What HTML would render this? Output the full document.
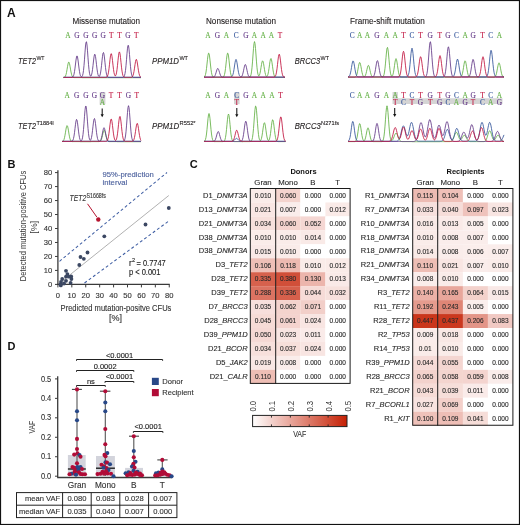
<!DOCTYPE html>
<html><head><meta charset="utf-8"><style>
html,body{margin:0;padding:0;background:#fff;}
svg{display:block;will-change:transform;}
</style></head><body>
<svg width="520" height="525" viewBox="0 0 520 525">
<rect width="520" height="525" fill="#fff"/>
<text x="7.00" y="16.80" font-size="12" font-family='"Liberation Sans", sans-serif' fill="#111" font-weight="bold">A</text>
<text x="72.50" y="24.40" font-size="8.3" font-family='"Liberation Sans", sans-serif' fill="#231f20" textLength="67.5" lengthAdjust="spacingAndGlyphs" stroke="#231f20" stroke-width="0.12">Missense mutation</text>
<text x="206.00" y="24.40" font-size="8.3" font-family='"Liberation Sans", sans-serif' fill="#231f20" textLength="70" lengthAdjust="spacingAndGlyphs" stroke="#231f20" stroke-width="0.12">Nonsense mutation</text>
<text x="350.00" y="24.40" font-size="8.3" font-family='"Liberation Sans", sans-serif' fill="#231f20" textLength="74.8" lengthAdjust="spacingAndGlyphs" stroke="#231f20" stroke-width="0.12">Frame-shift mutation</text>
<text x="18.00" y="63.80" font-size="8.6" font-family='"Liberation Sans", sans-serif' fill="#231f20" font-style="italic" textLength="18" lengthAdjust="spacingAndGlyphs" stroke="#231f20" stroke-width="0.12">TET2</text>
<text x="36.40" y="60.20" font-size="6.0" font-family='"Liberation Sans", sans-serif' fill="#231f20" textLength="8.2" lengthAdjust="spacingAndGlyphs" stroke="#231f20" stroke-width="0.12">WT</text>
<text x="18.00" y="128.80" font-size="8.6" font-family='"Liberation Sans", sans-serif' fill="#231f20" font-style="italic" textLength="18" lengthAdjust="spacingAndGlyphs" stroke="#231f20" stroke-width="0.12">TET2</text>
<text x="36.40" y="125.20" font-size="6.0" font-family='"Liberation Sans", sans-serif' fill="#231f20" textLength="17.5" lengthAdjust="spacingAndGlyphs" stroke="#231f20" stroke-width="0.12">T1884I</text>
<text x="152.00" y="63.80" font-size="8.6" font-family='"Liberation Sans", sans-serif' fill="#231f20" font-style="italic" textLength="27" lengthAdjust="spacingAndGlyphs" stroke="#231f20" stroke-width="0.12">PPM1D</text>
<text x="179.40" y="60.20" font-size="6.0" font-family='"Liberation Sans", sans-serif' fill="#231f20" textLength="8.6" lengthAdjust="spacingAndGlyphs" stroke="#231f20" stroke-width="0.12">WT</text>
<text x="152.00" y="128.70" font-size="8.6" font-family='"Liberation Sans", sans-serif' fill="#231f20" font-style="italic" textLength="27.2" lengthAdjust="spacingAndGlyphs" stroke="#231f20" stroke-width="0.12">PPM1D</text>
<text x="179.60" y="125.10" font-size="6.0" font-family='"Liberation Sans", sans-serif' fill="#231f20" textLength="16" lengthAdjust="spacingAndGlyphs" stroke="#231f20" stroke-width="0.12">R552*</text>
<text x="294.80" y="63.80" font-size="8.6" font-family='"Liberation Sans", sans-serif' fill="#231f20" font-style="italic" textLength="25.4" lengthAdjust="spacingAndGlyphs" stroke="#231f20" stroke-width="0.12">BRCC3</text>
<text x="320.60" y="60.20" font-size="6.0" font-family='"Liberation Sans", sans-serif' fill="#231f20" textLength="8.4" lengthAdjust="spacingAndGlyphs" stroke="#231f20" stroke-width="0.12">WT</text>
<text x="294.70" y="128.80" font-size="8.6" font-family='"Liberation Sans", sans-serif' fill="#231f20" font-style="italic" textLength="26" lengthAdjust="spacingAndGlyphs" stroke="#231f20" stroke-width="0.12">BRCC3</text>
<text x="321.10" y="125.20" font-size="6.0" font-family='"Liberation Sans", sans-serif' fill="#231f20" textLength="18" lengthAdjust="spacingAndGlyphs" stroke="#231f20" stroke-width="0.12">N271fs</text>
<text x="68.00" y="37.90" font-size="7.35" font-family='"Liberation Serif", serif' fill="#62b043" text-anchor="middle" stroke="#62b043" stroke-width="0.1">A</text>
<text x="76.80" y="37.90" font-size="7.35" font-family='"Liberation Serif", serif' fill="#623786" text-anchor="middle" stroke="#623786" stroke-width="0.1">G</text>
<text x="86.00" y="37.90" font-size="7.35" font-family='"Liberation Serif", serif' fill="#623786" text-anchor="middle" stroke="#623786" stroke-width="0.1">G</text>
<text x="94.60" y="37.90" font-size="7.35" font-family='"Liberation Serif", serif' fill="#623786" text-anchor="middle" stroke="#623786" stroke-width="0.1">G</text>
<text x="103.20" y="37.90" font-size="7.35" font-family='"Liberation Serif", serif' fill="#623786" text-anchor="middle" stroke="#623786" stroke-width="0.1">G</text>
<text x="111.20" y="37.90" font-size="7.35" font-family='"Liberation Serif", serif' fill="#c0143f" text-anchor="middle" stroke="#c0143f" stroke-width="0.1">T</text>
<text x="119.40" y="37.90" font-size="7.35" font-family='"Liberation Serif", serif' fill="#c0143f" text-anchor="middle" stroke="#c0143f" stroke-width="0.1">T</text>
<text x="128.00" y="37.90" font-size="7.35" font-family='"Liberation Serif", serif' fill="#623786" text-anchor="middle" stroke="#623786" stroke-width="0.1">G</text>
<text x="136.30" y="37.90" font-size="7.35" font-family='"Liberation Serif", serif' fill="#c0143f" text-anchor="middle" stroke="#c0143f" stroke-width="0.1">T</text>
<polyline points="63.5,77.6 64.0,77.5 64.5,77.3 65.0,76.9 65.5,76.0 66.0,74.6 66.5,72.5 67.0,69.7 67.5,66.7 68.0,64.0 68.5,62.3 69.0,62.2 69.5,63.6 70.0,66.1 70.5,69.1 71.0,72.0 71.5,74.2 72.0,75.8 72.5,76.7 73.0,77.3 73.5,77.5 74.0,77.6 74.5,77.6 75.0,77.6 75.5,77.6 76.0,77.6 76.5,77.6 77.0,77.6 77.5,77.6 78.0,77.6 78.5,77.6 79.0,77.6 79.5,77.6 80.0,77.6 80.5,77.6 81.0,77.6 81.5,77.6 82.0,77.7 82.5,77.7 83.0,77.7 83.5,77.7 84.0,77.7 84.5,77.7 85.0,77.7 85.5,77.7 86.0,77.7 86.5,77.7 87.0,77.7 87.5,77.7 88.0,77.7 88.5,77.7 89.0,77.7 89.5,77.7 90.0,77.7 90.5,77.7 91.0,77.7 91.5,77.7 92.0,77.7 92.5,77.7 93.0,77.7 93.5,77.7 94.0,77.7 94.5,77.7 95.0,77.7 95.5,77.7 96.0,77.7 96.5,77.7 97.0,77.7 97.5,77.7 98.0,77.7 98.5,77.7 99.0,77.7 99.5,77.7 100.0,77.7 100.5,77.7 101.0,77.7 101.5,77.7 102.0,77.7 102.5,77.7 103.0,77.7 103.5,77.7 104.0,77.7 104.5,77.7 105.0,77.7 105.5,77.7 106.0,77.7 106.5,77.7 107.0,77.7 107.5,77.7 108.0,77.7 108.5,77.7 109.0,77.7 109.5,77.7 110.0,77.7 110.5,77.7 111.0,77.7 111.5,77.7 112.0,77.7 112.5,77.7 113.0,77.7 113.5,77.7 114.0,77.7 114.5,77.7 115.0,77.7 115.5,77.7 116.0,77.7 116.5,77.7 117.0,77.7 117.5,77.7 118.0,77.7 118.5,77.7 119.0,77.7 119.5,77.7 120.0,77.7 120.5,77.7 121.0,77.7 121.5,77.7 122.0,77.7 122.5,77.7 123.0,77.7 123.5,77.7 124.0,77.7 124.5,77.7 125.0,77.7 125.5,77.7 126.0,77.7 126.5,77.7 127.0,77.7 127.5,77.7 128.0,77.7 128.5,77.7 129.0,77.7 129.5,77.7 130.0,77.7 130.5,77.7 131.0,77.7 131.5,77.7 132.0,77.7 132.5,77.7 133.0,77.7 133.5,77.7 134.0,77.7 134.5,77.7 135.0,77.7 135.5,77.7 136.0,77.7 136.5,77.7 137.0,77.7 137.5,77.7 138.0,77.7 138.5,77.7 139.0,77.7 139.5,77.7 140.0,77.7 140.5,77.7 141.0,77.7" fill="none" stroke="#62b043" stroke-width="0.85" stroke-linejoin="round"/>
<polyline points="63.5,77.2 64.0,77.2 64.5,77.2 65.0,77.2 65.5,77.2 66.0,77.2 66.5,77.2 67.0,77.2 67.5,77.2 68.0,77.2 68.5,77.2 69.0,77.2 69.5,77.2 70.0,77.2 70.5,77.2 71.0,77.2 71.5,77.2 72.0,77.2 72.5,77.2 73.0,77.2 73.5,77.2 74.0,77.2 74.5,77.2 75.0,77.2 75.5,77.2 76.0,77.2 76.5,77.2 77.0,77.2 77.5,77.2 78.0,77.2 78.5,77.2 79.0,77.2 79.5,77.2 80.0,77.2 80.5,77.2 81.0,77.2 81.5,77.2 82.0,77.2 82.5,77.2 83.0,77.2 83.5,77.2 84.0,77.2 84.5,77.2 85.0,77.2 85.5,77.2 86.0,77.2 86.5,77.2 87.0,77.2 87.5,77.2 88.0,77.2 88.5,77.2 89.0,77.2 89.5,77.2 90.0,77.2 90.5,77.2 91.0,77.2 91.5,77.2 92.0,77.2 92.5,77.2 93.0,77.2 93.5,77.2 94.0,77.2 94.5,77.2 95.0,77.2 95.5,77.2 96.0,77.2 96.5,77.2 97.0,77.2 97.5,77.2 98.0,77.2 98.5,77.2 99.0,77.2 99.5,77.2 100.0,77.2 100.5,77.2 101.0,77.2 101.5,77.2 102.0,77.2 102.5,77.2 103.0,77.2 103.5,77.2 104.0,77.2 104.5,77.2 105.0,77.2 105.5,77.2 106.0,77.2 106.5,77.2 107.0,77.2 107.5,77.2 108.0,77.2 108.5,77.2 109.0,77.2 109.5,77.2 110.0,77.2 110.5,77.2 111.0,77.2 111.5,77.2 112.0,77.2 112.5,77.2 113.0,77.2 113.5,77.2 114.0,77.2 114.5,77.2 115.0,77.2 115.5,77.2 116.0,77.2 116.5,77.2 117.0,77.2 117.5,77.2 118.0,77.2 118.5,77.2 119.0,77.2 119.5,77.2 120.0,77.2 120.5,77.2 121.0,77.2 121.5,77.2 122.0,77.2 122.5,77.2 123.0,77.2 123.5,77.2 124.0,77.2 124.5,77.2 125.0,77.2 125.5,77.2 126.0,77.2 126.5,77.2 127.0,77.2 127.5,77.2 128.0,77.2 128.5,77.2 129.0,77.2 129.5,77.2 130.0,77.2 130.5,77.2 131.0,77.2 131.5,77.2 132.0,77.2 132.5,77.2 133.0,77.2 133.5,77.2 134.0,77.2 134.5,77.2 135.0,77.2 135.5,77.2 136.0,77.2 136.5,77.2 137.0,77.2 137.5,77.2 138.0,77.2 138.5,77.2 139.0,77.2 139.5,77.2 140.0,77.2 140.5,77.2 141.0,77.2" fill="none" stroke="#33549a" stroke-width="0.85" stroke-linejoin="round"/>
<polyline points="63.5,77.5 64.0,77.5 64.5,77.5 65.0,77.5 65.5,77.5 66.0,77.5 66.5,77.5 67.0,77.5 67.5,77.5 68.0,77.5 68.5,77.5 69.0,77.5 69.5,77.5 70.0,77.5 70.5,77.5 71.0,77.5 71.5,77.5 72.0,77.4 72.5,77.2 73.0,76.7 73.5,75.8 74.0,74.2 74.5,71.6 75.0,68.1 75.5,64.0 76.0,60.0 76.5,57.0 77.0,55.9 77.5,57.0 78.0,60.0 78.5,64.0 79.0,68.1 79.5,71.6 80.0,74.2 80.5,75.8 81.0,76.6 81.5,76.9 82.0,76.6 82.5,75.7 83.0,73.8 83.5,70.5 84.0,65.5 84.5,59.2 85.0,52.2 85.5,46.0 86.0,42.2 86.5,41.8 87.0,45.0 87.5,50.8 88.0,57.8 88.5,64.3 89.0,69.6 89.5,73.2 90.0,75.2 90.5,76.1 91.0,76.0 91.5,74.9 92.0,72.9 92.5,69.7 93.0,65.6 93.5,61.0 94.0,57.0 94.5,54.5 95.0,54.3 95.5,56.4 96.0,60.2 96.5,64.7 97.0,68.9 97.5,72.3 98.0,74.7 98.5,76.0 99.0,76.5 99.5,76.2 100.0,75.2 100.5,73.1 101.0,69.9 101.5,65.7 102.0,60.8 102.5,56.3 103.0,53.2 103.5,52.5 104.0,54.2 104.5,58.0 105.0,62.8 105.5,67.5 106.0,71.4 106.5,74.1 107.0,75.8 107.5,76.7 108.0,77.2 108.5,77.4 109.0,77.5 109.5,77.5 110.0,77.5 110.5,77.5 111.0,77.5 111.5,77.5 112.0,77.5 112.5,77.5 113.0,77.5 113.5,77.5 114.0,77.5 114.5,77.5 115.0,77.5 115.5,77.5 116.0,77.5 116.5,77.5 117.0,77.5 117.5,77.5 118.0,77.5 118.5,77.5 119.0,77.5 119.5,77.5 120.0,77.5 120.5,77.5 121.0,77.5 121.5,77.5 122.0,77.5 122.5,77.5 123.0,77.4 123.5,77.2 124.0,76.7 124.5,75.6 125.0,73.6 125.5,70.4 126.0,65.6 126.5,59.7 127.0,53.4 127.5,48.2 128.0,45.3 128.5,45.6 129.0,49.1 129.5,54.6 130.0,60.9 130.5,66.7 131.0,71.1 131.5,74.1 132.0,75.9 132.5,76.8 133.0,77.2 133.5,77.4 134.0,77.5 134.5,77.5 135.0,77.5 135.5,77.5 136.0,77.5 136.5,77.5 137.0,77.5 137.5,77.5 138.0,77.5 138.5,77.5 139.0,77.5 139.5,77.5 140.0,77.5 140.5,77.5 141.0,77.5" fill="none" stroke="#623786" stroke-width="0.85" stroke-linejoin="round"/>
<polyline points="63.5,77.4 64.0,77.4 64.5,77.4 65.0,77.4 65.5,77.4 66.0,77.4 66.5,77.4 67.0,77.4 67.5,77.4 68.0,77.4 68.5,77.4 69.0,77.4 69.5,77.4 70.0,77.4 70.5,77.4 71.0,77.4 71.5,77.4 72.0,77.4 72.5,77.4 73.0,77.4 73.5,77.4 74.0,77.4 74.5,77.4 75.0,77.4 75.5,77.4 76.0,77.4 76.5,77.4 77.0,77.4 77.5,77.4 78.0,77.4 78.5,77.4 79.0,77.4 79.5,77.4 80.0,77.4 80.5,77.4 81.0,77.4 81.5,77.4 82.0,77.4 82.5,77.4 83.0,77.4 83.5,77.4 84.0,77.4 84.5,77.4 85.0,77.4 85.5,77.4 86.0,77.4 86.5,77.4 87.0,77.4 87.5,77.4 88.0,77.4 88.5,77.4 89.0,77.4 89.5,77.4 90.0,77.4 90.5,77.4 91.0,77.4 91.5,77.4 92.0,77.4 92.5,77.4 93.0,77.4 93.5,77.4 94.0,77.4 94.5,77.4 95.0,77.4 95.5,77.4 96.0,77.4 96.5,77.4 97.0,77.4 97.5,77.4 98.0,77.4 98.5,77.4 99.0,77.4 99.5,77.4 100.0,77.4 100.5,77.4 101.0,77.4 101.5,77.4 102.0,77.4 102.5,77.4 103.0,77.4 103.5,77.4 104.0,77.4 104.5,77.4 105.0,77.4 105.5,77.4 106.0,77.3 106.5,77.2 107.0,76.8 107.5,76.0 108.0,74.6 108.5,72.2 109.0,68.7 109.5,64.3 110.0,59.7 110.5,55.8 111.0,53.7 111.5,53.9 112.0,56.5 112.5,60.6 113.0,65.2 113.5,69.4 114.0,72.7 114.5,74.7 115.0,75.8 115.5,75.8 116.0,74.9 116.5,72.9 117.0,69.7 117.5,65.3 118.0,60.4 118.5,55.8 119.0,52.6 119.5,51.9 120.0,53.6 120.5,57.5 121.0,62.4 121.5,67.2 122.0,71.1 122.5,73.9 123.0,75.7 123.5,76.6 124.0,77.1 124.5,77.3 125.0,77.4 125.5,77.4 126.0,77.4 126.5,77.4 127.0,77.4 127.5,77.4 128.0,77.4 128.5,77.4 129.0,77.4 129.5,77.4 130.0,77.4 130.5,77.4 131.0,77.3 131.5,77.3 132.0,77.0 132.5,76.5 133.0,75.5 133.5,73.9 134.0,71.4 134.5,68.2 135.0,64.7 135.5,61.6 136.0,59.6 136.5,59.5 137.0,61.1 137.5,64.0 138.0,67.5 138.5,70.8 139.0,73.4 139.5,75.3 140.0,76.4 140.5,76.9 141.0,77.2" fill="none" stroke="#c0143f" stroke-width="0.85" stroke-linejoin="round"/>
<rect x="99.6" y="92.3" width="5.8" height="11.9" fill="#d5d5d5"/>
<text x="67.10" y="97.80" font-size="7.35" font-family='"Liberation Serif", serif' fill="#62b043" text-anchor="middle" stroke="#62b043" stroke-width="0.1">A</text>
<text x="76.60" y="97.80" font-size="7.35" font-family='"Liberation Serif", serif' fill="#623786" text-anchor="middle" stroke="#623786" stroke-width="0.1">G</text>
<text x="85.80" y="97.80" font-size="7.35" font-family='"Liberation Serif", serif' fill="#623786" text-anchor="middle" stroke="#623786" stroke-width="0.1">G</text>
<text x="94.40" y="97.80" font-size="7.35" font-family='"Liberation Serif", serif' fill="#623786" text-anchor="middle" stroke="#623786" stroke-width="0.1">G</text>
<text x="102.50" y="97.80" font-size="7.35" font-family='"Liberation Serif", serif' fill="#623786" text-anchor="middle" stroke="#623786" stroke-width="0.1">G</text>
<text x="110.90" y="97.80" font-size="7.35" font-family='"Liberation Serif", serif' fill="#c0143f" text-anchor="middle" stroke="#c0143f" stroke-width="0.1">T</text>
<text x="119.40" y="97.80" font-size="7.35" font-family='"Liberation Serif", serif' fill="#c0143f" text-anchor="middle" stroke="#c0143f" stroke-width="0.1">T</text>
<text x="128.50" y="97.80" font-size="7.35" font-family='"Liberation Serif", serif' fill="#623786" text-anchor="middle" stroke="#623786" stroke-width="0.1">G</text>
<text x="136.70" y="97.80" font-size="7.35" font-family='"Liberation Serif", serif' fill="#c0143f" text-anchor="middle" stroke="#c0143f" stroke-width="0.1">T</text>
<text x="102.50" y="104.60" font-size="7.35" font-family='"Liberation Serif", serif' fill="#62b043" text-anchor="middle" stroke="#62b043" stroke-width="0.1">A</text>
<line x1="102.2" y1="108.4" x2="102.2" y2="114.8" stroke="#111" stroke-width="1.05"/>
<path d="M100.60000000000001,114.3 L102.2,117.3 L103.8,114.3 Z" fill="#111"/>
<polyline points="62.0,141.6 62.5,141.5 63.0,141.2 63.5,140.6 64.0,139.5 64.5,137.7 65.0,135.2 65.5,132.2 66.0,129.1 66.5,126.7 67.0,125.6 67.5,126.1 68.0,128.0 68.5,130.9 69.0,134.1 69.5,136.8 70.0,138.9 70.5,140.2 71.0,141.0 71.5,141.4 72.0,141.5 72.5,141.6 73.0,141.6 73.5,141.6 74.0,141.6 74.5,141.6 75.0,141.6 75.5,141.6 76.0,141.6 76.5,141.6 77.0,141.6 77.5,141.6 78.0,141.6 78.5,141.6 79.0,141.6 79.5,141.6 80.0,141.6 80.5,141.7 81.0,141.7 81.5,141.7 82.0,141.7 82.5,141.7 83.0,141.7 83.5,141.7 84.0,141.7 84.5,141.7 85.0,141.7 85.5,141.7 86.0,141.7 86.5,141.7 87.0,141.7 87.5,141.7 88.0,141.7 88.5,141.7 89.0,141.7 89.5,141.7 90.0,141.7 90.5,141.7 91.0,141.7 91.5,141.6 92.0,141.6 92.5,141.6 93.0,141.6 93.5,141.6 94.0,141.6 94.5,141.6 95.0,141.6 95.5,141.6 96.0,141.6 96.5,141.6 97.0,141.6 97.5,141.6 98.0,141.6 98.5,141.6 99.0,141.6 99.5,141.5 100.0,141.4 100.5,141.0 101.0,140.3 101.5,139.1 102.0,137.5 102.5,135.4 103.0,133.2 103.5,131.4 104.0,130.3 104.5,130.5 105.0,131.7 105.5,133.6 106.0,135.8 106.5,137.9 107.0,139.4 107.5,140.5 108.0,141.1 108.5,141.4 109.0,141.6 109.5,141.6 110.0,141.6 110.5,141.6 111.0,141.6 111.5,141.6 112.0,141.6 112.5,141.6 113.0,141.6 113.5,141.6 114.0,141.6 114.5,141.6 115.0,141.6 115.5,141.6 116.0,141.6 116.5,141.6 117.0,141.6 117.5,141.7 118.0,141.7 118.5,141.7 119.0,141.7 119.5,141.7 120.0,141.7 120.5,141.7 121.0,141.7 121.5,141.7 122.0,141.7 122.5,141.7 123.0,141.7 123.5,141.7 124.0,141.7 124.5,141.7 125.0,141.7 125.5,141.7 126.0,141.7 126.5,141.7 127.0,141.7 127.5,141.7 128.0,141.7 128.5,141.7 129.0,141.7 129.5,141.7 130.0,141.7 130.5,141.7 131.0,141.7 131.5,141.7 132.0,141.7 132.5,141.7 133.0,141.7 133.5,141.7 134.0,141.7 134.5,141.7 135.0,141.7 135.5,141.7 136.0,141.7 136.5,141.7 137.0,141.7 137.5,141.7 138.0,141.7 138.5,141.7 139.0,141.7 139.5,141.7 140.0,141.7 140.5,141.7 141.0,141.7" fill="none" stroke="#62b043" stroke-width="0.85" stroke-linejoin="round"/>
<polyline points="62.0,141.2 62.5,141.2 63.0,141.2 63.5,141.2 64.0,141.2 64.5,141.2 65.0,141.2 65.5,141.2 66.0,141.2 66.5,141.2 67.0,141.2 67.5,141.2 68.0,141.2 68.5,141.2 69.0,141.2 69.5,141.2 70.0,141.2 70.5,141.2 71.0,141.2 71.5,141.2 72.0,141.2 72.5,141.2 73.0,141.2 73.5,141.2 74.0,141.2 74.5,141.2 75.0,141.2 75.5,141.2 76.0,141.2 76.5,141.2 77.0,141.2 77.5,141.2 78.0,141.2 78.5,141.2 79.0,141.2 79.5,141.2 80.0,141.2 80.5,141.2 81.0,141.2 81.5,141.2 82.0,141.2 82.5,141.2 83.0,141.2 83.5,141.2 84.0,141.2 84.5,141.2 85.0,141.2 85.5,141.2 86.0,141.2 86.5,141.2 87.0,141.2 87.5,141.2 88.0,141.2 88.5,141.2 89.0,141.2 89.5,141.2 90.0,141.2 90.5,141.2 91.0,141.2 91.5,141.2 92.0,141.2 92.5,141.2 93.0,141.2 93.5,141.2 94.0,141.2 94.5,141.2 95.0,141.2 95.5,141.2 96.0,141.2 96.5,141.2 97.0,141.2 97.5,141.2 98.0,141.2 98.5,141.2 99.0,141.2 99.5,141.2 100.0,141.2 100.5,141.2 101.0,141.2 101.5,141.2 102.0,141.2 102.5,141.2 103.0,141.2 103.5,141.2 104.0,141.2 104.5,141.2 105.0,141.2 105.5,141.2 106.0,141.2 106.5,141.2 107.0,141.2 107.5,141.2 108.0,141.2 108.5,141.2 109.0,141.2 109.5,141.2 110.0,141.2 110.5,141.2 111.0,141.2 111.5,141.2 112.0,141.2 112.5,141.2 113.0,141.2 113.5,141.2 114.0,141.2 114.5,141.2 115.0,141.2 115.5,141.2 116.0,141.2 116.5,141.2 117.0,141.2 117.5,141.2 118.0,141.2 118.5,141.2 119.0,141.2 119.5,141.2 120.0,141.2 120.5,141.2 121.0,141.2 121.5,141.2 122.0,141.2 122.5,141.2 123.0,141.2 123.5,141.2 124.0,141.2 124.5,141.2 125.0,141.2 125.5,141.2 126.0,141.2 126.5,141.2 127.0,141.2 127.5,141.2 128.0,141.2 128.5,141.2 129.0,141.2 129.5,141.2 130.0,141.2 130.5,141.2 131.0,141.2 131.5,141.2 132.0,141.2 132.5,141.2 133.0,141.2 133.5,141.2 134.0,141.2 134.5,141.2 135.0,141.2 135.5,141.2 136.0,141.2 136.5,141.2 137.0,141.2 137.5,141.2 138.0,141.2 138.5,141.2 139.0,141.2 139.5,141.2 140.0,141.2 140.5,141.2 141.0,141.2" fill="none" stroke="#33549a" stroke-width="0.85" stroke-linejoin="round"/>
<polyline points="62.0,141.5 62.5,141.5 63.0,141.5 63.5,141.5 64.0,141.5 64.5,141.5 65.0,141.5 65.5,141.5 66.0,141.5 66.5,141.5 67.0,141.5 67.5,141.5 68.0,141.5 68.5,141.5 69.0,141.5 69.5,141.5 70.0,141.5 70.5,141.5 71.0,141.5 71.5,141.4 72.0,141.2 72.5,140.8 73.0,140.0 73.5,138.5 74.0,136.1 74.5,132.7 75.0,128.5 75.5,124.3 76.0,121.0 76.5,119.4 77.0,120.1 77.5,122.8 78.0,126.8 78.5,131.1 79.0,134.8 79.5,137.7 80.0,139.5 80.5,140.5 81.0,140.8 81.5,140.6 82.0,139.7 82.5,137.8 83.0,134.5 83.5,129.6 84.0,123.3 84.5,116.3 85.0,110.2 85.5,106.4 86.0,106.0 86.5,109.2 87.0,115.0 87.5,121.9 88.0,128.4 88.5,133.6 89.0,137.2 89.5,139.3 90.0,140.2 90.5,140.2 91.0,139.3 91.5,137.5 92.0,134.6 92.5,130.6 93.0,126.2 93.5,122.1 94.0,119.3 94.5,118.5 95.0,120.2 95.5,123.6 96.0,128.0 96.5,132.3 97.0,135.9 97.5,138.4 98.0,139.9 98.5,140.8 99.0,141.1 99.5,141.2 100.0,141.0 100.5,140.4 101.0,139.4 101.5,137.7 102.0,135.5 102.5,132.9 103.0,130.3 103.5,128.4 104.0,127.7 104.5,128.4 105.0,130.3 105.5,132.9 106.0,135.5 106.5,137.7 107.0,139.4 107.5,140.4 108.0,141.0 108.5,141.3 109.0,141.4 109.5,141.5 110.0,141.5 110.5,141.5 111.0,141.5 111.5,141.5 112.0,141.5 112.5,141.5 113.0,141.5 113.5,141.5 114.0,141.5 114.5,141.5 115.0,141.5 115.5,141.5 116.0,141.5 116.5,141.5 117.0,141.5 117.5,141.5 118.0,141.5 118.5,141.5 119.0,141.5 119.5,141.5 120.0,141.5 120.5,141.5 121.0,141.5 121.5,141.5 122.0,141.5 122.5,141.5 123.0,141.4 123.5,141.3 124.0,141.0 124.5,140.2 125.0,138.7 125.5,136.0 126.0,131.8 126.5,125.9 127.0,119.1 127.5,112.4 128.0,107.5 128.5,105.7 129.0,107.5 129.5,112.4 130.0,119.1 130.5,125.9 131.0,131.8 131.5,136.0 132.0,138.7 132.5,140.2 133.0,141.0 133.5,141.3 134.0,141.4 134.5,141.5 135.0,141.5 135.5,141.5 136.0,141.5 136.5,141.5 137.0,141.5 137.5,141.5 138.0,141.5 138.5,141.5 139.0,141.5 139.5,141.5 140.0,141.5 140.5,141.5 141.0,141.5" fill="none" stroke="#623786" stroke-width="0.85" stroke-linejoin="round"/>
<polyline points="62.0,141.4 62.5,141.4 63.0,141.4 63.5,141.4 64.0,141.4 64.5,141.4 65.0,141.4 65.5,141.4 66.0,141.4 66.5,141.4 67.0,141.4 67.5,141.4 68.0,141.4 68.5,141.4 69.0,141.4 69.5,141.4 70.0,141.4 70.5,141.4 71.0,141.4 71.5,141.4 72.0,141.4 72.5,141.4 73.0,141.4 73.5,141.4 74.0,141.4 74.5,141.4 75.0,141.4 75.5,141.4 76.0,141.4 76.5,141.4 77.0,141.4 77.5,141.4 78.0,141.4 78.5,141.4 79.0,141.4 79.5,141.4 80.0,141.4 80.5,141.4 81.0,141.4 81.5,141.4 82.0,141.4 82.5,141.4 83.0,141.4 83.5,141.4 84.0,141.4 84.5,141.4 85.0,141.4 85.5,141.4 86.0,141.4 86.5,141.4 87.0,141.4 87.5,141.4 88.0,141.4 88.5,141.4 89.0,141.4 89.5,141.4 90.0,141.4 90.5,141.4 91.0,141.4 91.5,141.4 92.0,141.4 92.5,141.4 93.0,141.4 93.5,141.4 94.0,141.4 94.5,141.4 95.0,141.4 95.5,141.4 96.0,141.4 96.5,141.4 97.0,141.4 97.5,141.4 98.0,141.4 98.5,141.4 99.0,141.4 99.5,141.4 100.0,141.4 100.5,141.4 101.0,141.4 101.5,141.4 102.0,141.4 102.5,141.4 103.0,141.4 103.5,141.4 104.0,141.4 104.5,141.4 105.0,141.4 105.5,141.4 106.0,141.3 106.5,141.2 107.0,140.8 107.5,140.1 108.0,138.7 108.5,136.5 109.0,133.2 109.5,129.1 110.0,124.7 110.5,121.1 111.0,119.1 111.5,119.3 112.0,121.7 112.5,125.6 113.0,129.9 113.5,133.9 114.0,137.0 114.5,139.0 115.0,140.1 115.5,140.5 116.0,140.2 116.5,139.1 117.0,137.0 117.5,133.8 118.0,129.6 118.5,124.7 119.0,120.2 119.5,117.1 120.0,116.4 120.5,118.1 121.0,121.9 121.5,126.7 122.0,131.4 122.5,135.3 123.0,138.0 123.5,139.7 124.0,140.6 124.5,141.1 125.0,141.3 125.5,141.4 126.0,141.4 126.5,141.4 127.0,141.4 127.5,141.4 128.0,141.4 128.5,141.4 129.0,141.4 129.5,141.4 130.0,141.4 130.5,141.4 131.0,141.4 131.5,141.4 132.0,141.3 132.5,141.2 133.0,140.9 133.5,140.4 134.0,139.3 134.5,137.4 135.0,134.8 135.5,131.5 136.0,128.0 136.5,125.1 137.0,123.5 137.5,123.6 138.0,125.6 138.5,128.7 139.0,132.2 139.5,135.4 140.0,137.9 140.5,139.5 141.0,140.5" fill="none" stroke="#c0143f" stroke-width="0.85" stroke-linejoin="round"/>
<text x="207.80" y="37.90" font-size="7.35" font-family='"Liberation Serif", serif' fill="#62b043" text-anchor="middle" stroke="#62b043" stroke-width="0.1">A</text>
<text x="217.30" y="37.90" font-size="7.35" font-family='"Liberation Serif", serif' fill="#623786" text-anchor="middle" stroke="#623786" stroke-width="0.1">G</text>
<text x="226.50" y="37.90" font-size="7.35" font-family='"Liberation Serif", serif' fill="#62b043" text-anchor="middle" stroke="#62b043" stroke-width="0.1">A</text>
<text x="236.30" y="37.90" font-size="7.35" font-family='"Liberation Serif", serif' fill="#33549a" text-anchor="middle" stroke="#33549a" stroke-width="0.1">C</text>
<text x="245.80" y="37.90" font-size="7.35" font-family='"Liberation Serif", serif' fill="#623786" text-anchor="middle" stroke="#623786" stroke-width="0.1">G</text>
<text x="254.50" y="37.90" font-size="7.35" font-family='"Liberation Serif", serif' fill="#62b043" text-anchor="middle" stroke="#62b043" stroke-width="0.1">A</text>
<text x="263.10" y="37.90" font-size="7.35" font-family='"Liberation Serif", serif' fill="#62b043" text-anchor="middle" stroke="#62b043" stroke-width="0.1">A</text>
<text x="271.50" y="37.90" font-size="7.35" font-family='"Liberation Serif", serif' fill="#62b043" text-anchor="middle" stroke="#62b043" stroke-width="0.1">A</text>
<text x="280.00" y="37.90" font-size="7.35" font-family='"Liberation Serif", serif' fill="#c0143f" text-anchor="middle" stroke="#c0143f" stroke-width="0.1">T</text>
<polyline points="204.0,77.2 204.5,76.8 205.0,76.0 205.5,74.5 206.0,72.1 206.5,68.5 207.0,64.0 207.5,59.3 208.0,55.3 208.5,53.2 209.0,53.4 209.5,56.0 210.0,60.2 210.5,65.0 211.0,69.3 211.5,72.7 212.0,74.9 212.5,76.2 213.0,76.9 213.5,77.2 214.0,77.4 214.5,77.4 215.0,77.4 215.5,77.4 216.0,77.4 216.5,77.4 217.0,77.4 217.5,77.4 218.0,77.4 218.5,77.4 219.0,77.4 219.5,77.4 220.0,77.4 220.5,77.4 221.0,77.4 221.5,77.4 222.0,77.4 222.5,77.4 223.0,77.2 223.5,76.8 224.0,76.0 224.5,74.5 225.0,72.1 225.5,68.5 226.0,64.0 226.5,59.3 227.0,55.3 227.5,53.2 228.0,53.4 228.5,56.0 229.0,60.2 229.5,65.0 230.0,69.3 230.5,72.7 231.0,74.9 231.5,76.2 232.0,76.9 232.5,77.2 233.0,77.4 233.5,77.4 234.0,77.4 234.5,77.4 235.0,77.4 235.5,77.4 236.0,77.4 236.5,77.4 237.0,77.4 237.5,77.4 238.0,77.4 238.5,77.4 239.0,77.4 239.5,77.4 240.0,77.4 240.5,77.4 241.0,77.5 241.5,77.4 242.0,77.4 242.5,77.4 243.0,77.4 243.5,77.4 244.0,77.4 244.5,77.4 245.0,77.4 245.5,77.4 246.0,77.4 246.5,77.4 247.0,77.4 247.5,77.4 248.0,77.4 248.5,77.4 249.0,77.4 249.5,77.3 250.0,76.9 250.5,76.2 251.0,74.7 251.5,71.9 252.0,67.7 252.5,61.9 253.0,55.0 253.5,48.4 254.0,43.5 254.5,41.6 255.0,43.5 255.5,48.4 256.0,55.0 256.5,61.9 257.0,67.7 257.5,71.9 258.0,74.4 258.5,75.7 259.0,75.8 259.5,75.0 260.0,73.3 260.5,70.8 261.0,67.6 261.5,64.5 262.0,62.0 262.5,60.8 263.0,61.3 263.5,63.3 264.0,66.3 264.5,69.6 265.0,72.4 265.5,74.5 266.0,75.8 266.5,76.4 267.0,76.4 267.5,75.6 268.0,74.1 268.5,71.7 269.0,68.5 269.5,64.8 270.0,61.4 270.5,59.1 271.0,58.5 271.5,59.8 272.0,62.7 272.5,66.3 273.0,69.9 273.5,72.8 274.0,74.9 274.5,76.2 275.0,76.9 275.5,77.2 276.0,77.4 276.5,77.4 277.0,77.4 277.5,77.4 278.0,77.4 278.5,77.4 279.0,77.4 279.5,77.4 280.0,77.4 280.5,77.4 281.0,77.4 281.5,77.4 282.0,77.4 282.5,77.4 283.0,77.4 283.5,77.4 284.0,77.5 284.5,77.5 285.0,77.5" fill="none" stroke="#62b043" stroke-width="0.85" stroke-linejoin="round"/>
<polyline points="204.0,77.0 204.5,77.0 205.0,77.0 205.5,77.0 206.0,77.0 206.5,77.0 207.0,77.0 207.5,77.0 208.0,77.0 208.5,77.0 209.0,77.0 209.5,77.0 210.0,77.0 210.5,77.0 211.0,77.0 211.5,77.0 212.0,77.0 212.5,77.0 213.0,77.0 213.5,77.0 214.0,77.0 214.5,77.0 215.0,77.0 215.5,77.0 216.0,77.0 216.5,77.0 217.0,77.0 217.5,77.0 218.0,77.0 218.5,77.0 219.0,77.0 219.5,77.0 220.0,77.0 220.5,77.0 221.0,77.0 221.5,77.0 222.0,77.0 222.5,77.0 223.0,77.0 223.5,77.0 224.0,77.0 224.5,77.0 225.0,77.0 225.5,77.0 226.0,77.0 226.5,77.0 227.0,77.0 227.5,77.0 228.0,77.0 228.5,77.0 229.0,77.0 229.5,77.0 230.0,77.0 230.5,77.0 231.0,77.0 231.5,76.8 232.0,76.4 232.5,75.7 233.0,74.3 233.5,72.3 234.0,69.4 234.5,66.0 235.0,62.8 235.5,60.3 236.0,59.4 236.5,60.3 237.0,62.8 237.5,66.0 238.0,69.4 238.5,72.3 239.0,74.3 239.5,75.7 240.0,76.4 240.5,76.8 241.0,77.0 241.5,77.0 242.0,77.0 242.5,77.0 243.0,77.0 243.5,77.0 244.0,77.0 244.5,77.0 245.0,77.0 245.5,77.0 246.0,77.0 246.5,77.0 247.0,77.0 247.5,77.0 248.0,77.0 248.5,77.0 249.0,77.0 249.5,77.0 250.0,77.0 250.5,77.0 251.0,77.0 251.5,77.0 252.0,77.0 252.5,77.0 253.0,77.0 253.5,77.0 254.0,77.0 254.5,77.0 255.0,77.0 255.5,77.0 256.0,77.0 256.5,77.0 257.0,77.0 257.5,77.0 258.0,77.0 258.5,77.0 259.0,77.0 259.5,77.0 260.0,77.0 260.5,77.0 261.0,77.0 261.5,77.0 262.0,77.0 262.5,77.0 263.0,77.0 263.5,77.0 264.0,77.0 264.5,77.0 265.0,77.0 265.5,77.0 266.0,77.0 266.5,77.0 267.0,77.0 267.5,77.0 268.0,77.0 268.5,77.0 269.0,77.0 269.5,77.0 270.0,77.0 270.5,77.0 271.0,77.0 271.5,77.0 272.0,77.0 272.5,77.0 273.0,77.0 273.5,77.0 274.0,77.0 274.5,77.0 275.0,77.0 275.5,77.0 276.0,77.0 276.5,77.0 277.0,77.0 277.5,77.0 278.0,77.0 278.5,77.0 279.0,77.0 279.5,77.0 280.0,77.0 280.5,77.0 281.0,77.0 281.5,77.0 282.0,77.0 282.5,77.0 283.0,77.0 283.5,77.0 284.0,77.0 284.5,77.0 285.0,77.0" fill="none" stroke="#33549a" stroke-width="0.85" stroke-linejoin="round"/>
<polyline points="204.0,77.3 204.5,77.3 205.0,77.3 205.5,77.3 206.0,77.3 206.5,77.3 207.0,77.3 207.5,77.3 208.0,77.3 208.5,77.3 209.0,77.3 209.5,77.3 210.0,77.3 210.5,77.3 211.0,77.3 211.5,77.3 212.0,77.3 212.5,77.3 213.0,77.2 213.5,77.1 214.0,76.9 214.5,76.4 215.0,75.6 215.5,74.3 216.0,72.8 216.5,71.0 217.0,69.5 217.5,68.6 218.0,68.5 218.5,69.3 219.0,70.7 219.5,72.4 220.0,74.0 220.5,75.3 221.0,76.2 221.5,76.8 222.0,77.1 222.5,77.2 223.0,77.3 223.5,77.3 224.0,77.3 224.5,77.3 225.0,77.3 225.5,77.3 226.0,77.3 226.5,77.3 227.0,77.3 227.5,77.3 228.0,77.3 228.5,77.3 229.0,77.3 229.5,77.3 230.0,77.3 230.5,77.3 231.0,77.3 231.5,77.3 232.0,77.3 232.5,77.3 233.0,77.3 233.5,77.3 234.0,77.3 234.5,77.3 235.0,77.3 235.5,77.3 236.0,77.3 236.5,77.3 237.0,77.3 237.5,77.3 238.0,77.3 238.5,77.3 239.0,77.3 239.5,77.3 240.0,77.3 240.5,77.2 241.0,77.0 241.5,76.7 242.0,76.0 242.5,74.8 243.0,73.0 243.5,70.8 244.0,68.3 244.5,66.1 245.0,64.7 245.5,64.6 246.0,65.7 246.5,67.8 247.0,70.3 247.5,72.6 248.0,74.5 248.5,75.8 249.0,76.6 249.5,77.0 250.0,77.2 250.5,77.3 251.0,77.3 251.5,77.3 252.0,77.3 252.5,77.3 253.0,77.3 253.5,77.3 254.0,77.3 254.5,77.3 255.0,77.3 255.5,77.3 256.0,77.3 256.5,77.3 257.0,77.3 257.5,77.3 258.0,77.3 258.5,77.3 259.0,77.3 259.5,77.3 260.0,77.3 260.5,77.3 261.0,77.3 261.5,77.3 262.0,77.3 262.5,77.3 263.0,77.3 263.5,77.3 264.0,77.3 264.5,77.3 265.0,77.3 265.5,77.3 266.0,77.3 266.5,77.3 267.0,77.3 267.5,77.3 268.0,77.3 268.5,77.3 269.0,77.3 269.5,77.3 270.0,77.3 270.5,77.3 271.0,77.3 271.5,77.3 272.0,77.3 272.5,77.3 273.0,77.3 273.5,77.3 274.0,77.3 274.5,77.3 275.0,77.3 275.5,77.3 276.0,77.3 276.5,77.3 277.0,77.3 277.5,77.3 278.0,77.3 278.5,77.3 279.0,77.3 279.5,77.3 280.0,77.3 280.5,77.3 281.0,77.3 281.5,77.3 282.0,77.3 282.5,77.3 283.0,77.3 283.5,77.3 284.0,77.3 284.5,77.3 285.0,77.3" fill="none" stroke="#623786" stroke-width="0.85" stroke-linejoin="round"/>
<polyline points="204.0,77.2 204.5,77.2 205.0,77.2 205.5,77.2 206.0,77.2 206.5,77.2 207.0,77.2 207.5,77.2 208.0,77.2 208.5,77.2 209.0,77.2 209.5,77.2 210.0,77.2 210.5,77.2 211.0,77.2 211.5,77.2 212.0,77.2 212.5,77.2 213.0,77.2 213.5,77.2 214.0,77.2 214.5,77.2 215.0,77.2 215.5,77.2 216.0,77.2 216.5,77.2 217.0,77.2 217.5,77.2 218.0,77.2 218.5,77.2 219.0,77.2 219.5,77.2 220.0,77.2 220.5,77.2 221.0,77.2 221.5,77.2 222.0,77.2 222.5,77.2 223.0,77.2 223.5,77.2 224.0,77.2 224.5,77.2 225.0,77.2 225.5,77.2 226.0,77.2 226.5,77.2 227.0,77.2 227.5,77.2 228.0,77.2 228.5,77.2 229.0,77.2 229.5,77.2 230.0,77.2 230.5,77.2 231.0,77.2 231.5,77.2 232.0,77.2 232.5,77.2 233.0,77.2 233.5,77.2 234.0,77.2 234.5,77.2 235.0,77.2 235.5,77.2 236.0,77.2 236.5,77.2 237.0,77.2 237.5,77.2 238.0,77.2 238.5,77.2 239.0,77.2 239.5,77.2 240.0,77.2 240.5,77.2 241.0,77.2 241.5,77.2 242.0,77.2 242.5,77.2 243.0,77.2 243.5,77.2 244.0,77.2 244.5,77.2 245.0,77.2 245.5,77.2 246.0,77.2 246.5,77.2 247.0,77.2 247.5,77.2 248.0,77.2 248.5,77.2 249.0,77.2 249.5,77.2 250.0,77.2 250.5,77.2 251.0,77.2 251.5,77.2 252.0,77.2 252.5,77.2 253.0,77.2 253.5,77.2 254.0,77.2 254.5,77.2 255.0,77.2 255.5,77.2 256.0,77.2 256.5,77.2 257.0,77.2 257.5,77.2 258.0,77.2 258.5,77.2 259.0,77.2 259.5,77.2 260.0,77.2 260.5,77.2 261.0,77.2 261.5,77.2 262.0,77.2 262.5,77.2 263.0,77.2 263.5,77.2 264.0,77.2 264.5,77.2 265.0,77.2 265.5,77.2 266.0,77.2 266.5,77.2 267.0,77.2 267.5,77.2 268.0,77.2 268.5,77.2 269.0,77.2 269.5,77.2 270.0,77.2 270.5,77.2 271.0,77.2 271.5,77.2 272.0,77.2 272.5,77.2 273.0,77.2 273.5,77.2 274.0,77.1 274.5,77.0 275.0,76.6 275.5,75.9 276.0,74.5 276.5,72.1 277.0,68.8 277.5,64.5 278.0,60.1 278.5,56.3 279.0,54.3 279.5,54.5 280.0,57.0 280.5,60.9 281.0,65.4 281.5,69.5 282.0,72.7 282.5,74.8 283.0,76.1 283.5,76.7 284.0,77.0 284.5,77.1 285.0,77.2" fill="none" stroke="#c0143f" stroke-width="0.85" stroke-linejoin="round"/>
<rect x="234" y="92.3" width="5.6" height="11.9" fill="#d5d5d5"/>
<text x="207.80" y="97.80" font-size="7.35" font-family='"Liberation Serif", serif' fill="#62b043" text-anchor="middle" stroke="#62b043" stroke-width="0.1">A</text>
<text x="217.30" y="97.80" font-size="7.35" font-family='"Liberation Serif", serif' fill="#623786" text-anchor="middle" stroke="#623786" stroke-width="0.1">G</text>
<text x="226.30" y="97.80" font-size="7.35" font-family='"Liberation Serif", serif' fill="#62b043" text-anchor="middle" stroke="#62b043" stroke-width="0.1">A</text>
<text x="236.70" y="97.80" font-size="7.35" font-family='"Liberation Serif", serif' fill="#33549a" text-anchor="middle" stroke="#33549a" stroke-width="0.1">C</text>
<text x="245.80" y="97.80" font-size="7.35" font-family='"Liberation Serif", serif' fill="#623786" text-anchor="middle" stroke="#623786" stroke-width="0.1">G</text>
<text x="254.50" y="97.80" font-size="7.35" font-family='"Liberation Serif", serif' fill="#62b043" text-anchor="middle" stroke="#62b043" stroke-width="0.1">A</text>
<text x="263.10" y="97.80" font-size="7.35" font-family='"Liberation Serif", serif' fill="#62b043" text-anchor="middle" stroke="#62b043" stroke-width="0.1">A</text>
<text x="271.80" y="97.80" font-size="7.35" font-family='"Liberation Serif", serif' fill="#62b043" text-anchor="middle" stroke="#62b043" stroke-width="0.1">A</text>
<text x="280.40" y="97.80" font-size="7.35" font-family='"Liberation Serif", serif' fill="#c0143f" text-anchor="middle" stroke="#c0143f" stroke-width="0.1">T</text>
<text x="236.70" y="104.60" font-size="7.35" font-family='"Liberation Serif", serif' fill="#c0143f" text-anchor="middle" stroke="#c0143f" stroke-width="0.1">T</text>
<line x1="236.8" y1="108" x2="236.8" y2="114.8" stroke="#111" stroke-width="1.05"/>
<path d="M235.20000000000002,114.3 L236.8,117.3 L238.4,114.3 Z" fill="#111"/>
<polyline points="204.0,141.5 204.5,141.2 205.0,140.6 205.5,139.4 206.0,137.3 206.5,134.0 207.0,129.4 207.5,124.0 208.0,118.7 208.5,114.9 209.0,113.5 209.5,114.9 210.0,118.7 210.5,124.0 211.0,129.4 211.5,134.0 212.0,137.3 212.5,139.4 213.0,140.6 213.5,141.2 214.0,141.5 214.5,141.6 215.0,141.6 215.5,141.6 216.0,141.6 216.5,141.6 217.0,141.6 217.5,141.6 218.0,141.6 218.5,141.6 219.0,141.6 219.5,141.6 220.0,141.6 220.5,141.6 221.0,141.6 221.5,141.6 222.0,141.6 222.5,141.6 223.0,141.6 223.5,141.5 224.0,141.2 224.5,140.7 225.0,139.5 225.5,137.4 226.0,134.1 226.5,129.6 227.0,124.3 227.5,119.2 228.0,115.4 228.5,114.0 229.0,115.4 229.5,119.2 230.0,124.3 230.5,129.6 231.0,134.1 231.5,137.4 232.0,139.5 232.5,140.7 233.0,141.2 233.5,141.5 234.0,141.6 234.5,141.6 235.0,141.6 235.5,141.6 236.0,141.6 236.5,141.6 237.0,141.6 237.5,141.6 238.0,141.6 238.5,141.6 239.0,141.6 239.5,141.6 240.0,141.6 240.5,141.6 241.0,141.6 241.5,141.6 242.0,141.7 242.5,141.7 243.0,141.6 243.5,141.6 244.0,141.6 244.5,141.6 245.0,141.6 245.5,141.6 246.0,141.6 246.5,141.6 247.0,141.6 247.5,141.6 248.0,141.6 248.5,141.6 249.0,141.6 249.5,141.6 250.0,141.6 250.5,141.5 251.0,141.3 251.5,140.7 252.0,139.6 252.5,137.4 253.0,133.8 253.5,128.6 254.0,122.0 254.5,115.1 255.0,109.3 255.5,106.1 256.0,106.5 256.5,110.3 257.0,116.5 257.5,123.4 258.0,129.7 258.5,134.6 259.0,137.9 259.5,139.7 260.0,140.5 260.5,140.6 261.0,139.8 261.5,138.3 262.0,135.9 262.5,132.7 263.0,129.0 263.5,125.6 264.0,123.3 264.5,122.7 265.0,124.0 265.5,126.9 266.0,130.5 266.5,134.1 267.0,137.0 267.5,139.0 268.0,140.1 268.5,140.5 269.0,140.1 269.5,139.0 270.0,136.8 270.5,133.6 271.0,129.6 271.5,125.3 272.0,121.8 272.5,119.8 273.0,120.1 273.5,122.4 274.0,126.2 274.5,130.4 275.0,134.3 275.5,137.3 276.0,139.4 276.5,140.6 277.0,141.2 277.5,141.5 278.0,141.6 278.5,141.6 279.0,141.6 279.5,141.6 280.0,141.6 280.5,141.6 281.0,141.6 281.5,141.6 282.0,141.6 282.5,141.6 283.0,141.6 283.5,141.6 284.0,141.6 284.5,141.6 285.0,141.6 285.5,141.6" fill="none" stroke="#62b043" stroke-width="0.85" stroke-linejoin="round"/>
<polyline points="204.0,141.2 204.5,141.2 205.0,141.2 205.5,141.2 206.0,141.2 206.5,141.2 207.0,141.2 207.5,141.2 208.0,141.2 208.5,141.2 209.0,141.2 209.5,141.2 210.0,141.2 210.5,141.2 211.0,141.2 211.5,141.2 212.0,141.2 212.5,141.2 213.0,141.2 213.5,141.2 214.0,141.2 214.5,141.2 215.0,141.2 215.5,141.2 216.0,141.2 216.5,141.2 217.0,141.2 217.5,141.2 218.0,141.2 218.5,141.2 219.0,141.2 219.5,141.2 220.0,141.2 220.5,141.2 221.0,141.2 221.5,141.2 222.0,141.2 222.5,141.2 223.0,141.2 223.5,141.2 224.0,141.2 224.5,141.2 225.0,141.2 225.5,141.2 226.0,141.2 226.5,141.2 227.0,141.2 227.5,141.2 228.0,141.2 228.5,141.2 229.0,141.2 229.5,141.2 230.0,141.2 230.5,141.2 231.0,141.2 231.5,141.2 232.0,141.2 232.5,141.1 233.0,141.0 233.5,140.8 234.0,140.5 234.5,140.0 235.0,139.4 235.5,138.9 236.0,138.5 236.5,138.3 237.0,138.5 237.5,138.9 238.0,139.4 238.5,140.0 239.0,140.5 239.5,140.8 240.0,141.0 240.5,141.1 241.0,141.2 241.5,141.2 242.0,141.2 242.5,141.2 243.0,141.2 243.5,141.2 244.0,141.2 244.5,141.2 245.0,141.2 245.5,141.2 246.0,141.2 246.5,141.2 247.0,141.2 247.5,141.2 248.0,141.2 248.5,141.2 249.0,141.2 249.5,141.2 250.0,141.2 250.5,141.2 251.0,141.2 251.5,141.2 252.0,141.2 252.5,141.2 253.0,141.2 253.5,141.2 254.0,141.2 254.5,141.2 255.0,141.2 255.5,141.2 256.0,141.2 256.5,141.2 257.0,141.2 257.5,141.2 258.0,141.2 258.5,141.2 259.0,141.2 259.5,141.2 260.0,141.2 260.5,141.2 261.0,141.2 261.5,141.2 262.0,141.2 262.5,141.2 263.0,141.2 263.5,141.2 264.0,141.2 264.5,141.2 265.0,141.2 265.5,141.2 266.0,141.2 266.5,141.2 267.0,141.2 267.5,141.2 268.0,141.2 268.5,141.2 269.0,141.2 269.5,141.2 270.0,141.2 270.5,141.2 271.0,141.2 271.5,141.2 272.0,141.2 272.5,141.2 273.0,141.2 273.5,141.2 274.0,141.2 274.5,141.2 275.0,141.2 275.5,141.2 276.0,141.2 276.5,141.2 277.0,141.2 277.5,141.2 278.0,141.2 278.5,141.2 279.0,141.2 279.5,141.2 280.0,141.2 280.5,141.2 281.0,141.2 281.5,141.2 282.0,141.2 282.5,141.2 283.0,141.2 283.5,141.2 284.0,141.2 284.5,141.2 285.0,141.2 285.5,141.2" fill="none" stroke="#33549a" stroke-width="0.85" stroke-linejoin="round"/>
<polyline points="204.0,141.5 204.5,141.5 205.0,141.5 205.5,141.5 206.0,141.5 206.5,141.5 207.0,141.5 207.5,141.5 208.0,141.5 208.5,141.5 209.0,141.5 209.5,141.5 210.0,141.5 210.5,141.5 211.0,141.5 211.5,141.5 212.0,141.5 212.5,141.5 213.0,141.5 213.5,141.4 214.0,141.2 214.5,140.9 215.0,140.3 215.5,139.3 216.0,137.8 216.5,136.0 217.0,134.1 217.5,132.5 218.0,131.6 218.5,131.7 219.0,132.7 219.5,134.5 220.0,136.4 220.5,138.2 221.0,139.5 221.5,140.5 222.0,141.0 222.5,141.3 223.0,141.4 223.5,141.5 224.0,141.5 224.5,141.5 225.0,141.5 225.5,141.5 226.0,141.5 226.5,141.5 227.0,141.5 227.5,141.5 228.0,141.5 228.5,141.5 229.0,141.5 229.5,141.5 230.0,141.5 230.5,141.5 231.0,141.5 231.5,141.5 232.0,141.5 232.5,141.5 233.0,141.5 233.5,141.5 234.0,141.5 234.5,141.5 235.0,141.5 235.5,141.5 236.0,141.5 236.5,141.5 237.0,141.5 237.5,141.5 238.0,141.5 238.5,141.5 239.0,141.5 239.5,141.5 240.0,141.5 240.5,141.4 241.0,141.3 241.5,141.1 242.0,140.5 242.5,139.4 243.0,137.5 243.5,134.7 244.0,131.1 244.5,127.1 245.0,123.6 245.5,121.5 246.0,121.3 246.5,123.1 247.0,126.4 247.5,130.3 248.0,134.0 248.5,137.0 249.0,139.1 249.5,140.3 250.0,141.0 250.5,141.3 251.0,141.4 251.5,141.5 252.0,141.5 252.5,141.5 253.0,141.5 253.5,141.5 254.0,141.5 254.5,141.5 255.0,141.5 255.5,141.5 256.0,141.5 256.5,141.5 257.0,141.5 257.5,141.5 258.0,141.5 258.5,141.5 259.0,141.5 259.5,141.5 260.0,141.5 260.5,141.5 261.0,141.5 261.5,141.5 262.0,141.5 262.5,141.5 263.0,141.5 263.5,141.5 264.0,141.5 264.5,141.5 265.0,141.5 265.5,141.5 266.0,141.5 266.5,141.5 267.0,141.5 267.5,141.5 268.0,141.5 268.5,141.5 269.0,141.5 269.5,141.5 270.0,141.5 270.5,141.5 271.0,141.5 271.5,141.5 272.0,141.5 272.5,141.5 273.0,141.5 273.5,141.5 274.0,141.5 274.5,141.5 275.0,141.5 275.5,141.5 276.0,141.5 276.5,141.5 277.0,141.5 277.5,141.5 278.0,141.5 278.5,141.5 279.0,141.5 279.5,141.5 280.0,141.5 280.5,141.5 281.0,141.5 281.5,141.5 282.0,141.5 282.5,141.5 283.0,141.5 283.5,141.5 284.0,141.5 284.5,141.5 285.0,141.5 285.5,141.5" fill="none" stroke="#623786" stroke-width="0.85" stroke-linejoin="round"/>
<polyline points="204.0,141.4 204.5,141.4 205.0,141.4 205.5,141.4 206.0,141.4 206.5,141.4 207.0,141.4 207.5,141.4 208.0,141.4 208.5,141.4 209.0,141.4 209.5,141.4 210.0,141.4 210.5,141.4 211.0,141.4 211.5,141.4 212.0,141.4 212.5,141.4 213.0,141.4 213.5,141.4 214.0,141.4 214.5,141.4 215.0,141.4 215.5,141.4 216.0,141.4 216.5,141.4 217.0,141.4 217.5,141.4 218.0,141.4 218.5,141.4 219.0,141.4 219.5,141.4 220.0,141.4 220.5,141.4 221.0,141.4 221.5,141.4 222.0,141.4 222.5,141.4 223.0,141.4 223.5,141.4 224.0,141.4 224.5,141.4 225.0,141.4 225.5,141.4 226.0,141.4 226.5,141.4 227.0,141.4 227.5,141.4 228.0,141.4 228.5,141.4 229.0,141.4 229.5,141.4 230.0,141.4 230.5,141.4 231.0,141.4 231.5,141.4 232.0,141.3 232.5,141.1 233.0,140.8 233.5,140.1 234.0,138.9 234.5,137.3 235.0,135.3 235.5,133.1 236.0,131.3 236.5,130.3 237.0,130.4 237.5,131.6 238.0,133.5 238.5,135.7 239.0,137.7 239.5,139.2 240.0,140.2 240.5,140.8 241.0,141.2 241.5,141.3 242.0,141.4 242.5,141.4 243.0,141.4 243.5,141.4 244.0,141.4 244.5,141.4 245.0,141.4 245.5,141.4 246.0,141.4 246.5,141.4 247.0,141.4 247.5,141.4 248.0,141.4 248.5,141.4 249.0,141.4 249.5,141.4 250.0,141.4 250.5,141.4 251.0,141.4 251.5,141.4 252.0,141.4 252.5,141.4 253.0,141.4 253.5,141.4 254.0,141.4 254.5,141.4 255.0,141.4 255.5,141.4 256.0,141.4 256.5,141.4 257.0,141.4 257.5,141.4 258.0,141.4 258.5,141.4 259.0,141.4 259.5,141.4 260.0,141.4 260.5,141.4 261.0,141.4 261.5,141.4 262.0,141.4 262.5,141.4 263.0,141.4 263.5,141.4 264.0,141.4 264.5,141.4 265.0,141.4 265.5,141.4 266.0,141.4 266.5,141.4 267.0,141.4 267.5,141.4 268.0,141.4 268.5,141.4 269.0,141.4 269.5,141.4 270.0,141.4 270.5,141.4 271.0,141.4 271.5,141.4 272.0,141.4 272.5,141.4 273.0,141.4 273.5,141.4 274.0,141.4 274.5,141.4 275.0,141.4 275.5,141.3 276.0,141.2 276.5,140.9 277.0,140.2 277.5,138.8 278.0,136.6 278.5,133.2 279.0,128.8 279.5,124.0 280.0,119.8 280.5,117.2 281.0,116.9 281.5,119.1 282.0,123.1 282.5,127.9 283.0,132.4 283.5,136.0 284.0,138.5 284.5,140.0 285.0,140.8 285.5,141.2" fill="none" stroke="#c0143f" stroke-width="0.85" stroke-linejoin="round"/>
<text x="352.30" y="37.90" font-size="7.35" font-family='"Liberation Serif", serif' fill="#33549a" text-anchor="middle" stroke="#33549a" stroke-width="0.1">C</text>
<text x="359.70" y="37.90" font-size="7.35" font-family='"Liberation Serif", serif' fill="#62b043" text-anchor="middle" stroke="#62b043" stroke-width="0.1">A</text>
<text x="367.50" y="37.90" font-size="7.35" font-family='"Liberation Serif", serif' fill="#62b043" text-anchor="middle" stroke="#62b043" stroke-width="0.1">A</text>
<text x="377.00" y="37.90" font-size="7.35" font-family='"Liberation Serif", serif' fill="#623786" text-anchor="middle" stroke="#623786" stroke-width="0.1">G</text>
<text x="386.50" y="37.90" font-size="7.35" font-family='"Liberation Serif", serif' fill="#62b043" text-anchor="middle" stroke="#62b043" stroke-width="0.1">A</text>
<text x="395.20" y="37.90" font-size="7.35" font-family='"Liberation Serif", serif' fill="#62b043" text-anchor="middle" stroke="#62b043" stroke-width="0.1">A</text>
<text x="403.50" y="37.90" font-size="7.35" font-family='"Liberation Serif", serif' fill="#c0143f" text-anchor="middle" stroke="#c0143f" stroke-width="0.1">T</text>
<text x="412.00" y="37.90" font-size="7.35" font-family='"Liberation Serif", serif' fill="#33549a" text-anchor="middle" stroke="#33549a" stroke-width="0.1">C</text>
<text x="420.50" y="37.90" font-size="7.35" font-family='"Liberation Serif", serif' fill="#c0143f" text-anchor="middle" stroke="#c0143f" stroke-width="0.1">T</text>
<text x="430.20" y="37.90" font-size="7.35" font-family='"Liberation Serif", serif' fill="#623786" text-anchor="middle" stroke="#623786" stroke-width="0.1">G</text>
<text x="439.70" y="37.90" font-size="7.35" font-family='"Liberation Serif", serif' fill="#c0143f" text-anchor="middle" stroke="#c0143f" stroke-width="0.1">T</text>
<text x="448.00" y="37.90" font-size="7.35" font-family='"Liberation Serif", serif' fill="#623786" text-anchor="middle" stroke="#623786" stroke-width="0.1">G</text>
<text x="456.50" y="37.90" font-size="7.35" font-family='"Liberation Serif", serif' fill="#33549a" text-anchor="middle" stroke="#33549a" stroke-width="0.1">C</text>
<text x="465.10" y="37.90" font-size="7.35" font-family='"Liberation Serif", serif' fill="#62b043" text-anchor="middle" stroke="#62b043" stroke-width="0.1">A</text>
<text x="473.10" y="37.90" font-size="7.35" font-family='"Liberation Serif", serif' fill="#623786" text-anchor="middle" stroke="#623786" stroke-width="0.1">G</text>
<text x="482.40" y="37.90" font-size="7.35" font-family='"Liberation Serif", serif' fill="#c0143f" text-anchor="middle" stroke="#c0143f" stroke-width="0.1">T</text>
<text x="490.70" y="37.90" font-size="7.35" font-family='"Liberation Serif", serif' fill="#33549a" text-anchor="middle" stroke="#33549a" stroke-width="0.1">C</text>
<text x="499.40" y="37.90" font-size="7.35" font-family='"Liberation Serif", serif' fill="#62b043" text-anchor="middle" stroke="#62b043" stroke-width="0.1">A</text>
<polyline points="348.0,77.2 348.5,77.2 349.0,77.2 349.5,77.2 350.0,77.2 350.5,77.2 351.0,77.2 351.5,77.2 352.0,77.2 352.5,77.2 353.0,77.2 353.5,77.2 354.0,77.2 354.5,77.2 355.0,77.1 355.5,76.9 356.0,76.4 356.5,75.5 357.0,74.0 357.5,71.8 358.0,69.1 358.5,66.3 359.0,63.9 359.5,62.6 360.0,62.7 360.5,64.3 361.0,66.8 361.5,69.7 362.0,72.3 362.5,74.3 363.0,75.7 363.5,76.4 364.0,76.7 364.5,76.6 365.0,76.1 365.5,75.2 366.0,73.7 366.5,71.6 367.0,69.3 367.5,67.2 368.0,65.7 368.5,65.4 369.0,66.2 369.5,68.0 370.0,70.3 370.5,72.5 371.0,74.3 371.5,75.6 372.0,76.4 372.5,76.9 373.0,77.1 373.5,77.2 374.0,77.2 374.5,77.2 375.0,77.2 375.5,77.2 376.0,77.2 376.5,77.2 377.0,77.2 377.5,77.2 378.0,77.2 378.5,77.2 379.0,77.2 379.5,77.2 380.0,77.2 380.5,77.2 381.0,77.2 381.5,77.2 382.0,77.2 382.5,77.0 383.0,76.7 383.5,76.0 384.0,74.6 384.5,72.1 385.0,68.2 385.5,63.1 386.0,57.4 386.5,52.0 387.0,48.3 387.5,47.4 388.0,49.5 388.5,54.0 389.0,59.7 389.5,65.3 390.0,69.9 390.5,73.2 391.0,75.1 391.5,76.1 392.0,76.2 392.5,75.7 393.0,74.3 393.5,72.2 394.0,69.2 394.5,65.6 395.0,62.1 395.5,59.6 396.0,58.6 396.5,59.6 397.0,62.1 397.5,65.6 398.0,69.2 398.5,72.2 399.0,74.4 399.5,75.8 400.0,76.6 400.5,77.0 401.0,77.1 401.5,77.2 402.0,77.2 402.5,77.2 403.0,77.2 403.5,77.2 404.0,77.2 404.5,77.2 405.0,77.2 405.5,77.2 406.0,77.2 406.5,77.2 407.0,77.2 407.5,77.2 408.0,77.2 408.5,77.2 409.0,77.2 409.5,77.2 410.0,77.2 410.5,77.2 411.0,77.2 411.5,77.2 412.0,77.2 412.5,77.2 413.0,77.2 413.5,77.2 414.0,77.2 414.5,77.2 415.0,77.2 415.5,77.2 416.0,77.2 416.5,77.2 417.0,77.2 417.5,77.2 418.0,77.2 418.5,77.2 419.0,77.2 419.5,77.2 420.0,77.2 420.5,77.2 421.0,77.2 421.5,77.2 422.0,77.2 422.5,77.2 423.0,77.2 423.5,77.2 424.0,77.2 424.5,77.2 425.0,77.2 425.5,77.2 426.0,77.2 426.5,77.2 427.0,77.2 427.5,77.2 428.0,77.2 428.5,77.2 429.0,77.2 429.5,77.2 430.0,77.2 430.5,77.2 431.0,77.2 431.5,77.2 432.0,77.2 432.5,77.2 433.0,77.2 433.5,77.2 434.0,77.2 434.5,77.2 435.0,77.2 435.5,77.2 436.0,77.2 436.5,77.2 437.0,77.2 437.5,77.2 438.0,77.2 438.5,77.2 439.0,77.2 439.5,77.2 440.0,77.2 440.5,77.2 441.0,77.2 441.5,77.2 442.0,77.2 442.5,77.2 443.0,77.2 443.5,77.2 444.0,77.2 444.5,77.2 445.0,77.2 445.5,77.2 446.0,77.2 446.5,77.2 447.0,77.2 447.5,77.2 448.0,77.2 448.5,77.2 449.0,77.2 449.5,77.2 450.0,77.2 450.5,77.2 451.0,77.2 451.5,77.2 452.0,77.2 452.5,77.2 453.0,77.2 453.5,77.2 454.0,77.2 454.5,77.2 455.0,77.2 455.5,77.2 456.0,77.2 456.5,77.2 457.0,77.2 457.5,77.2 458.0,77.2 458.5,77.2 459.0,77.2 459.5,77.2 460.0,77.2 460.5,77.0 461.0,76.8 461.5,76.1 462.0,75.0 462.5,73.2 463.0,70.7 463.5,67.6 464.0,64.4 464.5,61.9 465.0,60.8 465.5,61.3 466.0,63.3 466.5,66.3 467.0,69.5 467.5,72.3 468.0,74.4 468.5,75.8 469.0,76.6 469.5,77.0 470.0,77.1 470.5,77.2 471.0,77.2 471.5,77.2 472.0,77.2 472.5,77.2 473.0,77.2 473.5,77.2 474.0,77.2 474.5,77.2 475.0,77.2 475.5,77.2 476.0,77.2 476.5,77.2 477.0,77.2 477.5,77.2 478.0,77.2 478.5,77.2 479.0,77.2 479.5,77.2 480.0,77.2 480.5,77.2 481.0,77.2 481.5,77.2 482.0,77.2 482.5,77.2 483.0,77.2 483.5,77.2 484.0,77.2 484.5,77.2 485.0,77.2 485.5,77.2 486.0,77.2 486.5,77.2 487.0,77.2 487.5,77.2 488.0,77.2 488.5,77.2 489.0,77.2 489.5,77.2 490.0,77.2 490.5,77.2 491.0,77.2 491.5,77.2 492.0,77.2 492.5,77.2 493.0,77.2 493.5,77.2 494.0,77.2 494.5,77.0 495.0,76.7 495.5,76.1 496.0,75.0 496.5,73.3 497.0,70.9 497.5,68.2 498.0,65.5 498.5,63.5 499.0,62.8 499.5,63.5 500.0,65.5 500.5,68.2 501.0,70.9 501.5,73.3 502.0,75.0 502.5,76.1 503.0,76.7 503.5,77.0 504.0,77.2" fill="none" stroke="#62b043" stroke-width="0.85" stroke-linejoin="round"/>
<polyline points="348.0,76.8 348.5,76.7 349.0,76.4 349.5,75.8 350.0,74.7 350.5,72.9 351.0,70.5 351.5,67.5 352.0,64.4 352.5,62.0 353.0,60.9 353.5,61.4 354.0,63.3 354.5,66.2 355.0,69.3 355.5,72.0 356.0,74.1 356.5,75.4 357.0,76.2 357.5,76.6 358.0,76.7 358.5,76.8 359.0,76.8 359.5,76.8 360.0,76.8 360.5,76.8 361.0,76.8 361.5,76.8 362.0,76.8 362.5,76.8 363.0,76.8 363.5,76.8 364.0,76.8 364.5,76.8 365.0,76.8 365.5,76.8 366.0,76.8 366.5,76.8 367.0,76.8 367.5,76.8 368.0,76.8 368.5,76.8 369.0,76.8 369.5,76.8 370.0,76.8 370.5,76.8 371.0,76.8 371.5,76.8 372.0,76.8 372.5,76.8 373.0,76.8 373.5,76.8 374.0,76.8 374.5,76.8 375.0,76.8 375.5,76.8 376.0,76.8 376.5,76.8 377.0,76.8 377.5,76.8 378.0,76.8 378.5,76.8 379.0,76.8 379.5,76.8 380.0,76.8 380.5,76.8 381.0,76.8 381.5,76.8 382.0,76.8 382.5,76.8 383.0,76.8 383.5,76.8 384.0,76.8 384.5,76.8 385.0,76.8 385.5,76.8 386.0,76.8 386.5,76.8 387.0,76.8 387.5,76.8 388.0,76.8 388.5,76.8 389.0,76.8 389.5,76.8 390.0,76.8 390.5,76.8 391.0,76.8 391.5,76.8 392.0,76.8 392.5,76.8 393.0,76.8 393.5,76.8 394.0,76.8 394.5,76.8 395.0,76.8 395.5,76.8 396.0,76.8 396.5,76.8 397.0,76.8 397.5,76.8 398.0,76.8 398.5,76.8 399.0,76.8 399.5,76.8 400.0,76.8 400.5,76.8 401.0,76.8 401.5,76.8 402.0,76.8 402.5,76.8 403.0,76.8 403.5,76.8 404.0,76.8 404.5,76.8 405.0,76.8 405.5,76.8 406.0,76.8 406.5,76.8 407.0,76.7 407.5,76.4 408.0,75.8 408.5,74.6 409.0,72.5 409.5,69.1 410.0,64.4 410.5,58.9 411.0,53.6 411.5,49.7 412.0,48.2 412.5,49.7 413.0,53.6 413.5,58.9 414.0,64.4 414.5,69.1 415.0,72.5 415.5,74.6 416.0,75.8 416.5,76.4 417.0,76.7 417.5,76.8 418.0,76.8 418.5,76.8 419.0,76.8 419.5,76.8 420.0,76.8 420.5,76.8 421.0,76.8 421.5,76.8 422.0,76.8 422.5,76.8 423.0,76.8 423.5,76.8 424.0,76.8 424.5,76.8 425.0,76.8 425.5,76.8 426.0,76.8 426.5,76.8 427.0,76.8 427.5,76.8 428.0,76.8 428.5,76.8 429.0,76.8 429.5,76.8 430.0,76.8 430.5,76.8 431.0,76.8 431.5,76.8 432.0,76.8 432.5,76.8 433.0,76.8 433.5,76.8 434.0,76.8 434.5,76.8 435.0,76.8 435.5,76.8 436.0,76.8 436.5,76.8 437.0,76.8 437.5,76.8 438.0,76.8 438.5,76.8 439.0,76.8 439.5,76.8 440.0,76.8 440.5,76.8 441.0,76.8 441.5,76.8 442.0,76.8 442.5,76.8 443.0,76.8 443.5,76.8 444.0,76.8 444.5,76.8 445.0,76.8 445.5,76.8 446.0,76.8 446.5,76.8 447.0,76.8 447.5,76.8 448.0,76.8 448.5,76.8 449.0,76.8 449.5,76.8 450.0,76.8 450.5,76.8 451.0,76.8 451.5,76.8 452.0,76.8 452.5,76.8 453.0,76.6 453.5,76.2 454.0,75.5 454.5,74.1 455.0,72.0 455.5,69.2 456.0,65.8 456.5,62.5 457.0,60.0 457.5,59.1 458.0,60.0 458.5,62.5 459.0,65.8 459.5,69.2 460.0,72.0 460.5,74.1 461.0,75.5 461.5,76.2 462.0,76.6 462.5,76.8 463.0,76.8 463.5,76.8 464.0,76.8 464.5,76.8 465.0,76.8 465.5,76.8 466.0,76.8 466.5,76.8 467.0,76.8 467.5,76.8 468.0,76.8 468.5,76.8 469.0,76.8 469.5,76.8 470.0,76.8 470.5,76.8 471.0,76.8 471.5,76.8 472.0,76.8 472.5,76.8 473.0,76.8 473.5,76.8 474.0,76.8 474.5,76.8 475.0,76.8 475.5,76.8 476.0,76.8 476.5,76.8 477.0,76.8 477.5,76.8 478.0,76.8 478.5,76.8 479.0,76.8 479.5,76.8 480.0,76.8 480.5,76.8 481.0,76.8 481.5,76.8 482.0,76.8 482.5,76.8 483.0,76.8 483.5,76.8 484.0,76.8 484.5,76.8 485.0,76.8 485.5,76.8 486.0,76.7 486.5,76.5 487.0,76.0 487.5,75.1 488.0,73.3 488.5,70.3 489.0,66.2 489.5,61.2 490.0,56.2 490.5,52.2 491.0,50.3 491.5,51.1 492.0,54.4 492.5,59.2 493.0,64.3 493.5,68.8 494.0,72.2 494.5,74.5 495.0,75.7 495.5,76.4 496.0,76.7 496.5,76.8 497.0,76.8 497.5,76.8 498.0,76.8 498.5,76.8 499.0,76.8 499.5,76.8 500.0,76.8 500.5,76.8 501.0,76.8 501.5,76.8 502.0,76.8 502.5,76.8 503.0,76.8 503.5,76.8 504.0,76.8" fill="none" stroke="#33549a" stroke-width="0.85" stroke-linejoin="round"/>
<polyline points="348.0,77.1 348.5,77.1 349.0,77.1 349.5,77.1 350.0,77.1 350.5,77.1 351.0,77.1 351.5,77.1 352.0,77.1 352.5,77.1 353.0,77.1 353.5,77.1 354.0,77.1 354.5,77.1 355.0,77.1 355.5,77.1 356.0,77.1 356.5,77.1 357.0,77.1 357.5,77.1 358.0,77.1 358.5,77.1 359.0,77.1 359.5,77.1 360.0,77.1 360.5,77.1 361.0,77.1 361.5,77.1 362.0,77.1 362.5,77.1 363.0,77.1 363.5,77.1 364.0,77.1 364.5,77.1 365.0,77.1 365.5,77.1 366.0,77.1 366.5,77.1 367.0,77.1 367.5,77.1 368.0,77.1 368.5,77.1 369.0,77.1 369.5,77.1 370.0,77.1 370.5,77.1 371.0,77.1 371.5,77.1 372.0,77.1 372.5,77.0 373.0,76.8 373.5,76.4 374.0,75.6 374.5,74.2 375.0,72.1 375.5,69.3 376.0,66.1 376.5,63.2 377.0,61.1 377.5,60.6 378.0,61.8 378.5,64.3 379.0,67.4 379.5,70.5 380.0,73.1 380.5,74.9 381.0,76.0 381.5,76.6 382.0,76.9 382.5,77.0 383.0,77.1 383.5,77.1 384.0,77.1 384.5,77.1 385.0,77.1 385.5,77.1 386.0,77.1 386.5,77.1 387.0,77.1 387.5,77.1 388.0,77.1 388.5,77.1 389.0,77.1 389.5,77.1 390.0,77.1 390.5,77.1 391.0,77.1 391.5,77.1 392.0,77.1 392.5,77.1 393.0,77.1 393.5,77.1 394.0,77.1 394.5,77.1 395.0,77.1 395.5,77.1 396.0,77.1 396.5,77.1 397.0,77.1 397.5,77.1 398.0,77.1 398.5,77.1 399.0,77.1 399.5,77.1 400.0,77.1 400.5,77.1 401.0,77.1 401.5,77.1 402.0,77.1 402.5,77.1 403.0,77.1 403.5,77.1 404.0,77.1 404.5,77.1 405.0,77.1 405.5,77.1 406.0,77.1 406.5,77.1 407.0,77.1 407.5,77.1 408.0,77.1 408.5,77.1 409.0,77.1 409.5,77.1 410.0,77.1 410.5,77.1 411.0,77.1 411.5,77.1 412.0,77.1 412.5,77.1 413.0,77.1 413.5,77.1 414.0,77.1 414.5,77.1 415.0,77.1 415.5,77.1 416.0,77.1 416.5,77.1 417.0,77.1 417.5,77.1 418.0,77.1 418.5,77.1 419.0,77.1 419.5,77.1 420.0,77.1 420.5,77.1 421.0,77.1 421.5,77.1 422.0,77.1 422.5,77.1 423.0,77.1 423.5,77.1 424.0,77.1 424.5,77.1 425.0,77.0 425.5,76.8 426.0,76.3 426.5,75.3 427.0,73.4 427.5,70.1 428.0,65.3 428.5,59.0 429.0,52.1 429.5,45.9 430.0,42.2 430.5,41.8 431.0,45.0 431.5,50.7 432.0,57.6 432.5,64.1 433.0,69.3 433.5,72.9 434.0,75.0 434.5,76.2 435.0,76.7 435.5,77.0 436.0,77.1 436.5,77.1 437.0,77.1 437.5,77.1 438.0,77.1 438.5,77.1 439.0,77.1 439.5,77.1 440.0,77.1 440.5,77.1 441.0,77.1 441.5,77.1 442.0,77.1 442.5,77.1 443.0,77.0 443.5,76.9 444.0,76.6 444.5,75.8 445.0,74.4 445.5,71.8 446.0,67.9 446.5,62.8 447.0,56.9 447.5,51.4 448.0,47.7 448.5,46.8 449.0,48.9 449.5,53.5 450.0,59.3 450.5,65.0 451.0,69.7 451.5,73.0 452.0,75.1 452.5,76.2 453.0,76.7 453.5,77.0 454.0,77.1 454.5,77.1 455.0,77.1 455.5,77.1 456.0,77.1 456.5,77.1 457.0,77.1 457.5,77.1 458.0,77.1 458.5,77.1 459.0,77.1 459.5,77.1 460.0,77.1 460.5,77.1 461.0,77.1 461.5,77.1 462.0,77.1 462.5,77.1 463.0,77.1 463.5,77.1 464.0,77.1 464.5,77.1 465.0,77.1 465.5,77.1 466.0,77.1 466.5,77.1 467.0,77.1 467.5,77.1 468.0,77.0 468.5,76.9 469.0,76.6 469.5,75.9 470.0,74.7 470.5,72.8 471.0,70.0 471.5,66.7 472.0,63.3 472.5,60.7 473.0,59.4 473.5,60.0 474.0,62.1 474.5,65.3 475.0,68.7 475.5,71.8 476.0,74.0 476.5,75.5 477.0,76.4 477.5,76.8 478.0,77.0 478.5,77.1 479.0,77.1 479.5,77.1 480.0,77.1 480.5,77.1 481.0,77.1 481.5,77.1 482.0,77.1 482.5,77.1 483.0,77.1 483.5,77.1 484.0,77.1 484.5,77.1 485.0,77.1 485.5,77.1 486.0,77.1 486.5,77.1 487.0,77.1 487.5,77.1 488.0,77.1 488.5,77.1 489.0,77.1 489.5,77.1 490.0,77.1 490.5,77.1 491.0,77.1 491.5,77.1 492.0,77.1 492.5,77.1 493.0,77.1 493.5,77.1 494.0,77.1 494.5,77.1 495.0,77.1 495.5,77.1 496.0,77.1 496.5,77.1 497.0,77.1 497.5,77.1 498.0,77.1 498.5,77.1 499.0,77.1 499.5,77.1 500.0,77.1 500.5,77.1 501.0,77.1 501.5,77.1 502.0,77.1 502.5,77.1 503.0,77.1 503.5,77.1 504.0,77.1" fill="none" stroke="#623786" stroke-width="0.85" stroke-linejoin="round"/>
<polyline points="348.0,77.0 348.5,77.0 349.0,77.0 349.5,77.0 350.0,77.0 350.5,77.0 351.0,77.0 351.5,77.0 352.0,77.0 352.5,77.0 353.0,77.0 353.5,77.0 354.0,77.0 354.5,77.0 355.0,77.0 355.5,77.0 356.0,77.0 356.5,77.0 357.0,77.0 357.5,77.0 358.0,77.0 358.5,77.0 359.0,77.0 359.5,77.0 360.0,77.0 360.5,77.0 361.0,77.0 361.5,77.0 362.0,77.0 362.5,77.0 363.0,77.0 363.5,77.0 364.0,77.0 364.5,77.0 365.0,77.0 365.5,77.0 366.0,77.0 366.5,77.0 367.0,77.0 367.5,77.0 368.0,77.0 368.5,77.0 369.0,77.0 369.5,77.0 370.0,77.0 370.5,77.0 371.0,77.0 371.5,77.0 372.0,77.0 372.5,77.0 373.0,77.0 373.5,77.0 374.0,77.0 374.5,77.0 375.0,77.0 375.5,77.0 376.0,77.0 376.5,77.0 377.0,77.0 377.5,77.0 378.0,77.0 378.5,77.0 379.0,77.0 379.5,77.0 380.0,77.0 380.5,77.0 381.0,77.0 381.5,77.0 382.0,77.0 382.5,77.0 383.0,77.0 383.5,77.0 384.0,77.0 384.5,77.0 385.0,77.0 385.5,77.0 386.0,77.0 386.5,77.0 387.0,77.0 387.5,77.0 388.0,77.0 388.5,77.0 389.0,77.0 389.5,77.0 390.0,77.0 390.5,77.0 391.0,77.0 391.5,77.0 392.0,77.0 392.5,77.0 393.0,77.0 393.5,77.0 394.0,77.0 394.5,77.0 395.0,77.0 395.5,77.0 396.0,77.0 396.5,77.0 397.0,77.0 397.5,77.0 398.0,77.0 398.5,76.9 399.0,76.6 399.5,76.1 400.0,75.0 400.5,73.1 401.0,70.0 401.5,65.8 402.0,60.9 402.5,56.1 403.0,52.6 403.5,51.3 404.0,52.6 404.5,56.1 405.0,60.9 405.5,65.8 406.0,70.0 406.5,73.1 407.0,75.0 407.5,76.1 408.0,76.6 408.5,76.9 409.0,77.0 409.5,77.0 410.0,77.0 410.5,77.0 411.0,77.0 411.5,77.0 412.0,77.0 412.5,77.0 413.0,77.0 413.5,77.0 414.0,77.0 414.5,77.0 415.0,77.0 415.5,76.9 416.0,76.8 416.5,76.4 417.0,75.6 417.5,74.3 418.0,72.0 418.5,68.9 419.0,65.1 419.5,61.2 420.0,58.2 420.5,56.7 421.0,57.4 421.5,59.8 422.0,63.5 422.5,67.4 423.0,70.9 423.5,73.5 424.0,75.2 424.5,76.1 425.0,76.6 425.5,76.9 426.0,77.0 426.5,77.0 427.0,77.0 427.5,77.0 428.0,77.0 428.5,77.0 429.0,77.0 429.5,77.0 430.0,77.0 430.5,77.0 431.0,77.0 431.5,77.0 432.0,77.0 432.5,77.0 433.0,77.0 433.5,77.0 434.0,77.0 434.5,77.0 435.0,76.9 435.5,76.7 436.0,76.2 436.5,75.3 437.0,73.7 437.5,71.2 438.0,67.7 438.5,63.6 439.0,59.6 439.5,56.7 440.0,55.6 440.5,56.7 441.0,59.6 441.5,63.6 442.0,67.7 442.5,71.2 443.0,73.7 443.5,75.3 444.0,76.2 444.5,76.7 445.0,76.9 445.5,77.0 446.0,77.0 446.5,77.0 447.0,77.0 447.5,77.0 448.0,77.0 448.5,77.0 449.0,77.0 449.5,77.0 450.0,77.0 450.5,77.0 451.0,77.0 451.5,77.0 452.0,77.0 452.5,77.0 453.0,77.0 453.5,77.0 454.0,77.0 454.5,77.0 455.0,77.0 455.5,77.0 456.0,77.0 456.5,77.0 457.0,77.0 457.5,77.0 458.0,77.0 458.5,77.0 459.0,77.0 459.5,77.0 460.0,77.0 460.5,77.0 461.0,77.0 461.5,77.0 462.0,77.0 462.5,77.0 463.0,77.0 463.5,77.0 464.0,77.0 464.5,77.0 465.0,77.0 465.5,77.0 466.0,77.0 466.5,77.0 467.0,77.0 467.5,77.0 468.0,77.0 468.5,77.0 469.0,77.0 469.5,77.0 470.0,77.0 470.5,77.0 471.0,77.0 471.5,77.0 472.0,77.0 472.5,77.0 473.0,77.0 473.5,77.0 474.0,77.0 474.5,77.0 475.0,77.0 475.5,77.0 476.0,77.0 476.5,77.0 477.0,77.0 477.5,77.0 478.0,76.9 478.5,76.7 479.0,76.3 479.5,75.4 480.0,73.9 480.5,71.5 481.0,68.2 481.5,64.3 482.0,60.5 482.5,57.7 483.0,56.7 483.5,57.7 484.0,60.5 484.5,64.3 485.0,68.2 485.5,71.5 486.0,73.9 486.5,75.4 487.0,76.3 487.5,76.7 488.0,76.9 488.5,77.0 489.0,77.0 489.5,77.0 490.0,77.0 490.5,77.0 491.0,77.0 491.5,77.0 492.0,77.0 492.5,77.0 493.0,77.0 493.5,77.0 494.0,77.0 494.5,77.0 495.0,77.0 495.5,77.0 496.0,77.0 496.5,77.0 497.0,77.0 497.5,77.0 498.0,77.0 498.5,77.0 499.0,77.0 499.5,77.0 500.0,77.0 500.5,77.0 501.0,77.0 501.5,77.0 502.0,77.0 502.5,77.0 503.0,77.0 503.5,77.0 504.0,77.0" fill="none" stroke="#c0143f" stroke-width="0.85" stroke-linejoin="round"/>
<path d="M392.5,92 H397.9 V98.2 H502.5 V104.1 H392.5 Z" fill="#d5d5d5"/>
<text x="352.30" y="97.80" font-size="7.35" font-family='"Liberation Serif", serif' fill="#33549a" text-anchor="middle" stroke="#33549a" stroke-width="0.1">C</text>
<text x="359.70" y="97.80" font-size="7.35" font-family='"Liberation Serif", serif' fill="#62b043" text-anchor="middle" stroke="#62b043" stroke-width="0.1">A</text>
<text x="367.50" y="97.80" font-size="7.35" font-family='"Liberation Serif", serif' fill="#62b043" text-anchor="middle" stroke="#62b043" stroke-width="0.1">A</text>
<text x="377.00" y="97.80" font-size="7.35" font-family='"Liberation Serif", serif' fill="#623786" text-anchor="middle" stroke="#623786" stroke-width="0.1">G</text>
<text x="386.50" y="97.80" font-size="7.35" font-family='"Liberation Serif", serif' fill="#62b043" text-anchor="middle" stroke="#62b043" stroke-width="0.1">A</text>
<text x="395.20" y="97.80" font-size="7.35" font-family='"Liberation Serif", serif' fill="#62b043" text-anchor="middle" stroke="#62b043" stroke-width="0.1">A</text>
<text x="403.50" y="97.80" font-size="7.35" font-family='"Liberation Serif", serif' fill="#c0143f" text-anchor="middle" stroke="#c0143f" stroke-width="0.1">T</text>
<text x="412.00" y="97.80" font-size="7.35" font-family='"Liberation Serif", serif' fill="#33549a" text-anchor="middle" stroke="#33549a" stroke-width="0.1">C</text>
<text x="420.50" y="97.80" font-size="7.35" font-family='"Liberation Serif", serif' fill="#c0143f" text-anchor="middle" stroke="#c0143f" stroke-width="0.1">T</text>
<text x="430.20" y="97.80" font-size="7.35" font-family='"Liberation Serif", serif' fill="#623786" text-anchor="middle" stroke="#623786" stroke-width="0.1">G</text>
<text x="439.70" y="97.80" font-size="7.35" font-family='"Liberation Serif", serif' fill="#c0143f" text-anchor="middle" stroke="#c0143f" stroke-width="0.1">T</text>
<text x="448.00" y="97.80" font-size="7.35" font-family='"Liberation Serif", serif' fill="#623786" text-anchor="middle" stroke="#623786" stroke-width="0.1">G</text>
<text x="456.50" y="97.80" font-size="7.35" font-family='"Liberation Serif", serif' fill="#33549a" text-anchor="middle" stroke="#33549a" stroke-width="0.1">C</text>
<text x="465.10" y="97.80" font-size="7.35" font-family='"Liberation Serif", serif' fill="#62b043" text-anchor="middle" stroke="#62b043" stroke-width="0.1">A</text>
<text x="473.10" y="97.80" font-size="7.35" font-family='"Liberation Serif", serif' fill="#623786" text-anchor="middle" stroke="#623786" stroke-width="0.1">G</text>
<text x="482.40" y="97.80" font-size="7.35" font-family='"Liberation Serif", serif' fill="#c0143f" text-anchor="middle" stroke="#c0143f" stroke-width="0.1">T</text>
<text x="490.70" y="97.80" font-size="7.35" font-family='"Liberation Serif", serif' fill="#33549a" text-anchor="middle" stroke="#33549a" stroke-width="0.1">C</text>
<text x="499.40" y="97.80" font-size="7.35" font-family='"Liberation Serif", serif' fill="#62b043" text-anchor="middle" stroke="#62b043" stroke-width="0.1">A</text>
<text x="395.20" y="104.60" font-size="7.35" font-family='"Liberation Serif", serif' fill="#c0143f" text-anchor="middle" stroke="#c0143f" stroke-width="0.1">T</text>
<text x="403.50" y="104.60" font-size="7.35" font-family='"Liberation Serif", serif' fill="#33549a" text-anchor="middle" stroke="#33549a" stroke-width="0.1">C</text>
<text x="412.00" y="104.60" font-size="7.35" font-family='"Liberation Serif", serif' fill="#c0143f" text-anchor="middle" stroke="#c0143f" stroke-width="0.1">T</text>
<text x="420.50" y="104.60" font-size="7.35" font-family='"Liberation Serif", serif' fill="#623786" text-anchor="middle" stroke="#623786" stroke-width="0.1">G</text>
<text x="430.20" y="104.60" font-size="7.35" font-family='"Liberation Serif", serif' fill="#c0143f" text-anchor="middle" stroke="#c0143f" stroke-width="0.1">T</text>
<text x="439.70" y="104.60" font-size="7.35" font-family='"Liberation Serif", serif' fill="#623786" text-anchor="middle" stroke="#623786" stroke-width="0.1">G</text>
<text x="448.00" y="104.60" font-size="7.35" font-family='"Liberation Serif", serif' fill="#33549a" text-anchor="middle" stroke="#33549a" stroke-width="0.1">C</text>
<text x="456.50" y="104.60" font-size="7.35" font-family='"Liberation Serif", serif' fill="#62b043" text-anchor="middle" stroke="#62b043" stroke-width="0.1">A</text>
<text x="465.10" y="104.60" font-size="7.35" font-family='"Liberation Serif", serif' fill="#623786" text-anchor="middle" stroke="#623786" stroke-width="0.1">G</text>
<text x="473.10" y="104.60" font-size="7.35" font-family='"Liberation Serif", serif' fill="#c0143f" text-anchor="middle" stroke="#c0143f" stroke-width="0.1">T</text>
<text x="482.40" y="104.60" font-size="7.35" font-family='"Liberation Serif", serif' fill="#33549a" text-anchor="middle" stroke="#33549a" stroke-width="0.1">C</text>
<text x="490.70" y="104.60" font-size="7.35" font-family='"Liberation Serif", serif' fill="#62b043" text-anchor="middle" stroke="#62b043" stroke-width="0.1">A</text>
<text x="499.40" y="104.60" font-size="7.35" font-family='"Liberation Serif", serif' fill="#623786" text-anchor="middle" stroke="#623786" stroke-width="0.1">G</text>
<line x1="394.7" y1="108" x2="394.7" y2="114.5" stroke="#111" stroke-width="1.05"/>
<path d="M393.09999999999997,114 L394.7,117 L396.3,114 Z" fill="#111"/>
<polyline points="348.0,141.6 348.5,141.6 349.0,141.6 349.5,141.6 350.0,141.6 350.5,141.6 351.0,141.6 351.5,141.6 352.0,141.6 352.5,141.6 353.0,141.6 353.5,141.6 354.0,141.6 354.5,141.6 355.0,141.5 355.5,141.2 356.0,140.6 356.5,139.5 357.0,137.7 357.5,135.0 358.0,131.7 358.5,128.2 359.0,125.3 359.5,123.7 360.0,123.9 360.5,125.8 361.0,128.9 361.5,132.4 362.0,135.6 362.5,138.1 363.0,139.7 363.5,140.5 364.0,140.8 364.5,140.4 365.0,139.5 365.5,137.9 366.0,135.6 366.5,133.0 367.0,130.4 367.5,128.5 368.0,127.8 368.5,128.5 369.0,130.4 369.5,133.0 370.0,135.6 370.5,137.9 371.0,139.5 371.5,140.6 372.0,141.2 372.5,141.4 373.0,141.6 373.5,141.6 374.0,141.6 374.5,141.6 375.0,141.6 375.5,141.6 376.0,141.6 376.5,141.6 377.0,141.6 377.5,141.6 378.0,141.6 378.5,141.6 379.0,141.6 379.5,141.6 380.0,141.6 380.5,141.6 381.0,141.6 381.5,141.6 382.0,141.5 382.5,141.1 383.0,140.4 383.5,138.9 384.0,136.1 384.5,131.9 385.0,126.1 385.5,119.2 386.0,112.6 386.5,107.7 387.0,105.8 387.5,107.7 388.0,112.6 388.5,119.2 389.0,126.1 389.5,131.9 390.0,136.1 390.5,138.7 391.0,140.1 391.5,140.6 392.0,140.5 392.5,140.0 393.0,139.2 393.5,138.1 394.0,136.8 394.5,135.5 395.0,134.3 395.5,133.5 396.0,133.2 396.5,133.5 397.0,134.3 397.5,135.5 398.0,136.8 398.5,138.1 399.0,139.2 399.5,140.1 400.0,140.7 400.5,141.1 401.0,141.4 401.5,141.5 402.0,141.6 402.5,141.6 403.0,141.6 403.5,141.6 404.0,141.6 404.5,141.6 405.0,141.6 405.5,141.6 406.0,141.6 406.5,141.6 407.0,141.6 407.5,141.6 408.0,141.6 408.5,141.6 409.0,141.6 409.5,141.6 410.0,141.6 410.5,141.6 411.0,141.6 411.5,141.6 412.0,141.7 412.5,141.7 413.0,141.7 413.5,141.7 414.0,141.7 414.5,141.7 415.0,141.7 415.5,141.7 416.0,141.7 416.5,141.7 417.0,141.7 417.5,141.7 418.0,141.7 418.5,141.7 419.0,141.7 419.5,141.7 420.0,141.7 420.5,141.7 421.0,141.7 421.5,141.7 422.0,141.7 422.5,141.7 423.0,141.7 423.5,141.7 424.0,141.7 424.5,141.7 425.0,141.7 425.5,141.7 426.0,141.7 426.5,141.7 427.0,141.7 427.5,141.7 428.0,141.7 428.5,141.7 429.0,141.7 429.5,141.7 430.0,141.7 430.5,141.7 431.0,141.7 431.5,141.7 432.0,141.7 432.5,141.7 433.0,141.7 433.5,141.7 434.0,141.7 434.5,141.7 435.0,141.7 435.5,141.7 436.0,141.7 436.5,141.7 437.0,141.7 437.5,141.7 438.0,141.7 438.5,141.7 439.0,141.7 439.5,141.7 440.0,141.6 440.5,141.6 441.0,141.6 441.5,141.6 442.0,141.6 442.5,141.6 443.0,141.6 443.5,141.6 444.0,141.6 444.5,141.6 445.0,141.6 445.5,141.6 446.0,141.6 446.5,141.6 447.0,141.6 447.5,141.6 448.0,141.6 448.5,141.6 449.0,141.6 449.5,141.6 450.0,141.6 450.5,141.5 451.0,141.4 451.5,141.1 452.0,140.7 452.5,140.1 453.0,139.2 453.5,138.1 454.0,136.8 454.5,135.4 455.0,134.0 455.5,133.0 456.0,132.4 456.5,132.3 457.0,132.8 457.5,133.8 458.0,135.1 458.5,136.4 459.0,137.7 459.5,138.7 460.0,139.3 460.5,139.6 461.0,139.4 461.5,138.9 462.0,138.2 462.5,137.3 463.0,136.4 463.5,135.7 464.0,135.3 464.5,135.3 465.0,135.6 465.5,136.3 466.0,137.2 466.5,138.2 467.0,139.1 467.5,139.9 468.0,140.5 468.5,140.9 469.0,141.2 469.5,141.4 470.0,141.5 470.5,141.6 471.0,141.6 471.5,141.6 472.0,141.6 472.5,141.6 473.0,141.6 473.5,141.6 474.0,141.6 474.5,141.6 475.0,141.6 475.5,141.6 476.0,141.6 476.5,141.6 477.0,141.6 477.5,141.6 478.0,141.6 478.5,141.6 479.0,141.6 479.5,141.6 480.0,141.6 480.5,141.6 481.0,141.6 481.5,141.6 482.0,141.6 482.5,141.6 483.0,141.6 483.5,141.6 484.0,141.5 484.5,141.4 485.0,141.1 485.5,140.7 486.0,140.0 486.5,139.0 487.0,137.7 487.5,136.1 488.0,134.3 488.5,132.7 489.0,131.5 489.5,130.8 490.0,130.9 490.5,131.7 491.0,133.0 491.5,134.7 492.0,136.3 492.5,137.8 493.0,139.0 493.5,139.7 494.0,139.9 494.5,139.8 495.0,139.3 495.5,138.6 496.0,137.7 496.5,136.8 497.0,136.0 497.5,135.4 498.0,135.2 498.5,135.4 499.0,136.0 499.5,136.8 500.0,137.8 500.5,138.7 501.0,139.6 501.5,140.3 502.0,140.8 502.5,141.1 503.0,141.4 503.5,141.5 504.0,141.6" fill="none" stroke="#62b043" stroke-width="0.85" stroke-linejoin="round"/>
<polyline points="348.0,141.1 348.5,140.8 349.0,140.3 349.5,139.2 350.0,137.4 350.5,134.6 351.0,131.1 351.5,127.3 352.0,123.8 352.5,121.7 353.0,121.5 353.5,123.3 354.0,126.5 354.5,130.3 355.0,134.0 355.5,136.9 356.0,138.9 356.5,140.1 357.0,140.7 357.5,141.0 358.0,141.2 358.5,141.2 359.0,141.2 359.5,141.2 360.0,141.2 360.5,141.2 361.0,141.2 361.5,141.2 362.0,141.2 362.5,141.2 363.0,141.2 363.5,141.2 364.0,141.2 364.5,141.2 365.0,141.2 365.5,141.2 366.0,141.2 366.5,141.2 367.0,141.2 367.5,141.2 368.0,141.2 368.5,141.2 369.0,141.2 369.5,141.2 370.0,141.2 370.5,141.2 371.0,141.2 371.5,141.2 372.0,141.2 372.5,141.2 373.0,141.2 373.5,141.2 374.0,141.2 374.5,141.2 375.0,141.2 375.5,141.2 376.0,141.2 376.5,141.2 377.0,141.2 377.5,141.2 378.0,141.2 378.5,141.2 379.0,141.2 379.5,141.2 380.0,141.2 380.5,141.2 381.0,141.2 381.5,141.2 382.0,141.2 382.5,141.2 383.0,141.2 383.5,141.2 384.0,141.2 384.5,141.2 385.0,141.2 385.5,141.2 386.0,141.2 386.5,141.2 387.0,141.2 387.5,141.2 388.0,141.2 388.5,141.2 389.0,141.2 389.5,141.2 390.0,141.2 390.5,141.2 391.0,141.2 391.5,141.2 392.0,141.2 392.5,141.2 393.0,141.2 393.5,141.2 394.0,141.2 394.5,141.2 395.0,141.2 395.5,141.2 396.0,141.2 396.5,141.2 397.0,141.1 397.5,141.0 398.0,140.7 398.5,140.2 399.0,139.5 399.5,138.5 400.0,137.1 400.5,135.3 401.0,133.2 401.5,131.0 402.0,128.9 402.5,127.2 403.0,126.1 403.5,125.9 404.0,126.4 404.5,127.8 405.0,129.6 405.5,131.6 406.0,133.5 406.5,135.0 407.0,135.8 407.5,135.9 408.0,135.1 408.5,133.6 409.0,131.5 409.5,129.0 410.0,126.5 410.5,124.3 411.0,122.9 411.5,122.3 412.0,122.9 412.5,124.4 413.0,126.6 413.5,129.2 414.0,131.9 414.5,134.4 415.0,136.5 415.5,138.2 416.0,139.3 416.5,140.1 417.0,140.6 417.5,140.9 418.0,141.1 418.5,141.2 419.0,141.2 419.5,141.2 420.0,141.2 420.5,141.2 421.0,141.2 421.5,141.2 422.0,141.2 422.5,141.2 423.0,141.2 423.5,141.2 424.0,141.2 424.5,141.2 425.0,141.2 425.5,141.2 426.0,141.2 426.5,141.2 427.0,141.2 427.5,141.2 428.0,141.2 428.5,141.2 429.0,141.2 429.5,141.2 430.0,141.2 430.5,141.2 431.0,141.2 431.5,141.2 432.0,141.2 432.5,141.2 433.0,141.2 433.5,141.2 434.0,141.2 434.5,141.2 435.0,141.2 435.5,141.2 436.0,141.2 436.5,141.2 437.0,141.2 437.5,141.2 438.0,141.2 438.5,141.2 439.0,141.2 439.5,141.2 440.0,141.2 440.5,141.2 441.0,141.2 441.5,141.1 442.0,140.9 442.5,140.6 443.0,140.1 443.5,139.3 444.0,138.2 444.5,136.8 445.0,135.1 445.5,133.3 446.0,131.6 446.5,130.3 447.0,129.5 447.5,129.4 448.0,130.1 448.5,131.3 449.0,133.0 449.5,134.7 450.0,136.4 450.5,137.9 451.0,138.9 451.5,139.6 452.0,139.8 452.5,139.6 453.0,138.9 453.5,137.8 454.0,136.4 454.5,134.6 455.0,132.6 455.5,130.8 456.0,129.3 456.5,128.5 457.0,128.4 457.5,129.1 458.0,130.5 458.5,132.3 459.0,134.2 459.5,136.1 460.0,137.7 460.5,138.9 461.0,139.8 461.5,140.4 462.0,140.8 462.5,141.0 463.0,141.1 463.5,141.2 464.0,141.2 464.5,141.2 465.0,141.2 465.5,141.2 466.0,141.2 466.5,141.2 467.0,141.2 467.5,141.2 468.0,141.2 468.5,141.2 469.0,141.2 469.5,141.2 470.0,141.2 470.5,141.2 471.0,141.2 471.5,141.2 472.0,141.2 472.5,141.2 473.0,141.2 473.5,141.2 474.0,141.2 474.5,141.2 475.0,141.2 475.5,141.2 476.0,141.0 476.5,140.8 477.0,140.4 477.5,139.7 478.0,138.7 478.5,137.2 479.0,135.1 479.5,132.6 480.0,129.8 480.5,127.0 481.0,124.6 481.5,122.9 482.0,122.3 482.5,122.9 483.0,124.5 483.5,126.8 484.0,129.5 484.5,132.0 485.0,133.9 485.5,135.1 486.0,135.3 486.5,134.5 487.0,132.8 487.5,130.5 488.0,127.9 488.5,125.4 489.0,123.4 489.5,122.4 490.0,122.6 490.5,123.8 491.0,125.9 491.5,128.6 492.0,131.5 492.5,134.2 493.0,136.4 493.5,138.1 494.0,139.4 494.5,140.2 495.0,140.7 495.5,141.0 496.0,141.1 496.5,141.2 497.0,141.2 497.5,141.2 498.0,141.2 498.5,141.2 499.0,141.2 499.5,141.2 500.0,141.1 500.5,140.9 501.0,140.6 501.5,140.1 502.0,139.4 502.5,138.4 503.0,137.3 503.5,136.0 504.0,134.9" fill="none" stroke="#33549a" stroke-width="0.85" stroke-linejoin="round"/>
<polyline points="348.0,141.5 348.5,141.5 349.0,141.5 349.5,141.5 350.0,141.5 350.5,141.5 351.0,141.5 351.5,141.5 352.0,141.5 352.5,141.5 353.0,141.5 353.5,141.5 354.0,141.5 354.5,141.5 355.0,141.5 355.5,141.5 356.0,141.5 356.5,141.5 357.0,141.5 357.5,141.5 358.0,141.5 358.5,141.5 359.0,141.5 359.5,141.5 360.0,141.5 360.5,141.5 361.0,141.5 361.5,141.5 362.0,141.5 362.5,141.5 363.0,141.5 363.5,141.5 364.0,141.5 364.5,141.5 365.0,141.5 365.5,141.5 366.0,141.5 366.5,141.5 367.0,141.5 367.5,141.5 368.0,141.5 368.5,141.5 369.0,141.5 369.5,141.5 370.0,141.5 370.5,141.5 371.0,141.5 371.5,141.5 372.0,141.4 372.5,141.2 373.0,140.9 373.5,140.1 374.0,138.7 374.5,136.6 375.0,133.6 375.5,130.2 376.0,126.8 376.5,124.3 377.0,123.4 377.5,124.3 378.0,126.8 378.5,130.2 379.0,133.6 379.5,136.6 380.0,138.7 380.5,140.1 381.0,140.9 381.5,141.2 382.0,141.4 382.5,141.5 383.0,141.5 383.5,141.5 384.0,141.5 384.5,141.5 385.0,141.5 385.5,141.5 386.0,141.5 386.5,141.5 387.0,141.5 387.5,141.5 388.0,141.5 388.5,141.5 389.0,141.5 389.5,141.5 390.0,141.5 390.5,141.5 391.0,141.5 391.5,141.5 392.0,141.5 392.5,141.5 393.0,141.5 393.5,141.5 394.0,141.5 394.5,141.5 395.0,141.5 395.5,141.5 396.0,141.5 396.5,141.5 397.0,141.5 397.5,141.5 398.0,141.5 398.5,141.5 399.0,141.5 399.5,141.5 400.0,141.5 400.5,141.5 401.0,141.5 401.5,141.5 402.0,141.5 402.5,141.5 403.0,141.5 403.5,141.5 404.0,141.5 404.5,141.5 405.0,141.5 405.5,141.5 406.0,141.5 406.5,141.5 407.0,141.5 407.5,141.5 408.0,141.5 408.5,141.5 409.0,141.5 409.5,141.5 410.0,141.5 410.5,141.5 411.0,141.5 411.5,141.5 412.0,141.5 412.5,141.5 413.0,141.5 413.5,141.5 414.0,141.4 414.5,141.3 415.0,141.2 415.5,140.9 416.0,140.4 416.5,139.6 417.0,138.4 417.5,136.8 418.0,134.7 418.5,132.2 419.0,129.5 419.5,126.9 420.0,124.6 420.5,123.1 421.0,122.6 421.5,123.1 422.0,124.6 422.5,126.8 423.0,129.4 423.5,132.0 424.0,134.2 424.5,135.9 425.0,136.8 425.5,136.9 426.0,136.1 426.5,134.5 427.0,132.2 427.5,129.3 428.0,126.3 428.5,123.4 429.0,121.1 429.5,119.8 430.0,119.7 430.5,120.8 431.0,122.9 431.5,125.7 432.0,128.8 432.5,131.8 433.0,134.4 433.5,136.3 434.0,137.6 434.5,138.1 435.0,137.8 435.5,136.9 436.0,135.3 436.5,133.3 437.0,131.0 437.5,128.8 438.0,126.8 438.5,125.5 439.0,125.1 439.5,125.5 440.0,126.8 440.5,128.6 441.0,130.7 441.5,132.8 442.0,134.4 442.5,135.4 443.0,135.6 443.5,134.9 444.0,133.4 444.5,131.2 445.0,128.6 445.5,125.9 446.0,123.7 446.5,122.1 447.0,121.6 447.5,122.2 448.0,123.7 448.5,126.1 449.0,128.9 449.5,131.7 450.0,134.3 450.5,136.5 451.0,138.3 451.5,139.5 452.0,140.3 452.5,140.9 453.0,141.2 453.5,141.3 454.0,141.4 454.5,141.5 455.0,141.5 455.5,141.5 456.0,141.5 456.5,141.5 457.0,141.5 457.5,141.4 458.0,141.4 458.5,141.2 459.0,141.0 459.5,140.6 460.0,140.0 460.5,139.1 461.0,138.0 461.5,136.6 462.0,135.2 462.5,133.9 463.0,132.8 463.5,132.2 464.0,132.1 464.5,132.6 465.0,133.6 465.5,134.8 466.0,136.1 466.5,137.2 467.0,137.9 467.5,138.1 468.0,137.7 468.5,136.6 469.0,134.8 469.5,132.6 470.0,130.2 470.5,127.8 471.0,125.9 471.5,124.8 472.0,124.7 472.5,125.6 473.0,127.4 473.5,129.7 474.0,132.3 474.5,134.7 475.0,136.8 475.5,138.4 476.0,139.6 476.5,140.4 477.0,140.9 477.5,141.2 478.0,141.4 478.5,141.4 479.0,141.5 479.5,141.5 480.0,141.5 480.5,141.5 481.0,141.5 481.5,141.5 482.0,141.5 482.5,141.5 483.0,141.5 483.5,141.5 484.0,141.5 484.5,141.5 485.0,141.5 485.5,141.5 486.0,141.5 486.5,141.5 487.0,141.5 487.5,141.5 488.0,141.5 488.5,141.5 489.0,141.5 489.5,141.5 490.0,141.5 490.5,141.5 491.0,141.4 491.5,141.4 492.0,141.3 492.5,141.1 493.0,140.7 493.5,140.1 494.0,139.3 494.5,138.2 495.0,136.9 495.5,135.4 496.0,133.9 496.5,132.6 497.0,131.7 497.5,131.4 498.0,131.7 498.5,132.6 499.0,133.9 499.5,135.4 500.0,136.9 500.5,138.2 501.0,139.3 501.5,140.1 502.0,140.7 502.5,141.1 503.0,141.3 503.5,141.4 504.0,141.4" fill="none" stroke="#623786" stroke-width="0.85" stroke-linejoin="round"/>
<polyline points="348.0,141.4 348.5,141.4 349.0,141.4 349.5,141.4 350.0,141.4 350.5,141.4 351.0,141.4 351.5,141.4 352.0,141.4 352.5,141.4 353.0,141.4 353.5,141.4 354.0,141.4 354.5,141.4 355.0,141.4 355.5,141.4 356.0,141.4 356.5,141.4 357.0,141.4 357.5,141.4 358.0,141.4 358.5,141.4 359.0,141.4 359.5,141.4 360.0,141.4 360.5,141.4 361.0,141.4 361.5,141.4 362.0,141.4 362.5,141.4 363.0,141.4 363.5,141.4 364.0,141.4 364.5,141.4 365.0,141.4 365.5,141.4 366.0,141.4 366.5,141.4 367.0,141.4 367.5,141.4 368.0,141.4 368.5,141.4 369.0,141.4 369.5,141.4 370.0,141.4 370.5,141.4 371.0,141.4 371.5,141.4 372.0,141.4 372.5,141.4 373.0,141.4 373.5,141.4 374.0,141.4 374.5,141.4 375.0,141.4 375.5,141.4 376.0,141.4 376.5,141.4 377.0,141.4 377.5,141.4 378.0,141.4 378.5,141.4 379.0,141.4 379.5,141.4 380.0,141.4 380.5,141.4 381.0,141.4 381.5,141.4 382.0,141.4 382.5,141.4 383.0,141.4 383.5,141.4 384.0,141.4 384.5,141.4 385.0,141.4 385.5,141.4 386.0,141.4 386.5,141.4 387.0,141.4 387.5,141.4 388.0,141.4 388.5,141.4 389.0,141.3 389.5,141.2 390.0,141.1 390.5,140.7 391.0,140.2 391.5,139.3 392.0,138.0 392.5,136.3 393.0,134.3 393.5,132.1 394.0,130.0 394.5,128.4 395.0,127.6 395.5,127.7 396.0,128.7 396.5,130.4 397.0,132.5 397.5,134.6 398.0,136.5 398.5,137.9 399.0,138.6 399.5,138.8 400.0,138.2 400.5,137.0 401.0,135.2 401.5,133.1 402.0,130.8 402.5,128.9 403.0,127.5 403.5,127.0 404.0,127.5 404.5,128.9 405.0,130.8 405.5,133.1 406.0,135.3 406.5,137.1 407.0,138.4 407.5,139.2 408.0,139.3 408.5,139.0 409.0,138.0 409.5,136.7 410.0,135.1 410.5,133.4 411.0,131.9 411.5,130.9 412.0,130.5 412.5,130.9 413.0,131.9 413.5,133.4 414.0,135.1 414.5,136.7 415.0,138.1 415.5,139.1 416.0,139.5 416.5,139.5 417.0,139.0 417.5,138.0 418.0,136.5 418.5,134.6 419.0,132.7 419.5,130.9 420.0,129.6 420.5,129.0 421.0,129.3 421.5,130.3 422.0,131.9 422.5,133.9 423.0,135.8 423.5,137.5 424.0,138.8 424.5,139.7 425.0,140.1 425.5,140.1 426.0,139.6 426.5,138.7 427.0,137.3 427.5,135.5 428.0,133.4 428.5,131.4 429.0,129.7 429.5,128.6 430.0,128.3 430.5,128.9 431.0,130.3 431.5,132.2 432.0,134.3 432.5,136.2 433.0,137.8 433.5,139.0 434.0,139.7 434.5,139.9 435.0,139.6 435.5,138.8 436.0,137.6 436.5,135.9 437.0,133.9 437.5,131.8 438.0,130.0 438.5,128.7 439.0,128.3 439.5,128.7 440.0,130.0 440.5,131.8 441.0,133.9 441.5,135.9 442.0,137.6 442.5,139.0 443.0,140.0 443.5,140.6 444.0,141.0 444.5,141.2 445.0,141.3 445.5,141.4 446.0,141.4 446.5,141.4 447.0,141.4 447.5,141.4 448.0,141.4 448.5,141.4 449.0,141.4 449.5,141.4 450.0,141.4 450.5,141.4 451.0,141.4 451.5,141.4 452.0,141.4 452.5,141.4 453.0,141.4 453.5,141.4 454.0,141.4 454.5,141.4 455.0,141.4 455.5,141.4 456.0,141.4 456.5,141.4 457.0,141.4 457.5,141.4 458.0,141.4 458.5,141.4 459.0,141.4 459.5,141.4 460.0,141.4 460.5,141.4 461.0,141.4 461.5,141.4 462.0,141.4 462.5,141.4 463.0,141.4 463.5,141.4 464.0,141.4 464.5,141.4 465.0,141.4 465.5,141.4 466.0,141.4 466.5,141.3 467.0,141.2 467.5,141.1 468.0,140.8 468.5,140.3 469.0,139.5 469.5,138.4 470.0,137.0 470.5,135.4 471.0,133.8 471.5,132.3 472.0,131.4 472.5,131.0 473.0,131.4 473.5,132.3 474.0,133.8 474.5,135.4 475.0,137.0 475.5,138.3 476.0,139.3 476.5,139.8 477.0,139.9 477.5,139.6 478.0,138.7 478.5,137.3 479.0,135.5 479.5,133.4 480.0,131.2 480.5,129.3 481.0,128.0 481.5,127.5 482.0,128.0 482.5,129.3 483.0,131.2 483.5,133.4 484.0,135.6 484.5,137.4 485.0,138.9 485.5,139.9 486.0,140.6 486.5,141.0 487.0,141.2 487.5,141.3 488.0,141.4 488.5,141.4 489.0,141.4 489.5,141.4 490.0,141.4 490.5,141.4 491.0,141.4 491.5,141.4 492.0,141.4 492.5,141.4 493.0,141.4 493.5,141.4 494.0,141.4 494.5,141.4 495.0,141.4 495.5,141.4 496.0,141.4 496.5,141.4 497.0,141.4 497.5,141.4 498.0,141.4 498.5,141.4 499.0,141.4 499.5,141.4 500.0,141.4 500.5,141.4 501.0,141.4 501.5,141.4 502.0,141.4 502.5,141.4 503.0,141.4 503.5,141.4 504.0,141.4" fill="none" stroke="#c0143f" stroke-width="0.85" stroke-linejoin="round"/>
<text x="7.50" y="167.70" font-size="11" font-family='"Liberation Sans", sans-serif' fill="#111" font-weight="bold">B</text>
<line x1="57.9" y1="170.2" x2="57.9" y2="285.0" stroke="#3a3a3a" stroke-width="1.3"/>
<line x1="57.3" y1="284.4" x2="169.76" y2="284.4" stroke="#3a3a3a" stroke-width="1.3"/>
<line x1="55" y1="284.40" x2="57.9" y2="284.40" stroke="#3a3a3a" stroke-width="1"/>
<text x="52.30" y="287.00" font-size="7.6" font-family='"Liberation Sans", sans-serif' fill="#333" text-anchor="end" stroke="#333" stroke-width="0.12">0</text>
<line x1="57.90" y1="284.4" x2="57.90" y2="287.4" stroke="#3a3a3a" stroke-width="1"/>
<text x="57.90" y="298.00" font-size="7.6" font-family='"Liberation Sans", sans-serif' fill="#333" text-anchor="middle" stroke="#333" stroke-width="0.12">0</text>
<line x1="55" y1="270.42" x2="57.9" y2="270.42" stroke="#3a3a3a" stroke-width="1"/>
<text x="52.30" y="273.02" font-size="7.6" font-family='"Liberation Sans", sans-serif' fill="#333" text-anchor="end" stroke="#333" stroke-width="0.12">10</text>
<line x1="71.82" y1="284.4" x2="71.82" y2="287.4" stroke="#3a3a3a" stroke-width="1"/>
<text x="71.82" y="298.00" font-size="7.6" font-family='"Liberation Sans", sans-serif' fill="#333" text-anchor="middle" stroke="#333" stroke-width="0.12">10</text>
<line x1="55" y1="256.45" x2="57.9" y2="256.45" stroke="#3a3a3a" stroke-width="1"/>
<text x="52.30" y="259.05" font-size="7.6" font-family='"Liberation Sans", sans-serif' fill="#333" text-anchor="end" stroke="#333" stroke-width="0.12">20</text>
<line x1="85.74" y1="284.4" x2="85.74" y2="287.4" stroke="#3a3a3a" stroke-width="1"/>
<text x="85.74" y="298.00" font-size="7.6" font-family='"Liberation Sans", sans-serif' fill="#333" text-anchor="middle" stroke="#333" stroke-width="0.12">20</text>
<line x1="55" y1="242.47" x2="57.9" y2="242.47" stroke="#3a3a3a" stroke-width="1"/>
<text x="52.30" y="245.07" font-size="7.6" font-family='"Liberation Sans", sans-serif' fill="#333" text-anchor="end" stroke="#333" stroke-width="0.12">30</text>
<line x1="99.66" y1="284.4" x2="99.66" y2="287.4" stroke="#3a3a3a" stroke-width="1"/>
<text x="99.66" y="298.00" font-size="7.6" font-family='"Liberation Sans", sans-serif' fill="#333" text-anchor="middle" stroke="#333" stroke-width="0.12">30</text>
<line x1="55" y1="228.50" x2="57.9" y2="228.50" stroke="#3a3a3a" stroke-width="1"/>
<text x="52.30" y="231.10" font-size="7.6" font-family='"Liberation Sans", sans-serif' fill="#333" text-anchor="end" stroke="#333" stroke-width="0.12">40</text>
<line x1="113.58" y1="284.4" x2="113.58" y2="287.4" stroke="#3a3a3a" stroke-width="1"/>
<text x="113.58" y="298.00" font-size="7.6" font-family='"Liberation Sans", sans-serif' fill="#333" text-anchor="middle" stroke="#333" stroke-width="0.12">40</text>
<line x1="55" y1="214.52" x2="57.9" y2="214.52" stroke="#3a3a3a" stroke-width="1"/>
<text x="52.30" y="217.12" font-size="7.6" font-family='"Liberation Sans", sans-serif' fill="#333" text-anchor="end" stroke="#333" stroke-width="0.12">50</text>
<line x1="127.50" y1="284.4" x2="127.50" y2="287.4" stroke="#3a3a3a" stroke-width="1"/>
<text x="127.50" y="298.00" font-size="7.6" font-family='"Liberation Sans", sans-serif' fill="#333" text-anchor="middle" stroke="#333" stroke-width="0.12">50</text>
<line x1="55" y1="200.55" x2="57.9" y2="200.55" stroke="#3a3a3a" stroke-width="1"/>
<text x="52.30" y="203.15" font-size="7.6" font-family='"Liberation Sans", sans-serif' fill="#333" text-anchor="end" stroke="#333" stroke-width="0.12">60</text>
<line x1="141.42" y1="284.4" x2="141.42" y2="287.4" stroke="#3a3a3a" stroke-width="1"/>
<text x="141.42" y="298.00" font-size="7.6" font-family='"Liberation Sans", sans-serif' fill="#333" text-anchor="middle" stroke="#333" stroke-width="0.12">60</text>
<line x1="55" y1="186.57" x2="57.9" y2="186.57" stroke="#3a3a3a" stroke-width="1"/>
<text x="52.30" y="189.17" font-size="7.6" font-family='"Liberation Sans", sans-serif' fill="#333" text-anchor="end" stroke="#333" stroke-width="0.12">70</text>
<line x1="155.34" y1="284.4" x2="155.34" y2="287.4" stroke="#3a3a3a" stroke-width="1"/>
<text x="155.34" y="298.00" font-size="7.6" font-family='"Liberation Sans", sans-serif' fill="#333" text-anchor="middle" stroke="#333" stroke-width="0.12">70</text>
<line x1="55" y1="172.60" x2="57.9" y2="172.60" stroke="#3a3a3a" stroke-width="1"/>
<text x="52.30" y="175.20" font-size="7.6" font-family='"Liberation Sans", sans-serif' fill="#333" text-anchor="end" stroke="#333" stroke-width="0.12">80</text>
<line x1="169.26" y1="284.4" x2="169.26" y2="287.4" stroke="#3a3a3a" stroke-width="1"/>
<text x="169.26" y="298.00" font-size="7.6" font-family='"Liberation Sans", sans-serif' fill="#333" text-anchor="middle" stroke="#333" stroke-width="0.12">80</text>
<text transform="rotate(-90)" x="-226" y="25.6" font-size="9" font-family='"Liberation Sans", sans-serif' fill="#333" text-anchor="middle" textLength="110.5" lengthAdjust="spacingAndGlyphs">Detected mutation-positive CFUs</text>
<text transform="rotate(-90)" x="-227.2" y="37" font-size="9" font-family='"Liberation Sans", sans-serif' fill="#333" text-anchor="middle">[%]</text>
<text x="116.00" y="311.30" font-size="9" font-family='"Liberation Sans", sans-serif' fill="#333" text-anchor="middle" textLength="110.8" lengthAdjust="spacingAndGlyphs" stroke="#333" stroke-width="0.12">Predicted mutation-positve CFUs</text>
<text x="115.60" y="320.80" font-size="9" font-family='"Liberation Sans", sans-serif' fill="#333" text-anchor="middle" stroke="#333" stroke-width="0.12">[%]</text>
<line x1="59.5" y1="261.3" x2="167" y2="172.5" stroke="#3f5ea3" stroke-width="1.05" stroke-dasharray="2.9,2.4"/>
<line x1="84.5" y1="283" x2="169.5" y2="220.5" stroke="#3f5ea3" stroke-width="1.05" stroke-dasharray="2.9,2.4"/>
<line x1="62" y1="281.2" x2="168.8" y2="195.5" stroke="#a8a8a8" stroke-width="0.9"/>
<text x="102.50" y="176.70" font-size="7.7" font-family='"Liberation Sans", sans-serif' fill="#4a5f9c" textLength="51.3" lengthAdjust="spacingAndGlyphs" stroke="#4a5f9c" stroke-width="0.12">95%-prediction</text>
<text x="102.50" y="185.30" font-size="7.7" font-family='"Liberation Sans", sans-serif' fill="#4a5f9c" stroke="#4a5f9c" stroke-width="0.12">interval</text>
<text x="69.60" y="200.90" font-size="8.2" font-family='"Liberation Sans", sans-serif' fill="#333" font-style="italic" textLength="16.6" lengthAdjust="spacingAndGlyphs" stroke="#333" stroke-width="0.12">TET2</text>
<text x="86.60" y="198.10" font-size="6.6" font-family='"Liberation Sans", sans-serif' fill="#333" textLength="19.3" lengthAdjust="spacingAndGlyphs" stroke="#333" stroke-width="0.12">S1668fs</text>
<line x1="87.5" y1="203.8" x2="96.8" y2="217" stroke="#b5142f" stroke-width="1"/>
<circle cx="98.3" cy="219.5" r="2.2" fill="#b5142f"/>
<text x="128.90" y="265.60" font-size="8.2" font-family='"Liberation Sans", sans-serif' fill="#222" stroke="#222" stroke-width="0.12">r</text>
<text x="132.00" y="262.20" font-size="5.6" font-family='"Liberation Sans", sans-serif' fill="#222" stroke="#222" stroke-width="0.12">2</text>
<text x="136.50" y="265.60" font-size="8.2" font-family='"Liberation Sans", sans-serif' fill="#222" textLength="29.2" lengthAdjust="spacingAndGlyphs" stroke="#222" stroke-width="0.12">= 0.7747</text>
<text x="128.90" y="274.60" font-size="8.2" font-family='"Liberation Sans", sans-serif' fill="#222" textLength="31.6" lengthAdjust="spacingAndGlyphs" stroke="#222" stroke-width="0.12">p &lt; 0.001</text>
<circle cx="168.8" cy="208" r="1.9" fill="#3b4762"/>
<circle cx="145.5" cy="224.5" r="1.9" fill="#3b4762"/>
<circle cx="104.3" cy="236.3" r="1.9" fill="#3b4762"/>
<circle cx="87.5" cy="252.5" r="1.9" fill="#3b4762"/>
<circle cx="80.5" cy="257" r="1.9" fill="#3b4762"/>
<circle cx="83.8" cy="258.8" r="1.9" fill="#3b4762"/>
<circle cx="79.3" cy="265" r="1.9" fill="#3b4762"/>
<circle cx="66" cy="270.8" r="1.9" fill="#3b4762"/>
<circle cx="67.4" cy="274.1" r="1.9" fill="#3b4762"/>
<circle cx="66" cy="276.7" r="1.9" fill="#3b4762"/>
<circle cx="71.2" cy="276.4" r="1.9" fill="#3b4762"/>
<circle cx="68.8" cy="276.7" r="1.9" fill="#3b4762"/>
<circle cx="71.4" cy="279" r="1.9" fill="#3b4762"/>
<circle cx="62.2" cy="279" r="1.9" fill="#3b4762"/>
<circle cx="66" cy="280.8" r="1.9" fill="#3b4762"/>
<circle cx="61" cy="281.9" r="1.9" fill="#3b4762"/>
<circle cx="70.6" cy="282.8" r="1.9" fill="#3b4762"/>
<circle cx="60.5" cy="284.5" r="1.9" fill="#3b4762"/>
<circle cx="60.8" cy="285.4" r="1.9" fill="#3b4762"/>
<circle cx="64" cy="283.5" r="1.9" fill="#3b4762"/>
<text x="189.80" y="167.60" font-size="11" font-family='"Liberation Sans", sans-serif' fill="#111" font-weight="bold">C</text>
<rect x="250.30" y="188.50" width="25.45" height="14.00" fill="rgb(250,236,233)"/>
<text x="263.00" y="197.78" font-size="6.5" font-family='"Liberation Sans", sans-serif' fill="#2a2a2a" text-anchor="middle" stroke="#2a2a2a" stroke-width="0.12">0.010</text>
<rect x="275.70" y="188.50" width="24.75" height="14.00" fill="rgb(244,212,206)"/>
<text x="288.05" y="197.78" font-size="6.5" font-family='"Liberation Sans", sans-serif' fill="#2a2a2a" text-anchor="middle" stroke="#2a2a2a" stroke-width="0.12">0.060</text>
<rect x="300.40" y="188.50" width="25.05" height="14.00" fill="rgb(255,255,255)"/>
<text x="312.90" y="197.78" font-size="6.5" font-family='"Liberation Sans", sans-serif' fill="#2a2a2a" text-anchor="middle" stroke="#2a2a2a" stroke-width="0.12">0.000</text>
<rect x="325.40" y="188.50" width="24.75" height="14.00" fill="rgb(255,255,255)"/>
<text x="337.75" y="197.78" font-size="6.5" font-family='"Liberation Sans", sans-serif' fill="#2a2a2a" text-anchor="middle" stroke="#2a2a2a" stroke-width="0.12">0.000</text>
<text x="247.60" y="197.67" font-size="7.5" font-family='"Liberation Sans", sans-serif' fill="#2a2a2a" text-anchor="end" stroke="#2a2a2a" stroke-width="0.12">D1_<tspan font-style="italic">DNMT3A</tspan></text>
<rect x="250.30" y="202.45" width="25.45" height="14.00" fill="rgb(249,230,227)"/>
<text x="263.00" y="211.72" font-size="6.5" font-family='"Liberation Sans", sans-serif' fill="#2a2a2a" text-anchor="middle" stroke="#2a2a2a" stroke-width="0.12">0.021</text>
<rect x="275.70" y="202.45" width="24.75" height="14.00" fill="rgb(250,237,235)"/>
<text x="288.05" y="211.72" font-size="6.5" font-family='"Liberation Sans", sans-serif' fill="#2a2a2a" text-anchor="middle" stroke="#2a2a2a" stroke-width="0.12">0.007</text>
<rect x="300.40" y="202.45" width="25.05" height="14.00" fill="rgb(255,255,255)"/>
<text x="312.90" y="211.72" font-size="6.5" font-family='"Liberation Sans", sans-serif' fill="#2a2a2a" text-anchor="middle" stroke="#2a2a2a" stroke-width="0.12">0.000</text>
<rect x="325.40" y="202.45" width="24.75" height="14.00" fill="rgb(250,235,232)"/>
<text x="337.75" y="211.72" font-size="6.5" font-family='"Liberation Sans", sans-serif' fill="#2a2a2a" text-anchor="middle" stroke="#2a2a2a" stroke-width="0.12">0.012</text>
<text x="247.60" y="211.62" font-size="7.5" font-family='"Liberation Sans", sans-serif' fill="#2a2a2a" text-anchor="end" stroke="#2a2a2a" stroke-width="0.12">D13_<tspan font-style="italic">DNMT3A</tspan></text>
<rect x="250.30" y="216.40" width="25.45" height="14.00" fill="rgb(247,224,220)"/>
<text x="263.00" y="225.68" font-size="6.5" font-family='"Liberation Sans", sans-serif' fill="#2a2a2a" text-anchor="middle" stroke="#2a2a2a" stroke-width="0.12">0.034</text>
<rect x="275.70" y="216.40" width="24.75" height="14.00" fill="rgb(244,212,206)"/>
<text x="288.05" y="225.68" font-size="6.5" font-family='"Liberation Sans", sans-serif' fill="#2a2a2a" text-anchor="middle" stroke="#2a2a2a" stroke-width="0.12">0.060</text>
<rect x="300.40" y="216.40" width="25.05" height="14.00" fill="rgb(245,215,211)"/>
<text x="312.90" y="225.68" font-size="6.5" font-family='"Liberation Sans", sans-serif' fill="#2a2a2a" text-anchor="middle" stroke="#2a2a2a" stroke-width="0.12">0.052</text>
<rect x="325.40" y="216.40" width="24.75" height="14.00" fill="rgb(255,255,255)"/>
<text x="337.75" y="225.68" font-size="6.5" font-family='"Liberation Sans", sans-serif' fill="#2a2a2a" text-anchor="middle" stroke="#2a2a2a" stroke-width="0.12">0.000</text>
<text x="247.60" y="225.57" font-size="7.5" font-family='"Liberation Sans", sans-serif' fill="#2a2a2a" text-anchor="end" stroke="#2a2a2a" stroke-width="0.12">D21_<tspan font-style="italic">DNMT3A</tspan></text>
<rect x="250.30" y="230.35" width="25.45" height="14.00" fill="rgb(250,236,233)"/>
<text x="263.00" y="239.62" font-size="6.5" font-family='"Liberation Sans", sans-serif' fill="#2a2a2a" text-anchor="middle" stroke="#2a2a2a" stroke-width="0.12">0.010</text>
<rect x="275.70" y="230.35" width="24.75" height="14.00" fill="rgb(250,236,233)"/>
<text x="288.05" y="239.62" font-size="6.5" font-family='"Liberation Sans", sans-serif' fill="#2a2a2a" text-anchor="middle" stroke="#2a2a2a" stroke-width="0.12">0.010</text>
<rect x="300.40" y="230.35" width="25.05" height="14.00" fill="rgb(249,234,231)"/>
<text x="312.90" y="239.62" font-size="6.5" font-family='"Liberation Sans", sans-serif' fill="#2a2a2a" text-anchor="middle" stroke="#2a2a2a" stroke-width="0.12">0.014</text>
<rect x="325.40" y="230.35" width="24.75" height="14.00" fill="rgb(255,255,255)"/>
<text x="337.75" y="239.62" font-size="6.5" font-family='"Liberation Sans", sans-serif' fill="#2a2a2a" text-anchor="middle" stroke="#2a2a2a" stroke-width="0.12">0.000</text>
<text x="247.60" y="239.52" font-size="7.5" font-family='"Liberation Sans", sans-serif' fill="#2a2a2a" text-anchor="end" stroke="#2a2a2a" stroke-width="0.12">D38_<tspan font-style="italic">DNMT3A</tspan></text>
<rect x="250.30" y="244.30" width="25.45" height="14.00" fill="rgb(249,233,231)"/>
<text x="263.00" y="253.58" font-size="6.5" font-family='"Liberation Sans", sans-serif' fill="#2a2a2a" text-anchor="middle" stroke="#2a2a2a" stroke-width="0.12">0.015</text>
<rect x="275.70" y="244.30" width="24.75" height="14.00" fill="rgb(250,236,233)"/>
<text x="288.05" y="253.58" font-size="6.5" font-family='"Liberation Sans", sans-serif' fill="#2a2a2a" text-anchor="middle" stroke="#2a2a2a" stroke-width="0.12">0.010</text>
<rect x="300.40" y="244.30" width="25.05" height="14.00" fill="rgb(255,255,255)"/>
<text x="312.90" y="253.58" font-size="6.5" font-family='"Liberation Sans", sans-serif' fill="#2a2a2a" text-anchor="middle" stroke="#2a2a2a" stroke-width="0.12">0.000</text>
<rect x="325.40" y="244.30" width="24.75" height="14.00" fill="rgb(255,255,255)"/>
<text x="337.75" y="253.58" font-size="6.5" font-family='"Liberation Sans", sans-serif' fill="#2a2a2a" text-anchor="middle" stroke="#2a2a2a" stroke-width="0.12">0.000</text>
<text x="247.60" y="253.47" font-size="7.5" font-family='"Liberation Sans", sans-serif' fill="#2a2a2a" text-anchor="end" stroke="#2a2a2a" stroke-width="0.12">D38_<tspan font-style="italic">DNMT3A</tspan></text>
<rect x="250.30" y="258.25" width="25.45" height="14.00" fill="rgb(238,191,183)"/>
<text x="263.00" y="267.53" font-size="6.5" font-family='"Liberation Sans", sans-serif' fill="#2a2a2a" text-anchor="middle" stroke="#2a2a2a" stroke-width="0.12">0.106</text>
<rect x="275.70" y="258.25" width="24.75" height="14.00" fill="rgb(237,186,177)"/>
<text x="288.05" y="267.53" font-size="6.5" font-family='"Liberation Sans", sans-serif' fill="#2a2a2a" text-anchor="middle" stroke="#2a2a2a" stroke-width="0.12">0.118</text>
<rect x="300.40" y="258.25" width="25.05" height="14.00" fill="rgb(250,236,233)"/>
<text x="312.90" y="267.53" font-size="6.5" font-family='"Liberation Sans", sans-serif' fill="#2a2a2a" text-anchor="middle" stroke="#2a2a2a" stroke-width="0.12">0.010</text>
<rect x="325.40" y="258.25" width="24.75" height="14.00" fill="rgb(250,235,232)"/>
<text x="337.75" y="267.53" font-size="6.5" font-family='"Liberation Sans", sans-serif' fill="#2a2a2a" text-anchor="middle" stroke="#2a2a2a" stroke-width="0.12">0.012</text>
<text x="247.60" y="267.43" font-size="7.5" font-family='"Liberation Sans", sans-serif' fill="#2a2a2a" text-anchor="end" stroke="#2a2a2a" stroke-width="0.12">D3_<tspan font-style="italic">TET2</tspan></text>
<rect x="250.30" y="272.20" width="25.45" height="14.00" fill="rgb(214,97,77)"/>
<text x="263.00" y="281.48" font-size="6.5" font-family='"Liberation Sans", sans-serif' fill="#2a2a2a" text-anchor="middle" stroke="#2a2a2a" stroke-width="0.12">0.335</text>
<rect x="275.70" y="272.20" width="24.75" height="14.00" fill="rgb(209,79,57)"/>
<text x="288.05" y="281.48" font-size="6.5" font-family='"Liberation Sans", sans-serif' fill="#2a2a2a" text-anchor="middle" stroke="#2a2a2a" stroke-width="0.12">0.380</text>
<rect x="300.40" y="272.20" width="25.05" height="14.00" fill="rgb(236,181,172)"/>
<text x="312.90" y="281.48" font-size="6.5" font-family='"Liberation Sans", sans-serif' fill="#2a2a2a" text-anchor="middle" stroke="#2a2a2a" stroke-width="0.12">0.130</text>
<rect x="325.40" y="272.20" width="24.75" height="14.00" fill="rgb(250,234,232)"/>
<text x="337.75" y="281.48" font-size="6.5" font-family='"Liberation Sans", sans-serif' fill="#2a2a2a" text-anchor="middle" stroke="#2a2a2a" stroke-width="0.12">0.013</text>
<text x="247.60" y="281.38" font-size="7.5" font-family='"Liberation Sans", sans-serif' fill="#2a2a2a" text-anchor="end" stroke="#2a2a2a" stroke-width="0.12">D28_<tspan font-style="italic">TET2</tspan></text>
<rect x="250.30" y="286.15" width="25.45" height="14.00" fill="rgb(219,115,98)"/>
<text x="263.00" y="295.43" font-size="6.5" font-family='"Liberation Sans", sans-serif' fill="#2a2a2a" text-anchor="middle" stroke="#2a2a2a" stroke-width="0.12">0.288</text>
<rect x="275.70" y="286.15" width="24.75" height="14.00" fill="rgb(214,96,76)"/>
<text x="288.05" y="295.43" font-size="6.5" font-family='"Liberation Sans", sans-serif' fill="#2a2a2a" text-anchor="middle" stroke="#2a2a2a" stroke-width="0.12">0.336</text>
<rect x="300.40" y="286.15" width="25.05" height="14.00" fill="rgb(246,219,215)"/>
<text x="312.90" y="295.43" font-size="6.5" font-family='"Liberation Sans", sans-serif' fill="#2a2a2a" text-anchor="middle" stroke="#2a2a2a" stroke-width="0.12">0.044</text>
<rect x="325.40" y="286.15" width="24.75" height="14.00" fill="rgb(247,225,221)"/>
<text x="337.75" y="295.43" font-size="6.5" font-family='"Liberation Sans", sans-serif' fill="#2a2a2a" text-anchor="middle" stroke="#2a2a2a" stroke-width="0.12">0.032</text>
<text x="247.60" y="295.32" font-size="7.5" font-family='"Liberation Sans", sans-serif' fill="#2a2a2a" text-anchor="end" stroke="#2a2a2a" stroke-width="0.12">D39_<tspan font-style="italic">TET2</tspan></text>
<rect x="250.30" y="300.10" width="25.45" height="14.00" fill="rgb(247,223,220)"/>
<text x="263.00" y="309.38" font-size="6.5" font-family='"Liberation Sans", sans-serif' fill="#2a2a2a" text-anchor="middle" stroke="#2a2a2a" stroke-width="0.12">0.035</text>
<rect x="275.70" y="300.10" width="24.75" height="14.00" fill="rgb(244,211,205)"/>
<text x="288.05" y="309.38" font-size="6.5" font-family='"Liberation Sans", sans-serif' fill="#2a2a2a" text-anchor="middle" stroke="#2a2a2a" stroke-width="0.12">0.062</text>
<rect x="300.40" y="300.10" width="25.05" height="14.00" fill="rgb(242,207,201)"/>
<text x="312.90" y="309.38" font-size="6.5" font-family='"Liberation Sans", sans-serif' fill="#2a2a2a" text-anchor="middle" stroke="#2a2a2a" stroke-width="0.12">0.071</text>
<rect x="325.40" y="300.10" width="24.75" height="14.00" fill="rgb(255,255,255)"/>
<text x="337.75" y="309.38" font-size="6.5" font-family='"Liberation Sans", sans-serif' fill="#2a2a2a" text-anchor="middle" stroke="#2a2a2a" stroke-width="0.12">0.000</text>
<text x="247.60" y="309.28" font-size="7.5" font-family='"Liberation Sans", sans-serif' fill="#2a2a2a" text-anchor="end" stroke="#2a2a2a" stroke-width="0.12">D7_<tspan font-style="italic">BRCC3</tspan></text>
<rect x="250.30" y="314.05" width="25.45" height="14.00" fill="rgb(246,219,214)"/>
<text x="263.00" y="323.33" font-size="6.5" font-family='"Liberation Sans", sans-serif' fill="#2a2a2a" text-anchor="middle" stroke="#2a2a2a" stroke-width="0.12">0.045</text>
<rect x="275.70" y="314.05" width="24.75" height="14.00" fill="rgb(244,211,206)"/>
<text x="288.05" y="323.33" font-size="6.5" font-family='"Liberation Sans", sans-serif' fill="#2a2a2a" text-anchor="middle" stroke="#2a2a2a" stroke-width="0.12">0.061</text>
<rect x="300.40" y="314.05" width="25.05" height="14.00" fill="rgb(248,229,226)"/>
<text x="312.90" y="323.33" font-size="6.5" font-family='"Liberation Sans", sans-serif' fill="#2a2a2a" text-anchor="middle" stroke="#2a2a2a" stroke-width="0.12">0.024</text>
<rect x="325.40" y="314.05" width="24.75" height="14.00" fill="rgb(255,255,255)"/>
<text x="337.75" y="323.33" font-size="6.5" font-family='"Liberation Sans", sans-serif' fill="#2a2a2a" text-anchor="middle" stroke="#2a2a2a" stroke-width="0.12">0.000</text>
<text x="247.60" y="323.23" font-size="7.5" font-family='"Liberation Sans", sans-serif' fill="#2a2a2a" text-anchor="end" stroke="#2a2a2a" stroke-width="0.12">D28_<tspan font-style="italic">BRCC3</tspan></text>
<rect x="250.30" y="328.00" width="25.45" height="14.00" fill="rgb(245,216,212)"/>
<text x="263.00" y="337.28" font-size="6.5" font-family='"Liberation Sans", sans-serif' fill="#2a2a2a" text-anchor="middle" stroke="#2a2a2a" stroke-width="0.12">0.050</text>
<rect x="275.70" y="328.00" width="24.75" height="14.00" fill="rgb(248,229,226)"/>
<text x="288.05" y="337.28" font-size="6.5" font-family='"Liberation Sans", sans-serif' fill="#2a2a2a" text-anchor="middle" stroke="#2a2a2a" stroke-width="0.12">0.023</text>
<rect x="300.40" y="328.00" width="25.05" height="14.00" fill="rgb(250,235,233)"/>
<text x="312.90" y="337.28" font-size="6.5" font-family='"Liberation Sans", sans-serif' fill="#2a2a2a" text-anchor="middle" stroke="#2a2a2a" stroke-width="0.12">0.011</text>
<rect x="325.40" y="328.00" width="24.75" height="14.00" fill="rgb(255,255,255)"/>
<text x="337.75" y="337.28" font-size="6.5" font-family='"Liberation Sans", sans-serif' fill="#2a2a2a" text-anchor="middle" stroke="#2a2a2a" stroke-width="0.12">0.000</text>
<text x="247.60" y="337.18" font-size="7.5" font-family='"Liberation Sans", sans-serif' fill="#2a2a2a" text-anchor="end" stroke="#2a2a2a" stroke-width="0.12">D39_<tspan font-style="italic">PPM1D</tspan></text>
<rect x="250.30" y="341.95" width="25.45" height="14.00" fill="rgb(247,224,220)"/>
<text x="263.00" y="351.23" font-size="6.5" font-family='"Liberation Sans", sans-serif' fill="#2a2a2a" text-anchor="middle" stroke="#2a2a2a" stroke-width="0.12">0.034</text>
<rect x="275.70" y="341.95" width="24.75" height="14.00" fill="rgb(247,223,218)"/>
<text x="288.05" y="351.23" font-size="6.5" font-family='"Liberation Sans", sans-serif' fill="#2a2a2a" text-anchor="middle" stroke="#2a2a2a" stroke-width="0.12">0.037</text>
<rect x="300.40" y="341.95" width="25.05" height="14.00" fill="rgb(248,229,226)"/>
<text x="312.90" y="351.23" font-size="6.5" font-family='"Liberation Sans", sans-serif' fill="#2a2a2a" text-anchor="middle" stroke="#2a2a2a" stroke-width="0.12">0.024</text>
<rect x="325.40" y="341.95" width="24.75" height="14.00" fill="rgb(255,255,255)"/>
<text x="337.75" y="351.23" font-size="6.5" font-family='"Liberation Sans", sans-serif' fill="#2a2a2a" text-anchor="middle" stroke="#2a2a2a" stroke-width="0.12">0.000</text>
<text x="247.60" y="351.12" font-size="7.5" font-family='"Liberation Sans", sans-serif' fill="#2a2a2a" text-anchor="end" stroke="#2a2a2a" stroke-width="0.12">D21_<tspan font-style="italic">BCOR</tspan></text>
<rect x="250.30" y="355.90" width="25.45" height="14.00" fill="rgb(249,231,228)"/>
<text x="263.00" y="365.18" font-size="6.5" font-family='"Liberation Sans", sans-serif' fill="#2a2a2a" text-anchor="middle" stroke="#2a2a2a" stroke-width="0.12">0.019</text>
<rect x="275.70" y="355.90" width="24.75" height="14.00" fill="rgb(250,237,235)"/>
<text x="288.05" y="365.18" font-size="6.5" font-family='"Liberation Sans", sans-serif' fill="#2a2a2a" text-anchor="middle" stroke="#2a2a2a" stroke-width="0.12">0.008</text>
<rect x="300.40" y="355.90" width="25.05" height="14.00" fill="rgb(255,255,255)"/>
<text x="312.90" y="365.18" font-size="6.5" font-family='"Liberation Sans", sans-serif' fill="#2a2a2a" text-anchor="middle" stroke="#2a2a2a" stroke-width="0.12">0.000</text>
<rect x="325.40" y="355.90" width="24.75" height="14.00" fill="rgb(255,255,255)"/>
<text x="337.75" y="365.18" font-size="6.5" font-family='"Liberation Sans", sans-serif' fill="#2a2a2a" text-anchor="middle" stroke="#2a2a2a" stroke-width="0.12">0.000</text>
<text x="247.60" y="365.07" font-size="7.5" font-family='"Liberation Sans", sans-serif' fill="#2a2a2a" text-anchor="end" stroke="#2a2a2a" stroke-width="0.12">D5_<tspan font-style="italic">JAK2</tspan></text>
<rect x="250.30" y="369.85" width="25.45" height="14.00" fill="rgb(238,190,181)"/>
<text x="263.00" y="379.13" font-size="6.5" font-family='"Liberation Sans", sans-serif' fill="#2a2a2a" text-anchor="middle" stroke="#2a2a2a" stroke-width="0.12">0.110</text>
<rect x="275.70" y="369.85" width="24.75" height="14.00" fill="rgb(255,255,255)"/>
<text x="288.05" y="379.13" font-size="6.5" font-family='"Liberation Sans", sans-serif' fill="#2a2a2a" text-anchor="middle" stroke="#2a2a2a" stroke-width="0.12">0.000</text>
<rect x="300.40" y="369.85" width="25.05" height="14.00" fill="rgb(255,255,255)"/>
<text x="312.90" y="379.13" font-size="6.5" font-family='"Liberation Sans", sans-serif' fill="#2a2a2a" text-anchor="middle" stroke="#2a2a2a" stroke-width="0.12">0.000</text>
<rect x="325.40" y="369.85" width="24.75" height="14.00" fill="rgb(255,255,255)"/>
<text x="337.75" y="379.13" font-size="6.5" font-family='"Liberation Sans", sans-serif' fill="#2a2a2a" text-anchor="middle" stroke="#2a2a2a" stroke-width="0.12">0.000</text>
<text x="247.60" y="379.03" font-size="7.5" font-family='"Liberation Sans", sans-serif' fill="#2a2a2a" text-anchor="end" stroke="#2a2a2a" stroke-width="0.12">D21_<tspan font-style="italic">CALR</tspan></text>
<rect x="250.30" y="188.50" width="99.80" height="194.90" fill="none" stroke="#1a1a1a" stroke-width="1"/>
<line x1="275.70" y1="188.50" x2="275.70" y2="383.80" stroke="#1a1a1a" stroke-width="1"/>
<text x="263.00" y="185.20" font-size="7.8" font-family='"Liberation Sans", sans-serif' fill="#2a2a2a" text-anchor="middle" stroke="#2a2a2a" stroke-width="0.12">Gran</text>
<text x="288.05" y="185.20" font-size="7.8" font-family='"Liberation Sans", sans-serif' fill="#2a2a2a" text-anchor="middle" stroke="#2a2a2a" stroke-width="0.12">Mono</text>
<text x="312.90" y="185.20" font-size="7.8" font-family='"Liberation Sans", sans-serif' fill="#2a2a2a" text-anchor="middle" stroke="#2a2a2a" stroke-width="0.12">B</text>
<text x="337.75" y="185.20" font-size="7.8" font-family='"Liberation Sans", sans-serif' fill="#2a2a2a" text-anchor="middle" stroke="#2a2a2a" stroke-width="0.12">T</text>
<text x="303.50" y="174.40" font-size="7.5" font-family='"Liberation Sans", sans-serif' fill="#111" text-anchor="middle" font-weight="bold">Donors</text>
<rect x="412.70" y="188.50" width="25.05" height="14.00" fill="rgb(237,187,179)"/>
<text x="425.20" y="197.78" font-size="6.5" font-family='"Liberation Sans", sans-serif' fill="#2a2a2a" text-anchor="middle" stroke="#2a2a2a" stroke-width="0.12">0.115</text>
<rect x="437.70" y="188.50" width="25.25" height="14.00" fill="rgb(239,192,184)"/>
<text x="450.30" y="197.78" font-size="6.5" font-family='"Liberation Sans", sans-serif' fill="#2a2a2a" text-anchor="middle" stroke="#2a2a2a" stroke-width="0.12">0.104</text>
<rect x="462.90" y="188.50" width="25.05" height="14.00" fill="rgb(255,255,255)"/>
<text x="475.40" y="197.78" font-size="6.5" font-family='"Liberation Sans", sans-serif' fill="#2a2a2a" text-anchor="middle" stroke="#2a2a2a" stroke-width="0.12">0.000</text>
<rect x="487.90" y="188.50" width="25.05" height="14.00" fill="rgb(255,255,255)"/>
<text x="500.40" y="197.78" font-size="6.5" font-family='"Liberation Sans", sans-serif' fill="#2a2a2a" text-anchor="middle" stroke="#2a2a2a" stroke-width="0.12">0.000</text>
<text x="409.60" y="197.67" font-size="7.5" font-family='"Liberation Sans", sans-serif' fill="#2a2a2a" text-anchor="end" stroke="#2a2a2a" stroke-width="0.12">R1_<tspan font-style="italic">DNMT3A</tspan></text>
<rect x="412.70" y="202.45" width="25.05" height="14.00" fill="rgb(247,224,221)"/>
<text x="425.20" y="211.72" font-size="6.5" font-family='"Liberation Sans", sans-serif' fill="#2a2a2a" text-anchor="middle" stroke="#2a2a2a" stroke-width="0.12">0.033</text>
<rect x="437.70" y="202.45" width="25.25" height="14.00" fill="rgb(246,221,217)"/>
<text x="450.30" y="211.72" font-size="6.5" font-family='"Liberation Sans", sans-serif' fill="#2a2a2a" text-anchor="middle" stroke="#2a2a2a" stroke-width="0.12">0.040</text>
<rect x="462.90" y="202.45" width="25.05" height="14.00" fill="rgb(239,195,188)"/>
<text x="475.40" y="211.72" font-size="6.5" font-family='"Liberation Sans", sans-serif' fill="#2a2a2a" text-anchor="middle" stroke="#2a2a2a" stroke-width="0.12">0.097</text>
<rect x="487.90" y="202.45" width="25.05" height="14.00" fill="rgb(248,229,226)"/>
<text x="500.40" y="211.72" font-size="6.5" font-family='"Liberation Sans", sans-serif' fill="#2a2a2a" text-anchor="middle" stroke="#2a2a2a" stroke-width="0.12">0.023</text>
<text x="409.60" y="211.62" font-size="7.5" font-family='"Liberation Sans", sans-serif' fill="#2a2a2a" text-anchor="end" stroke="#2a2a2a" stroke-width="0.12">R7_<tspan font-style="italic">DNMT3A</tspan></text>
<rect x="412.70" y="216.40" width="25.05" height="14.00" fill="rgb(249,233,230)"/>
<text x="425.20" y="225.68" font-size="6.5" font-family='"Liberation Sans", sans-serif' fill="#2a2a2a" text-anchor="middle" stroke="#2a2a2a" stroke-width="0.12">0.016</text>
<rect x="437.70" y="216.40" width="25.25" height="14.00" fill="rgb(250,234,232)"/>
<text x="450.30" y="225.68" font-size="6.5" font-family='"Liberation Sans", sans-serif' fill="#2a2a2a" text-anchor="middle" stroke="#2a2a2a" stroke-width="0.12">0.013</text>
<rect x="462.90" y="216.40" width="25.05" height="14.00" fill="rgb(251,239,237)"/>
<text x="475.40" y="225.68" font-size="6.5" font-family='"Liberation Sans", sans-serif' fill="#2a2a2a" text-anchor="middle" stroke="#2a2a2a" stroke-width="0.12">0.005</text>
<rect x="487.90" y="216.40" width="25.05" height="14.00" fill="rgb(255,255,255)"/>
<text x="500.40" y="225.68" font-size="6.5" font-family='"Liberation Sans", sans-serif' fill="#2a2a2a" text-anchor="middle" stroke="#2a2a2a" stroke-width="0.12">0.000</text>
<text x="409.60" y="225.57" font-size="7.5" font-family='"Liberation Sans", sans-serif' fill="#2a2a2a" text-anchor="end" stroke="#2a2a2a" stroke-width="0.12">R10_<tspan font-style="italic">DNMT3A</tspan></text>
<rect x="412.70" y="230.35" width="25.05" height="14.00" fill="rgb(250,236,233)"/>
<text x="425.20" y="239.62" font-size="6.5" font-family='"Liberation Sans", sans-serif' fill="#2a2a2a" text-anchor="middle" stroke="#2a2a2a" stroke-width="0.12">0.010</text>
<rect x="437.70" y="230.35" width="25.25" height="14.00" fill="rgb(250,237,235)"/>
<text x="450.30" y="239.62" font-size="6.5" font-family='"Liberation Sans", sans-serif' fill="#2a2a2a" text-anchor="middle" stroke="#2a2a2a" stroke-width="0.12">0.008</text>
<rect x="462.90" y="230.35" width="25.05" height="14.00" fill="rgb(250,237,235)"/>
<text x="475.40" y="239.62" font-size="6.5" font-family='"Liberation Sans", sans-serif' fill="#2a2a2a" text-anchor="middle" stroke="#2a2a2a" stroke-width="0.12">0.007</text>
<rect x="487.90" y="230.35" width="25.05" height="14.00" fill="rgb(255,255,255)"/>
<text x="500.40" y="239.62" font-size="6.5" font-family='"Liberation Sans", sans-serif' fill="#2a2a2a" text-anchor="middle" stroke="#2a2a2a" stroke-width="0.12">0.000</text>
<text x="409.60" y="239.52" font-size="7.5" font-family='"Liberation Sans", sans-serif' fill="#2a2a2a" text-anchor="end" stroke="#2a2a2a" stroke-width="0.12">R18_<tspan font-style="italic">DNMT3A</tspan></text>
<rect x="412.70" y="244.30" width="25.05" height="14.00" fill="rgb(249,234,231)"/>
<text x="425.20" y="253.58" font-size="6.5" font-family='"Liberation Sans", sans-serif' fill="#2a2a2a" text-anchor="middle" stroke="#2a2a2a" stroke-width="0.12">0.014</text>
<rect x="437.70" y="244.30" width="25.25" height="14.00" fill="rgb(250,237,235)"/>
<text x="450.30" y="253.58" font-size="6.5" font-family='"Liberation Sans", sans-serif' fill="#2a2a2a" text-anchor="middle" stroke="#2a2a2a" stroke-width="0.12">0.008</text>
<rect x="462.90" y="244.30" width="25.05" height="14.00" fill="rgb(251,238,236)"/>
<text x="475.40" y="253.58" font-size="6.5" font-family='"Liberation Sans", sans-serif' fill="#2a2a2a" text-anchor="middle" stroke="#2a2a2a" stroke-width="0.12">0.006</text>
<rect x="487.90" y="244.30" width="25.05" height="14.00" fill="rgb(250,237,235)"/>
<text x="500.40" y="253.58" font-size="6.5" font-family='"Liberation Sans", sans-serif' fill="#2a2a2a" text-anchor="middle" stroke="#2a2a2a" stroke-width="0.12">0.007</text>
<text x="409.60" y="253.47" font-size="7.5" font-family='"Liberation Sans", sans-serif' fill="#2a2a2a" text-anchor="end" stroke="#2a2a2a" stroke-width="0.12">R18_<tspan font-style="italic">DNMT3A</tspan></text>
<rect x="412.70" y="258.25" width="25.05" height="14.00" fill="rgb(238,190,181)"/>
<text x="425.20" y="267.53" font-size="6.5" font-family='"Liberation Sans", sans-serif' fill="#2a2a2a" text-anchor="middle" stroke="#2a2a2a" stroke-width="0.12">0.110</text>
<rect x="437.70" y="258.25" width="25.25" height="14.00" fill="rgb(249,230,227)"/>
<text x="450.30" y="267.53" font-size="6.5" font-family='"Liberation Sans", sans-serif' fill="#2a2a2a" text-anchor="middle" stroke="#2a2a2a" stroke-width="0.12">0.021</text>
<rect x="462.90" y="258.25" width="25.05" height="14.00" fill="rgb(250,237,235)"/>
<text x="475.40" y="267.53" font-size="6.5" font-family='"Liberation Sans", sans-serif' fill="#2a2a2a" text-anchor="middle" stroke="#2a2a2a" stroke-width="0.12">0.007</text>
<rect x="487.90" y="258.25" width="25.05" height="14.00" fill="rgb(250,236,233)"/>
<text x="500.40" y="267.53" font-size="6.5" font-family='"Liberation Sans", sans-serif' fill="#2a2a2a" text-anchor="middle" stroke="#2a2a2a" stroke-width="0.12">0.010</text>
<text x="409.60" y="267.43" font-size="7.5" font-family='"Liberation Sans", sans-serif' fill="#2a2a2a" text-anchor="end" stroke="#2a2a2a" stroke-width="0.12">R21_<tspan font-style="italic">DNMT3A</tspan></text>
<rect x="412.70" y="272.20" width="25.05" height="14.00" fill="rgb(250,237,235)"/>
<text x="425.20" y="281.48" font-size="6.5" font-family='"Liberation Sans", sans-serif' fill="#2a2a2a" text-anchor="middle" stroke="#2a2a2a" stroke-width="0.12">0.008</text>
<rect x="437.70" y="272.20" width="25.25" height="14.00" fill="rgb(250,236,233)"/>
<text x="450.30" y="281.48" font-size="6.5" font-family='"Liberation Sans", sans-serif' fill="#2a2a2a" text-anchor="middle" stroke="#2a2a2a" stroke-width="0.12">0.010</text>
<rect x="462.90" y="272.20" width="25.05" height="14.00" fill="rgb(255,255,255)"/>
<text x="475.40" y="281.48" font-size="6.5" font-family='"Liberation Sans", sans-serif' fill="#2a2a2a" text-anchor="middle" stroke="#2a2a2a" stroke-width="0.12">0.000</text>
<rect x="487.90" y="272.20" width="25.05" height="14.00" fill="rgb(255,255,255)"/>
<text x="500.40" y="281.48" font-size="6.5" font-family='"Liberation Sans", sans-serif' fill="#2a2a2a" text-anchor="middle" stroke="#2a2a2a" stroke-width="0.12">0.000</text>
<text x="409.60" y="281.38" font-size="7.5" font-family='"Liberation Sans", sans-serif' fill="#2a2a2a" text-anchor="end" stroke="#2a2a2a" stroke-width="0.12">R34_<tspan font-style="italic">DNMT3A</tspan></text>
<rect x="412.70" y="286.15" width="25.05" height="14.00" fill="rgb(235,177,167)"/>
<text x="425.20" y="295.43" font-size="6.5" font-family='"Liberation Sans", sans-serif' fill="#2a2a2a" text-anchor="middle" stroke="#2a2a2a" stroke-width="0.12">0.140</text>
<rect x="437.70" y="286.15" width="25.25" height="14.00" fill="rgb(232,166,155)"/>
<text x="450.30" y="295.43" font-size="6.5" font-family='"Liberation Sans", sans-serif' fill="#2a2a2a" text-anchor="middle" stroke="#2a2a2a" stroke-width="0.12">0.165</text>
<rect x="462.90" y="286.15" width="25.05" height="14.00" fill="rgb(243,210,204)"/>
<text x="475.40" y="295.43" font-size="6.5" font-family='"Liberation Sans", sans-serif' fill="#2a2a2a" text-anchor="middle" stroke="#2a2a2a" stroke-width="0.12">0.064</text>
<rect x="487.90" y="286.15" width="25.05" height="14.00" fill="rgb(249,233,231)"/>
<text x="500.40" y="295.43" font-size="6.5" font-family='"Liberation Sans", sans-serif' fill="#2a2a2a" text-anchor="middle" stroke="#2a2a2a" stroke-width="0.12">0.015</text>
<text x="409.60" y="295.32" font-size="7.5" font-family='"Liberation Sans", sans-serif' fill="#2a2a2a" text-anchor="end" stroke="#2a2a2a" stroke-width="0.12">R3_<tspan font-style="italic">TET2</tspan></text>
<rect x="412.70" y="300.10" width="25.05" height="14.00" fill="rgb(229,155,142)"/>
<text x="425.20" y="309.38" font-size="6.5" font-family='"Liberation Sans", sans-serif' fill="#2a2a2a" text-anchor="middle" stroke="#2a2a2a" stroke-width="0.12">0.192</text>
<rect x="437.70" y="300.10" width="25.25" height="14.00" fill="rgb(223,134,118)"/>
<text x="450.30" y="309.38" font-size="6.5" font-family='"Liberation Sans", sans-serif' fill="#2a2a2a" text-anchor="middle" stroke="#2a2a2a" stroke-width="0.12">0.243</text>
<rect x="462.90" y="300.10" width="25.05" height="14.00" fill="rgb(251,239,237)"/>
<text x="475.40" y="309.38" font-size="6.5" font-family='"Liberation Sans", sans-serif' fill="#2a2a2a" text-anchor="middle" stroke="#2a2a2a" stroke-width="0.12">0.005</text>
<rect x="487.90" y="300.10" width="25.05" height="14.00" fill="rgb(255,255,255)"/>
<text x="500.40" y="309.38" font-size="6.5" font-family='"Liberation Sans", sans-serif' fill="#2a2a2a" text-anchor="middle" stroke="#2a2a2a" stroke-width="0.12">0.000</text>
<text x="409.60" y="309.28" font-size="7.5" font-family='"Liberation Sans", sans-serif' fill="#2a2a2a" text-anchor="end" stroke="#2a2a2a" stroke-width="0.12">R11_<tspan font-style="italic">TET2</tspan></text>
<rect x="412.70" y="314.05" width="25.05" height="14.00" fill="rgb(202,53,27)"/>
<text x="425.20" y="323.33" font-size="6.5" font-family='"Liberation Sans", sans-serif' fill="#2a2a2a" text-anchor="middle" stroke="#2a2a2a" stroke-width="0.12">0.447</text>
<rect x="437.70" y="314.05" width="25.25" height="14.00" fill="rgb(203,56,31)"/>
<text x="450.30" y="323.33" font-size="6.5" font-family='"Liberation Sans", sans-serif' fill="#2a2a2a" text-anchor="middle" stroke="#2a2a2a" stroke-width="0.12">0.437</text>
<rect x="462.90" y="314.05" width="25.05" height="14.00" fill="rgb(227,149,136)"/>
<text x="475.40" y="323.33" font-size="6.5" font-family='"Liberation Sans", sans-serif' fill="#2a2a2a" text-anchor="middle" stroke="#2a2a2a" stroke-width="0.12">0.206</text>
<rect x="487.90" y="314.05" width="25.05" height="14.00" fill="rgb(241,201,195)"/>
<text x="500.40" y="323.33" font-size="6.5" font-family='"Liberation Sans", sans-serif' fill="#2a2a2a" text-anchor="middle" stroke="#2a2a2a" stroke-width="0.12">0.083</text>
<text x="409.60" y="323.23" font-size="7.5" font-family='"Liberation Sans", sans-serif' fill="#2a2a2a" text-anchor="end" stroke="#2a2a2a" stroke-width="0.12">R28_<tspan font-style="italic">TET2</tspan></text>
<rect x="412.70" y="328.00" width="25.05" height="14.00" fill="rgb(250,236,234)"/>
<text x="425.20" y="337.28" font-size="6.5" font-family='"Liberation Sans", sans-serif' fill="#2a2a2a" text-anchor="middle" stroke="#2a2a2a" stroke-width="0.12">0.009</text>
<rect x="437.70" y="328.00" width="25.25" height="14.00" fill="rgb(249,232,229)"/>
<text x="450.30" y="337.28" font-size="6.5" font-family='"Liberation Sans", sans-serif' fill="#2a2a2a" text-anchor="middle" stroke="#2a2a2a" stroke-width="0.12">0.018</text>
<rect x="462.90" y="328.00" width="25.05" height="14.00" fill="rgb(255,255,255)"/>
<text x="475.40" y="337.28" font-size="6.5" font-family='"Liberation Sans", sans-serif' fill="#2a2a2a" text-anchor="middle" stroke="#2a2a2a" stroke-width="0.12">0.000</text>
<rect x="487.90" y="328.00" width="25.05" height="14.00" fill="rgb(255,255,255)"/>
<text x="500.40" y="337.28" font-size="6.5" font-family='"Liberation Sans", sans-serif' fill="#2a2a2a" text-anchor="middle" stroke="#2a2a2a" stroke-width="0.12">0.000</text>
<text x="409.60" y="337.18" font-size="7.5" font-family='"Liberation Sans", sans-serif' fill="#2a2a2a" text-anchor="end" stroke="#2a2a2a" stroke-width="0.12">R2_<tspan font-style="italic">TP53</tspan></text>
<rect x="412.70" y="341.95" width="25.05" height="14.00" fill="rgb(250,236,233)"/>
<text x="425.20" y="351.23" font-size="6.5" font-family='"Liberation Sans", sans-serif' fill="#2a2a2a" text-anchor="middle" stroke="#2a2a2a" stroke-width="0.12">0.01</text>
<rect x="437.70" y="341.95" width="25.25" height="14.00" fill="rgb(250,236,233)"/>
<text x="450.30" y="351.23" font-size="6.5" font-family='"Liberation Sans", sans-serif' fill="#2a2a2a" text-anchor="middle" stroke="#2a2a2a" stroke-width="0.12">0.010</text>
<rect x="462.90" y="341.95" width="25.05" height="14.00" fill="rgb(255,255,255)"/>
<text x="475.40" y="351.23" font-size="6.5" font-family='"Liberation Sans", sans-serif' fill="#2a2a2a" text-anchor="middle" stroke="#2a2a2a" stroke-width="0.12">0.000</text>
<rect x="487.90" y="341.95" width="25.05" height="14.00" fill="rgb(255,255,255)"/>
<text x="500.40" y="351.23" font-size="6.5" font-family='"Liberation Sans", sans-serif' fill="#2a2a2a" text-anchor="middle" stroke="#2a2a2a" stroke-width="0.12">0.000</text>
<text x="409.60" y="351.12" font-size="7.5" font-family='"Liberation Sans", sans-serif' fill="#2a2a2a" text-anchor="end" stroke="#2a2a2a" stroke-width="0.12">R14_<tspan font-style="italic">TP53</tspan></text>
<rect x="412.70" y="355.90" width="25.05" height="14.00" fill="rgb(246,219,215)"/>
<text x="425.20" y="365.18" font-size="6.5" font-family='"Liberation Sans", sans-serif' fill="#2a2a2a" text-anchor="middle" stroke="#2a2a2a" stroke-width="0.12">0.044</text>
<rect x="437.70" y="355.90" width="25.25" height="14.00" fill="rgb(244,214,209)"/>
<text x="450.30" y="365.18" font-size="6.5" font-family='"Liberation Sans", sans-serif' fill="#2a2a2a" text-anchor="middle" stroke="#2a2a2a" stroke-width="0.12">0.055</text>
<rect x="462.90" y="355.90" width="25.05" height="14.00" fill="rgb(255,255,255)"/>
<text x="475.40" y="365.18" font-size="6.5" font-family='"Liberation Sans", sans-serif' fill="#2a2a2a" text-anchor="middle" stroke="#2a2a2a" stroke-width="0.12">0.000</text>
<rect x="487.90" y="355.90" width="25.05" height="14.00" fill="rgb(255,255,255)"/>
<text x="500.40" y="365.18" font-size="6.5" font-family='"Liberation Sans", sans-serif' fill="#2a2a2a" text-anchor="middle" stroke="#2a2a2a" stroke-width="0.12">0.000</text>
<text x="409.60" y="365.07" font-size="7.5" font-family='"Liberation Sans", sans-serif' fill="#2a2a2a" text-anchor="end" stroke="#2a2a2a" stroke-width="0.12">R39_<tspan font-style="italic">PPM1D</tspan></text>
<rect x="412.70" y="369.85" width="25.05" height="14.00" fill="rgb(243,210,204)"/>
<text x="425.20" y="379.13" font-size="6.5" font-family='"Liberation Sans", sans-serif' fill="#2a2a2a" text-anchor="middle" stroke="#2a2a2a" stroke-width="0.12">0.065</text>
<rect x="437.70" y="369.85" width="25.25" height="14.00" fill="rgb(244,213,207)"/>
<text x="450.30" y="379.13" font-size="6.5" font-family='"Liberation Sans", sans-serif' fill="#2a2a2a" text-anchor="middle" stroke="#2a2a2a" stroke-width="0.12">0.058</text>
<rect x="462.90" y="369.85" width="25.05" height="14.00" fill="rgb(244,212,207)"/>
<text x="475.40" y="379.13" font-size="6.5" font-family='"Liberation Sans", sans-serif' fill="#2a2a2a" text-anchor="middle" stroke="#2a2a2a" stroke-width="0.12">0.059</text>
<rect x="487.90" y="369.85" width="25.05" height="14.00" fill="rgb(250,237,235)"/>
<text x="500.40" y="379.13" font-size="6.5" font-family='"Liberation Sans", sans-serif' fill="#2a2a2a" text-anchor="middle" stroke="#2a2a2a" stroke-width="0.12">0.008</text>
<text x="409.60" y="379.03" font-size="7.5" font-family='"Liberation Sans", sans-serif' fill="#2a2a2a" text-anchor="end" stroke="#2a2a2a" stroke-width="0.12">R28_<tspan font-style="italic">BRCC3</tspan></text>
<rect x="412.70" y="383.80" width="25.05" height="14.00" fill="rgb(246,220,215)"/>
<text x="425.20" y="393.07" font-size="6.5" font-family='"Liberation Sans", sans-serif' fill="#2a2a2a" text-anchor="middle" stroke="#2a2a2a" stroke-width="0.12">0.043</text>
<rect x="437.70" y="383.80" width="25.25" height="14.00" fill="rgb(246,222,217)"/>
<text x="450.30" y="393.07" font-size="6.5" font-family='"Liberation Sans", sans-serif' fill="#2a2a2a" text-anchor="middle" stroke="#2a2a2a" stroke-width="0.12">0.039</text>
<rect x="462.90" y="383.80" width="25.05" height="14.00" fill="rgb(250,235,233)"/>
<text x="475.40" y="393.07" font-size="6.5" font-family='"Liberation Sans", sans-serif' fill="#2a2a2a" text-anchor="middle" stroke="#2a2a2a" stroke-width="0.12">0.011</text>
<rect x="487.90" y="383.80" width="25.05" height="14.00" fill="rgb(255,255,255)"/>
<text x="500.40" y="393.07" font-size="6.5" font-family='"Liberation Sans", sans-serif' fill="#2a2a2a" text-anchor="middle" stroke="#2a2a2a" stroke-width="0.12">0.000</text>
<text x="409.60" y="392.97" font-size="7.5" font-family='"Liberation Sans", sans-serif' fill="#2a2a2a" text-anchor="end" stroke="#2a2a2a" stroke-width="0.12">R21_<tspan font-style="italic">BCOR</tspan></text>
<rect x="412.70" y="397.75" width="25.05" height="14.00" fill="rgb(248,227,224)"/>
<text x="425.20" y="407.03" font-size="6.5" font-family='"Liberation Sans", sans-serif' fill="#2a2a2a" text-anchor="middle" stroke="#2a2a2a" stroke-width="0.12">0.027</text>
<rect x="437.70" y="397.75" width="25.25" height="14.00" fill="rgb(243,208,202)"/>
<text x="450.30" y="407.03" font-size="6.5" font-family='"Liberation Sans", sans-serif' fill="#2a2a2a" text-anchor="middle" stroke="#2a2a2a" stroke-width="0.12">0.069</text>
<rect x="462.90" y="397.75" width="25.05" height="14.00" fill="rgb(255,255,255)"/>
<text x="475.40" y="407.03" font-size="6.5" font-family='"Liberation Sans", sans-serif' fill="#2a2a2a" text-anchor="middle" stroke="#2a2a2a" stroke-width="0.12">0.000</text>
<rect x="487.90" y="397.75" width="25.05" height="14.00" fill="rgb(255,255,255)"/>
<text x="500.40" y="407.03" font-size="6.5" font-family='"Liberation Sans", sans-serif' fill="#2a2a2a" text-anchor="middle" stroke="#2a2a2a" stroke-width="0.12">0.000</text>
<text x="409.60" y="406.93" font-size="7.5" font-family='"Liberation Sans", sans-serif' fill="#2a2a2a" text-anchor="end" stroke="#2a2a2a" stroke-width="0.12">R7_<tspan font-style="italic">BCORL1</tspan></text>
<rect x="412.70" y="411.70" width="25.05" height="14.00" fill="rgb(239,194,186)"/>
<text x="425.20" y="420.98" font-size="6.5" font-family='"Liberation Sans", sans-serif' fill="#2a2a2a" text-anchor="middle" stroke="#2a2a2a" stroke-width="0.12">0.100</text>
<rect x="437.70" y="411.70" width="25.25" height="14.00" fill="rgb(238,190,182)"/>
<text x="450.30" y="420.98" font-size="6.5" font-family='"Liberation Sans", sans-serif' fill="#2a2a2a" text-anchor="middle" stroke="#2a2a2a" stroke-width="0.12">0.109</text>
<rect x="462.90" y="411.70" width="25.05" height="14.00" fill="rgb(246,221,216)"/>
<text x="475.40" y="420.98" font-size="6.5" font-family='"Liberation Sans", sans-serif' fill="#2a2a2a" text-anchor="middle" stroke="#2a2a2a" stroke-width="0.12">0.041</text>
<rect x="487.90" y="411.70" width="25.05" height="14.00" fill="rgb(255,255,255)"/>
<text x="500.40" y="420.98" font-size="6.5" font-family='"Liberation Sans", sans-serif' fill="#2a2a2a" text-anchor="middle" stroke="#2a2a2a" stroke-width="0.12">0.000</text>
<text x="409.60" y="420.88" font-size="7.5" font-family='"Liberation Sans", sans-serif' fill="#2a2a2a" text-anchor="end" stroke="#2a2a2a" stroke-width="0.12">R1_<tspan font-style="italic">KIT</tspan></text>
<rect x="412.70" y="188.50" width="100.20" height="236.75" fill="none" stroke="#1a1a1a" stroke-width="1"/>
<line x1="437.70" y1="188.50" x2="437.70" y2="425.65" stroke="#1a1a1a" stroke-width="1"/>
<text x="425.20" y="185.20" font-size="7.8" font-family='"Liberation Sans", sans-serif' fill="#2a2a2a" text-anchor="middle" stroke="#2a2a2a" stroke-width="0.12">Gran</text>
<text x="450.30" y="185.20" font-size="7.8" font-family='"Liberation Sans", sans-serif' fill="#2a2a2a" text-anchor="middle" stroke="#2a2a2a" stroke-width="0.12">Mono</text>
<text x="475.40" y="185.20" font-size="7.8" font-family='"Liberation Sans", sans-serif' fill="#2a2a2a" text-anchor="middle" stroke="#2a2a2a" stroke-width="0.12">B</text>
<text x="500.40" y="185.20" font-size="7.8" font-family='"Liberation Sans", sans-serif' fill="#2a2a2a" text-anchor="middle" stroke="#2a2a2a" stroke-width="0.12">T</text>
<text x="465.50" y="174.40" font-size="7.5" font-family='"Liberation Sans", sans-serif' fill="#111" text-anchor="middle" font-weight="bold">Recipients</text>
<defs><linearGradient id="cb" x1="0" x2="1" y1="0" y2="0"><stop offset="0.0" stop-color="rgb(255,255,255)"/><stop offset="0.1" stop-color="rgb(249,233,230)"/><stop offset="0.2" stop-color="rgb(243,210,205)"/><stop offset="0.3" stop-color="rgb(238,188,180)"/><stop offset="0.4" stop-color="rgb(232,166,155)"/><stop offset="0.5" stop-color="rgb(226,144,130)"/><stop offset="0.6" stop-color="rgb(220,121,104)"/><stop offset="0.7" stop-color="rgb(214,99,79)"/><stop offset="0.8" stop-color="rgb(209,77,54)"/><stop offset="0.9" stop-color="rgb(203,54,29)"/><stop offset="1.0" stop-color="rgb(197,32,4)"/></linearGradient></defs>
<rect x="252.6" y="415.4" width="94.4" height="11.2" fill="url(#cb)" stroke="#222" stroke-width="1"/>
<line x1="271.48" y1="415.4" x2="271.48" y2="417.6" stroke="#222" stroke-width="0.9"/>
<line x1="271.48" y1="424.4" x2="271.48" y2="426.6" stroke="#222" stroke-width="0.9"/>
<line x1="290.36" y1="415.4" x2="290.36" y2="417.6" stroke="#222" stroke-width="0.9"/>
<line x1="290.36" y1="424.4" x2="290.36" y2="426.6" stroke="#222" stroke-width="0.9"/>
<line x1="309.24" y1="415.4" x2="309.24" y2="417.6" stroke="#222" stroke-width="0.9"/>
<line x1="309.24" y1="424.4" x2="309.24" y2="426.6" stroke="#222" stroke-width="0.9"/>
<line x1="328.12" y1="415.4" x2="328.12" y2="417.6" stroke="#222" stroke-width="0.9"/>
<line x1="328.12" y1="424.4" x2="328.12" y2="426.6" stroke="#222" stroke-width="0.9"/>
<text transform="rotate(-90)" x="-411.6" y="255.80" font-size="9" font-family='"Liberation Sans", sans-serif' fill="#333" textLength="10.7" lengthAdjust="spacingAndGlyphs">0.0</text>
<text transform="rotate(-90)" x="-411.6" y="274.76" font-size="9" font-family='"Liberation Sans", sans-serif' fill="#333" textLength="10.7" lengthAdjust="spacingAndGlyphs">0.1</text>
<text transform="rotate(-90)" x="-411.6" y="293.72" font-size="9" font-family='"Liberation Sans", sans-serif' fill="#333" textLength="10.7" lengthAdjust="spacingAndGlyphs">0.2</text>
<text transform="rotate(-90)" x="-411.6" y="312.68" font-size="9" font-family='"Liberation Sans", sans-serif' fill="#333" textLength="10.7" lengthAdjust="spacingAndGlyphs">0.3</text>
<text transform="rotate(-90)" x="-411.6" y="331.64" font-size="9" font-family='"Liberation Sans", sans-serif' fill="#333" textLength="10.7" lengthAdjust="spacingAndGlyphs">0.4</text>
<text transform="rotate(-90)" x="-411.6" y="350.60" font-size="9" font-family='"Liberation Sans", sans-serif' fill="#333" textLength="10.7" lengthAdjust="spacingAndGlyphs">0.5</text>
<text x="299.70" y="437.30" font-size="8.6" font-family='"Liberation Sans", sans-serif' fill="#333" text-anchor="middle" textLength="13" lengthAdjust="spacingAndGlyphs" stroke="#333" stroke-width="0.12">VAF</text>
<text x="7.50" y="350.00" font-size="11" font-family='"Liberation Sans", sans-serif' fill="#111" font-weight="bold">D</text>
<line x1="57.7" y1="376.3" x2="57.7" y2="476.9" stroke="#3a3a3a" stroke-width="1.3"/>
<line x1="57.1" y1="477.5" x2="172.3" y2="477.5" stroke="#3a3a3a" stroke-width="1.5"/>
<line x1="55" y1="476.20" x2="57.7" y2="476.20" stroke="#3a3a3a" stroke-width="1"/>
<text x="51.30" y="478.80" font-size="8.5" font-family='"Liberation Sans", sans-serif' fill="#333" text-anchor="end" textLength="10.4" lengthAdjust="spacingAndGlyphs" stroke="#333" stroke-width="0.12">0.0</text>
<line x1="55" y1="456.74" x2="57.7" y2="456.74" stroke="#3a3a3a" stroke-width="1"/>
<text x="51.30" y="459.34" font-size="8.5" font-family='"Liberation Sans", sans-serif' fill="#333" text-anchor="end" textLength="10.4" lengthAdjust="spacingAndGlyphs" stroke="#333" stroke-width="0.12">0.1</text>
<line x1="55" y1="437.28" x2="57.7" y2="437.28" stroke="#3a3a3a" stroke-width="1"/>
<text x="51.30" y="439.88" font-size="8.5" font-family='"Liberation Sans", sans-serif' fill="#333" text-anchor="end" textLength="10.4" lengthAdjust="spacingAndGlyphs" stroke="#333" stroke-width="0.12">0.2</text>
<line x1="55" y1="417.82" x2="57.7" y2="417.82" stroke="#3a3a3a" stroke-width="1"/>
<text x="51.30" y="420.42" font-size="8.5" font-family='"Liberation Sans", sans-serif' fill="#333" text-anchor="end" textLength="10.4" lengthAdjust="spacingAndGlyphs" stroke="#333" stroke-width="0.12">0.3</text>
<line x1="55" y1="398.36" x2="57.7" y2="398.36" stroke="#3a3a3a" stroke-width="1"/>
<text x="51.30" y="400.96" font-size="8.5" font-family='"Liberation Sans", sans-serif' fill="#333" text-anchor="end" textLength="10.4" lengthAdjust="spacingAndGlyphs" stroke="#333" stroke-width="0.12">0.4</text>
<line x1="55" y1="378.90" x2="57.7" y2="378.90" stroke="#3a3a3a" stroke-width="1"/>
<text x="51.30" y="381.50" font-size="8.5" font-family='"Liberation Sans", sans-serif' fill="#333" text-anchor="end" textLength="10.4" lengthAdjust="spacingAndGlyphs" stroke="#333" stroke-width="0.12">0.5</text>
<text transform="rotate(-90)" x="-427.2" y="35" font-size="9" font-family='"Liberation Sans", sans-serif' fill="#333" text-anchor="middle" textLength="12.7" lengthAdjust="spacingAndGlyphs">VAF</text>
<text x="77.00" y="487.90" font-size="8.3" font-family='"Liberation Sans", sans-serif' fill="#333" text-anchor="middle" stroke="#333" stroke-width="0.12">Gran</text>
<text x="105.30" y="487.90" font-size="8.3" font-family='"Liberation Sans", sans-serif' fill="#333" text-anchor="middle" stroke="#333" stroke-width="0.12">Mono</text>
<text x="133.80" y="487.90" font-size="8.3" font-family='"Liberation Sans", sans-serif' fill="#333" text-anchor="middle" stroke="#333" stroke-width="0.12">B</text>
<text x="162.40" y="487.90" font-size="8.3" font-family='"Liberation Sans", sans-serif' fill="#333" text-anchor="middle" stroke="#333" stroke-width="0.12">T</text>
<rect x="67.9" y="455" width="17.8" height="21.2" fill="#d3d4dc"/>
<rect x="96" y="456" width="18.9" height="20.2" fill="#d3d4dc"/>
<rect x="125.1" y="467.9" width="17.9" height="8.3" fill="#d3d4dc"/>
<rect x="153" y="474.5" width="18" height="1.7" fill="#d3d4dc"/>
<line x1="77" y1="389.4" x2="77" y2="476" stroke="#555" stroke-width="1.1"/>
<line x1="71.9" y1="389.4" x2="81.9" y2="389.4" stroke="#444" stroke-width="1.1"/>
<line x1="105.3" y1="391.2" x2="105.3" y2="476" stroke="#555" stroke-width="1.1"/>
<line x1="99.9" y1="391.2" x2="110.4" y2="391.2" stroke="#444" stroke-width="1.1"/>
<line x1="133.8" y1="436.2" x2="133.8" y2="476" stroke="#555" stroke-width="1.1"/>
<line x1="129" y1="436.2" x2="139" y2="436.2" stroke="#444" stroke-width="1.1"/>
<line x1="162.3" y1="459.9" x2="162.3" y2="476" stroke="#555" stroke-width="1.1"/>
<line x1="157.3" y1="459.9" x2="167.6" y2="459.9" stroke="#444" stroke-width="1.1"/>
<line x1="67.9" y1="469" x2="85.8" y2="469" stroke="#111" stroke-width="1.3"/>
<line x1="96" y1="468.2" x2="114.9" y2="468.2" stroke="#111" stroke-width="1.3"/>
<circle cx="77" cy="389.4" r="2.05" fill="#b10c37"/>
<circle cx="77" cy="411.2" r="2.05" fill="#284888"/>
<circle cx="77" cy="420.3" r="2.05" fill="#284888"/>
<circle cx="77" cy="438.9" r="2.05" fill="#b10c37"/>
<circle cx="77" cy="449" r="2.05" fill="#b10c37"/>
<circle cx="74.2" cy="454.6" r="2.05" fill="#b10c37"/>
<circle cx="77.5" cy="453.3" r="2.05" fill="#b10c37"/>
<circle cx="79.5" cy="455" r="2.05" fill="#284888"/>
<circle cx="80.5" cy="456.7" r="2.05" fill="#b10c37"/>
<circle cx="77" cy="463.3" r="2.05" fill="#b10c37"/>
<circle cx="72.5" cy="467.1" r="2.05" fill="#b10c37"/>
<circle cx="74.5" cy="467.9" r="2.05" fill="#b10c37"/>
<circle cx="77.5" cy="467" r="2.05" fill="#284888"/>
<circle cx="80.5" cy="467.1" r="2.05" fill="#284888"/>
<circle cx="82" cy="469" r="2.05" fill="#b10c37"/>
<circle cx="76" cy="470.5" r="2.05" fill="#b10c37"/>
<circle cx="78.5" cy="470" r="2.05" fill="#284888"/>
<circle cx="74.5" cy="471.9" r="2.05" fill="#b10c37"/>
<circle cx="79" cy="472.4" r="2.05" fill="#b10c37"/>
<circle cx="71.5" cy="473.8" r="2.05" fill="#284888"/>
<circle cx="69.5" cy="474.3" r="2.05" fill="#b10c37"/>
<circle cx="75" cy="474" r="2.05" fill="#b10c37"/>
<circle cx="80.5" cy="474" r="2.05" fill="#b10c37"/>
<circle cx="82.5" cy="474.3" r="2.05" fill="#b10c37"/>
<circle cx="85" cy="474.3" r="2.05" fill="#b10c37"/>
<circle cx="76" cy="474.8" r="2.05" fill="#284888"/>
<circle cx="105.3" cy="391.2" r="2.05" fill="#b10c37"/>
<circle cx="105.3" cy="402.5" r="2.05" fill="#284888"/>
<circle cx="105.3" cy="411.2" r="2.05" fill="#284888"/>
<circle cx="105.3" cy="429" r="2.05" fill="#b10c37"/>
<circle cx="105.3" cy="444.2" r="2.05" fill="#b10c37"/>
<circle cx="107.3" cy="453.1" r="2.05" fill="#284888"/>
<circle cx="104.5" cy="454.9" r="2.05" fill="#b10c37"/>
<circle cx="105.5" cy="456.3" r="2.05" fill="#b10c37"/>
<circle cx="105.5" cy="462.3" r="2.05" fill="#284888"/>
<circle cx="107" cy="462.6" r="2.05" fill="#b10c37"/>
<circle cx="110" cy="464.3" r="2.05" fill="#284888"/>
<circle cx="101.5" cy="464.7" r="2.05" fill="#b10c37"/>
<circle cx="104" cy="466.4" r="2.05" fill="#b10c37"/>
<circle cx="106.5" cy="468" r="2.05" fill="#b10c37"/>
<circle cx="103.5" cy="467.8" r="2.05" fill="#284888"/>
<circle cx="108.5" cy="470.1" r="2.05" fill="#284888"/>
<circle cx="102.5" cy="471.7" r="2.05" fill="#b10c37"/>
<circle cx="106" cy="471.2" r="2.05" fill="#b10c37"/>
<circle cx="97.5" cy="474.1" r="2.05" fill="#b10c37"/>
<circle cx="100.5" cy="473.8" r="2.05" fill="#b10c37"/>
<circle cx="104" cy="473.8" r="2.05" fill="#b10c37"/>
<circle cx="107.5" cy="473.5" r="2.05" fill="#b10c37"/>
<circle cx="111" cy="473.8" r="2.05" fill="#b10c37"/>
<circle cx="113.5" cy="476.2" r="2.05" fill="#284888"/>
<circle cx="133.8" cy="436.2" r="2.05" fill="#b10c37"/>
<circle cx="133.8" cy="451" r="2.05" fill="#284888"/>
<circle cx="133.8" cy="457.3" r="2.05" fill="#b10c37"/>
<circle cx="135.5" cy="461.7" r="2.05" fill="#284888"/>
<circle cx="133.5" cy="463.7" r="2.05" fill="#b10c37"/>
<circle cx="133" cy="465.4" r="2.05" fill="#b10c37"/>
<circle cx="132" cy="466.5" r="2.05" fill="#284888"/>
<circle cx="134.5" cy="467.6" r="2.05" fill="#b10c37"/>
<circle cx="133.5" cy="470.7" r="2.05" fill="#284888"/>
<circle cx="125.6" cy="473.3" r="2.05" fill="#284888"/>
<circle cx="128.6" cy="472.2" r="2.05" fill="#284888"/>
<circle cx="137.5" cy="471.8" r="2.05" fill="#284888"/>
<circle cx="130.5" cy="473" r="2.05" fill="#b10c37"/>
<circle cx="136" cy="472.5" r="2.05" fill="#b10c37"/>
<circle cx="140" cy="473.5" r="2.05" fill="#b10c37"/>
<circle cx="127.2" cy="475.2" r="2.05" fill="#b10c37"/>
<circle cx="129.8" cy="474.8" r="2.05" fill="#b10c37"/>
<circle cx="132.3" cy="475" r="2.05" fill="#b10c37"/>
<circle cx="134.8" cy="474.6" r="2.05" fill="#b10c37"/>
<circle cx="137.3" cy="474" r="2.05" fill="#b10c37"/>
<circle cx="139.8" cy="474.9" r="2.05" fill="#b10c37"/>
<circle cx="142" cy="475.2" r="2.05" fill="#b10c37"/>
<circle cx="162.3" cy="459.9" r="2.05" fill="#b10c37"/>
<circle cx="162.3" cy="469.4" r="2.05" fill="#284888"/>
<circle cx="156" cy="473.2" r="2.05" fill="#284888"/>
<circle cx="158.5" cy="472.6" r="2.05" fill="#284888"/>
<circle cx="162.5" cy="471.6" r="2.05" fill="#b10c37"/>
<circle cx="164.3" cy="472.2" r="2.05" fill="#b10c37"/>
<circle cx="160.6" cy="472.9" r="2.05" fill="#b10c37"/>
<circle cx="155.2" cy="475.5" r="2.05" fill="#b10c37"/>
<circle cx="157.7" cy="475.2" r="2.05" fill="#b10c37"/>
<circle cx="160.2" cy="474.8" r="2.05" fill="#b10c37"/>
<circle cx="162.7" cy="474" r="2.05" fill="#b10c37"/>
<circle cx="165.2" cy="473.6" r="2.05" fill="#b10c37"/>
<circle cx="167.3" cy="474.8" r="2.05" fill="#b10c37"/>
<circle cx="169.6" cy="475.3" r="2.05" fill="#b10c37"/>
<circle cx="171.6" cy="476.2" r="2.05" fill="#284888"/>
<path d="M76.5,360.8 V359.5 H162.6 V360.8" fill="none" stroke="#222" stroke-width="1"/>
<text x="119.55" y="357.70" font-size="7.5" font-family='"Liberation Sans", sans-serif' fill="#222" text-anchor="middle" stroke="#222" stroke-width="0.12">&lt;0.0001</text>
<path d="M76.5,371.8 V370.5 H133.8 V371.8" fill="none" stroke="#222" stroke-width="1"/>
<text x="105.15" y="368.50" font-size="7.5" font-family='"Liberation Sans", sans-serif' fill="#222" text-anchor="middle" stroke="#222" stroke-width="0.12">0.0002</text>
<path d="M105,382.8 V381.5 H133.8 V382.8" fill="none" stroke="#222" stroke-width="1"/>
<text x="119.40" y="379.20" font-size="7.5" font-family='"Liberation Sans", sans-serif' fill="#222" text-anchor="middle" stroke="#222" stroke-width="0.12">&lt;0.0001</text>
<path d="M76.5,386.8 V385.5 H105.3 V386.8" fill="none" stroke="#222" stroke-width="1"/>
<text x="90.90" y="383.80" font-size="7.5" font-family='"Liberation Sans", sans-serif' fill="#222" text-anchor="middle" stroke="#222" stroke-width="0.12">ns</text>
<path d="M133.4,432.8 V431.5 H162.9 V432.8" fill="none" stroke="#222" stroke-width="1"/>
<text x="148.15" y="428.90" font-size="7.5" font-family='"Liberation Sans", sans-serif' fill="#222" text-anchor="middle" stroke="#222" stroke-width="0.12">&lt;0.0001</text>
<rect x="151.9" y="377.8" width="6.9" height="7.2" fill="#284888"/>
<rect x="151.9" y="389" width="6.9" height="7.2" fill="#b10c37"/>
<text x="162.30" y="383.90" font-size="7.6" font-family='"Liberation Sans", sans-serif' fill="#333" stroke="#333" stroke-width="0.12">Donor</text>
<text x="162.30" y="394.90" font-size="7.5" font-family='"Liberation Sans", sans-serif' fill="#333" stroke="#333" stroke-width="0.12">Recipient</text>
<rect x="16.5" y="492.6" width="160.4" height="25.0" fill="none" stroke="#222" stroke-width="1"/>
<line x1="16.5" y1="505.2" x2="176.9" y2="505.2" stroke="#222" stroke-width="1"/>
<line x1="62.6" y1="492.6" x2="62.6" y2="517.6" stroke="#222" stroke-width="1"/>
<line x1="91.2" y1="492.6" x2="91.2" y2="517.6" stroke="#222" stroke-width="1"/>
<line x1="119.8" y1="492.6" x2="119.8" y2="517.6" stroke="#222" stroke-width="1"/>
<line x1="148.6" y1="492.6" x2="148.6" y2="517.6" stroke="#222" stroke-width="1"/>
<text x="60.20" y="501.40" font-size="7.6" font-family='"Liberation Sans", sans-serif' fill="#333" text-anchor="end" stroke="#333" stroke-width="0.12">mean VAF</text>
<text x="60.20" y="514.00" font-size="7.6" font-family='"Liberation Sans", sans-serif' fill="#333" text-anchor="end" stroke="#333" stroke-width="0.12">median VAF</text>
<text x="76.90" y="501.40" font-size="7.6" font-family='"Liberation Sans", sans-serif' fill="#333" text-anchor="middle" stroke="#333" stroke-width="0.12">0.080</text>
<text x="76.90" y="514.00" font-size="7.6" font-family='"Liberation Sans", sans-serif' fill="#333" text-anchor="middle" stroke="#333" stroke-width="0.12">0.035</text>
<text x="105.50" y="501.40" font-size="7.6" font-family='"Liberation Sans", sans-serif' fill="#333" text-anchor="middle" stroke="#333" stroke-width="0.12">0.083</text>
<text x="105.50" y="514.00" font-size="7.6" font-family='"Liberation Sans", sans-serif' fill="#333" text-anchor="middle" stroke="#333" stroke-width="0.12">0.040</text>
<text x="134.20" y="501.40" font-size="7.6" font-family='"Liberation Sans", sans-serif' fill="#333" text-anchor="middle" stroke="#333" stroke-width="0.12">0.028</text>
<text x="134.20" y="514.00" font-size="7.6" font-family='"Liberation Sans", sans-serif' fill="#333" text-anchor="middle" stroke="#333" stroke-width="0.12">0.007</text>
<text x="162.75" y="501.40" font-size="7.6" font-family='"Liberation Sans", sans-serif' fill="#333" text-anchor="middle" stroke="#333" stroke-width="0.12">0.007</text>
<text x="162.75" y="514.00" font-size="7.6" font-family='"Liberation Sans", sans-serif' fill="#333" text-anchor="middle" stroke="#333" stroke-width="0.12">0.000</text>
<rect x="0.5" y="0.5" width="519" height="524" fill="none" stroke="#111" stroke-width="1.2"/>
</svg>
</body></html>
